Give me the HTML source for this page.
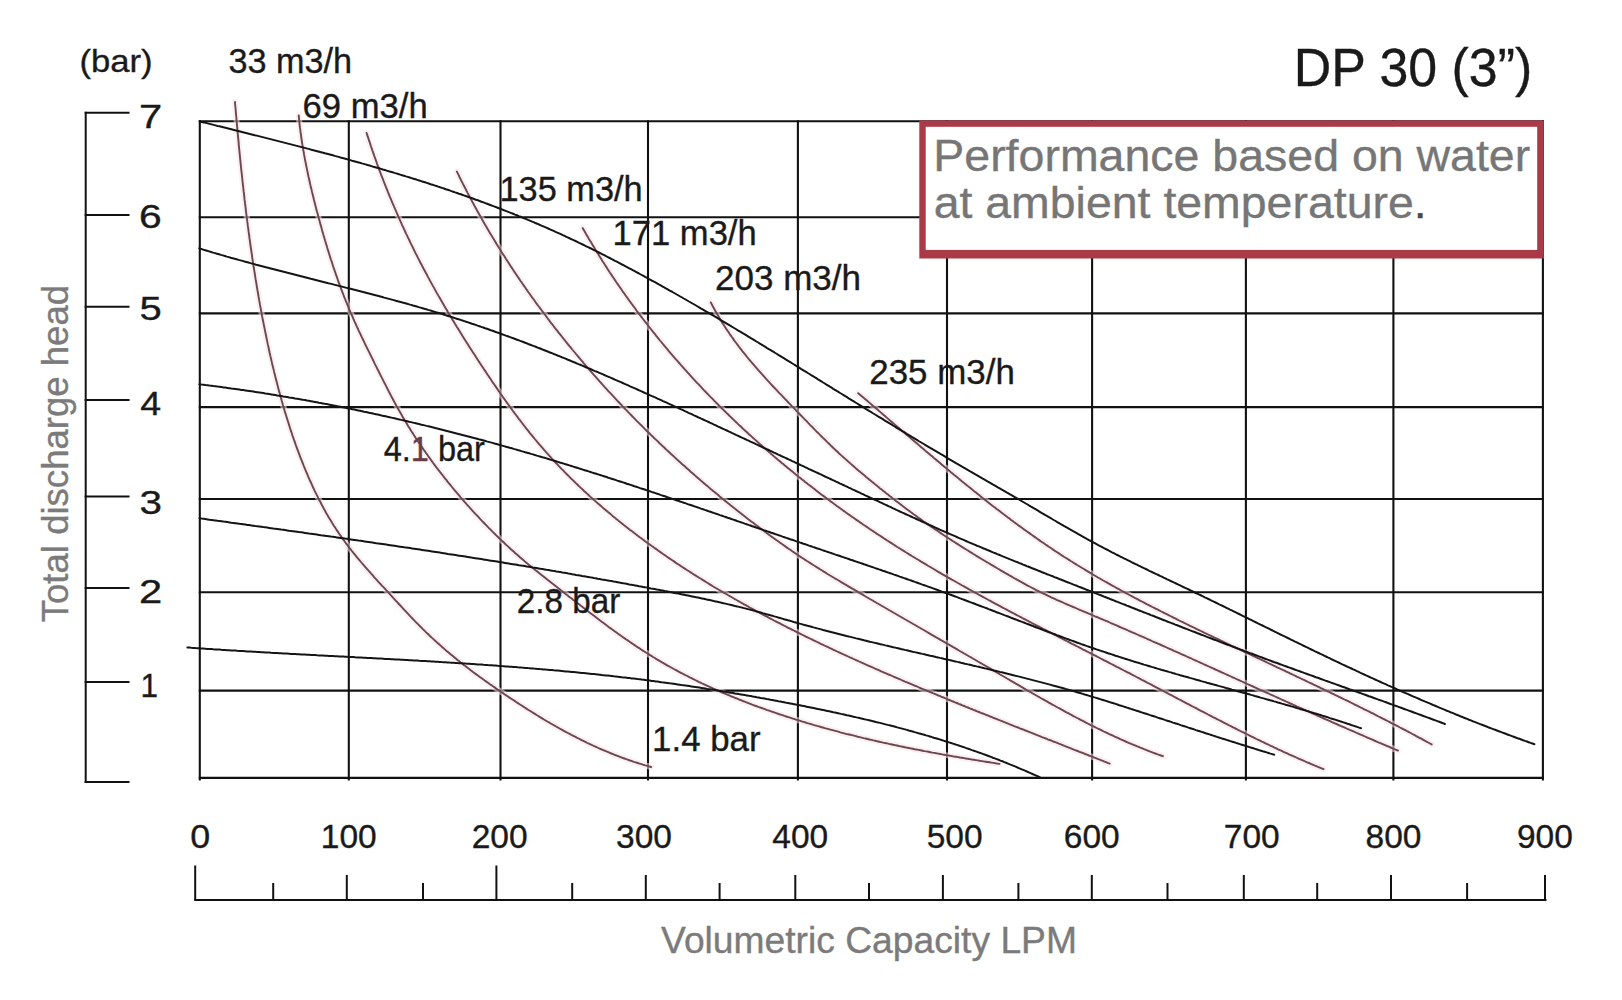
<!DOCTYPE html>
<html><head><meta charset="utf-8"><title>DP 30 (3") performance curve</title>
<style>html,body{margin:0;padding:0;background:#fff;width:1622px;height:1000px;overflow:hidden}svg{display:block;font-family:"Liberation Sans",sans-serif}</style>
</head><body><svg width="1622" height="1000" viewBox="0 0 1622 1000"><rect width="100%" height="100%" fill="#fff"/><g stroke="#111" stroke-width="2.1" fill="none"><line x1="199.8" y1="120.3" x2="199.8" y2="780.4"/><line x1="348.8" y1="120.3" x2="348.8" y2="780.4"/><line x1="500.5" y1="120.3" x2="500.5" y2="780.4"/><line x1="648.0" y1="120.3" x2="648.0" y2="780.4"/><line x1="797.9" y1="120.3" x2="797.9" y2="780.4"/><line x1="947.0" y1="120.3" x2="947.0" y2="780.4"/><line x1="1092.1" y1="120.3" x2="1092.1" y2="780.4"/><line x1="1245.9" y1="120.3" x2="1245.9" y2="780.4"/><line x1="1393.4" y1="120.3" x2="1393.4" y2="780.4"/><line x1="1542.9" y1="120.3" x2="1542.9" y2="780.4"/><line x1="198.8" y1="121.3" x2="1543.9" y2="121.3"/><line x1="198.8" y1="217.2" x2="1543.9" y2="217.2"/><line x1="198.8" y1="313.4" x2="1543.9" y2="313.4"/><line x1="198.8" y1="407.1" x2="1543.9" y2="407.1"/><line x1="198.8" y1="499.0" x2="1543.9" y2="499.0"/><line x1="198.8" y1="592.2" x2="1543.9" y2="592.2"/><line x1="198.8" y1="690.6" x2="1543.9" y2="690.6"/><line x1="198.8" y1="777.9" x2="1543.9" y2="777.9"/></g><g stroke="#111" stroke-width="2" fill="none"><line x1="85.7" y1="111.8" x2="85.7" y2="783.1"/><line x1="84.7" y1="112.8" x2="129.5" y2="112.8"/><line x1="84.7" y1="215.1" x2="129.5" y2="215.1"/><line x1="84.7" y1="306.8" x2="129.5" y2="306.8"/><line x1="84.7" y1="400.1" x2="129.5" y2="400.1"/><line x1="84.7" y1="496.4" x2="129.5" y2="496.4"/><line x1="84.7" y1="588.1" x2="129.5" y2="588.1"/><line x1="84.7" y1="682.0" x2="129.5" y2="682.0"/><line x1="84.7" y1="782.1" x2="129.5" y2="782.1"/></g><g stroke="#111" stroke-width="2" fill="none"><line x1="194.2" y1="900.0" x2="1546.5" y2="900.0"/><line x1="195.2" y1="865.5" x2="195.2" y2="900.0"/><line x1="346.8" y1="875.0" x2="346.8" y2="900.0"/><line x1="496.4" y1="865.5" x2="496.4" y2="900.0"/><line x1="645.8" y1="875.0" x2="645.8" y2="900.0"/><line x1="795.3" y1="875.0" x2="795.3" y2="900.0"/><line x1="942.9" y1="875.0" x2="942.9" y2="900.0"/><line x1="1091.8" y1="875.0" x2="1091.8" y2="900.0"/><line x1="1243.8" y1="875.0" x2="1243.8" y2="900.0"/><line x1="1391.0" y1="875.0" x2="1391.0" y2="900.0"/><line x1="1545.0" y1="875.0" x2="1545.0" y2="900.0"/><line x1="273.2" y1="883.0" x2="273.2" y2="900.0"/><line x1="423.0" y1="883.0" x2="423.0" y2="900.0"/><line x1="572.2" y1="883.0" x2="572.2" y2="900.0"/><line x1="719.6" y1="883.0" x2="719.6" y2="900.0"/><line x1="869.0" y1="883.0" x2="869.0" y2="900.0"/><line x1="1018.4" y1="883.0" x2="1018.4" y2="900.0"/><line x1="1167.5" y1="883.0" x2="1167.5" y2="900.0"/><line x1="1317.2" y1="883.0" x2="1317.2" y2="900.0"/><line x1="1467.1" y1="883.0" x2="1467.1" y2="900.0"/></g><g stroke="#f8e2e7" stroke-width="6" fill="none" stroke-linecap="round" opacity="0.55"><path d="M235.0,102.0 L235.1,104.0 L235.3,106.0 L235.5,108.0 L235.7,110.0 L235.8,112.0 L236.0,114.0 L236.2,116.0 L236.4,118.0 L236.5,120.0 L236.7,122.0 L236.9,124.1 L237.1,126.1 L237.3,128.1 L237.4,130.1 L237.6,132.1 L237.8,134.1 L238.0,136.1 L238.2,138.1 L238.4,140.1 L238.6,142.1 L238.7,144.1 L238.9,146.1 L239.1,148.1 L239.3,150.1 L239.5,152.1 L239.7,154.1 L239.9,156.1 L240.1,158.1 L240.3,160.1 L240.5,162.1 L240.7,164.1 L240.9,166.1 L241.1,168.0 L241.3,170.0 L241.5,172.0 L241.8,174.0 L242.0,176.0 L242.2,178.0 L242.4,180.0 L242.6,182.0 L242.8,184.0 L243.1,186.0 L243.3,188.0 L243.5,190.0 L243.7,191.9 L244.0,193.9 L244.2,195.9 L244.4,197.9 L244.6,199.9 L244.9,201.9 L245.1,203.9 L245.4,205.9 L245.6,207.9 L245.8,209.8 L246.1,211.8 L246.3,213.8 L246.6,215.8 L246.8,217.8 L247.1,219.8 L247.3,221.7 L247.6,223.7 L247.8,225.7 L248.1,227.7 L248.4,229.7 L248.6,231.7 L248.9,233.6 L249.2,235.6 L249.4,237.6 L249.7,239.6 L250.0,241.6 L250.2,243.6 L250.5,245.5 L250.8,247.5 L251.1,249.5 L251.4,251.5 L251.7,253.5 L252.0,255.4 L252.2,257.4 L252.5,259.4 L252.8,261.4 L253.1,263.4 L253.4,265.3 L253.7,267.3 L254.1,269.3 L254.4,271.3 L254.7,273.2 L255.0,275.2 L255.3,277.2 L255.6,279.2 L256.0,281.2 L256.3,283.1 L256.6,285.1 L256.9,287.1 L257.3,289.1 L257.6,291.0 L258.0,293.0 L258.3,295.0 L258.6,297.0 L259.0,299.0 L259.3,300.9 L259.7,302.9 L260.0,304.9 L260.4,306.9 L260.8,308.8 L261.1,310.8 L261.5,312.8 L261.9,314.8 L262.2,316.7 L262.6,318.7 L263.0,320.7 L263.4,322.7 L263.8,324.6 L264.2,326.6 L264.6,328.6 L265.0,330.6 L265.4,332.5 L265.8,334.5 L266.2,336.5 L266.6,338.5 L267.0,340.4 L267.4,342.4 L267.8,344.4 L268.3,346.3 L268.7,348.3 L269.1,350.3 L269.5,352.2 L270.0,354.2 L270.4,356.2 L270.9,358.1 L271.3,360.1 L271.8,362.1 L272.2,364.0 L272.7,366.0 L273.2,368.0 L273.7,369.9 L274.1,371.9 L274.6,373.8 L275.1,375.8 L275.6,377.7 L276.1,379.7 L276.6,381.6 L277.1,383.6 L277.6,385.5 L278.1,387.5 L278.6,389.4 L279.1,391.4 L279.7,393.3 L280.2,395.3 L280.7,397.2 L281.3,399.1 L281.8,401.1 L282.4,403.0 L282.9,404.9 L283.5,406.9 L284.1,408.8 L284.6,410.7 L285.2,412.6 L285.8,414.6 L286.4,416.5 L287.0,418.4 L287.6,420.3 L288.2,422.2 L288.8,424.1 L289.4,426.1 L290.0,428.0 L290.6,429.9 L291.3,431.8 L291.9,433.7 L292.5,435.6 L293.2,437.5 L293.8,439.4 L294.5,441.2 L295.2,443.1 L295.8,445.0 L296.5,446.9 L297.2,448.8 L297.9,450.6 L298.6,452.5 L299.3,454.4 L300.0,456.3 L300.7,458.1 L301.4,460.0 L302.2,461.8 L302.9,463.7 L303.6,465.5 L304.4,467.4 L305.1,469.2 L305.9,471.1 L306.7,472.9 L307.5,474.7 L308.2,476.6 L309.0,478.4 L309.8,480.2 L310.7,482.0 L311.5,483.9 L312.3,485.7 L313.1,487.5 L314.0,489.3 L314.8,491.1 L315.7,492.9 L316.6,494.6 L317.5,496.4 L318.3,498.2 L319.2,500.0 L320.2,501.7 L321.1,503.5 L322.0,505.3 L323.0,507.0 L323.9,508.8 L324.9,510.5 L325.8,512.2 L326.8,514.0 L327.8,515.7 L328.8,517.4 L329.8,519.1 L330.9,520.8 L331.9,522.5 L333.0,524.2 L334.0,525.9 L335.1,527.6 L336.2,529.3 L337.3,530.9 L338.4,532.6 L339.5,534.3 L340.7,535.9 L341.8,537.6 L343.0,539.2 L344.2,540.8 L345.4,542.5 L346.6,544.1 L347.8,545.7 L349.0,547.3 L350.3,548.9 L351.5,550.5 L352.8,552.1 L354.0,553.6 L355.3,555.2 L356.6,556.8 L357.9,558.4 L359.2,559.9 L360.5,561.5 L361.8,563.0 L363.2,564.6 L364.5,566.1 L365.8,567.6 L367.2,569.2 L368.5,570.7 L369.9,572.2 L371.2,573.7 L372.6,575.2 L373.9,576.8 L375.3,578.3 L376.7,579.8 L378.0,581.3 L379.4,582.8 L380.8,584.3 L382.1,585.8 L383.5,587.2 L384.9,588.7 L386.2,590.2 L387.6,591.7 L389.0,593.2 L390.3,594.7 L391.7,596.1 L393.0,597.6 L394.4,599.1 L395.7,600.6 L397.1,602.0 L398.4,603.5 L399.8,605.0 L401.1,606.4 L402.5,607.9 L403.8,609.3 L405.2,610.8 L406.5,612.2 L407.9,613.7 L409.2,615.1 L410.6,616.6 L412.0,618.0 L413.3,619.4 L414.7,620.9 L416.1,622.3 L417.5,623.7 L418.9,625.1 L420.3,626.5 L421.7,627.9 L423.1,629.3 L424.5,630.7 L425.9,632.1 L427.4,633.5 L428.8,634.8 L430.2,636.2 L431.7,637.6 L433.2,638.9 L434.6,640.3 L436.1,641.6 L437.6,643.0 L439.1,644.3 L440.6,645.6 L442.1,647.0 L443.6,648.3 L445.1,649.6 L446.6,650.9 L448.2,652.2 L449.7,653.5 L451.2,654.8 L452.8,656.1 L454.3,657.3 L455.9,658.6 L457.4,659.9 L459.0,661.1 L460.6,662.4 L462.2,663.6 L463.7,664.9 L465.3,666.1 L466.9,667.3 L468.5,668.5 L470.1,669.8 L471.7,671.0 L473.3,672.2 L474.9,673.4 L476.6,674.6 L478.2,675.8 L479.8,676.9 L481.4,678.1 L483.1,679.3 L484.7,680.5 L486.3,681.6 L488.0,682.8 L489.6,684.0 L491.3,685.1 L492.9,686.3 L494.6,687.4 L496.2,688.6 L497.9,689.7 L499.5,690.8 L501.2,692.0 L502.9,693.1 L504.5,694.2 L506.2,695.4 L507.9,696.5 L509.5,697.6 L511.2,698.7 L512.9,699.8 L514.6,700.9 L516.2,702.0 L517.9,703.1 L519.6,704.2 L521.3,705.3 L523.0,706.4 L524.7,707.5 L526.4,708.6 L528.1,709.7 L529.8,710.7 L531.5,711.8 L533.2,712.9 L534.9,713.9 L536.6,715.0 L538.3,716.0 L540.0,717.1 L541.7,718.1 L543.5,719.2 L545.2,720.2 L546.9,721.2 L548.6,722.2 L550.4,723.2 L552.1,724.2 L553.8,725.2 L555.6,726.2 L557.3,727.2 L559.1,728.2 L560.8,729.2 L562.6,730.1 L564.3,731.1 L566.1,732.1 L567.9,733.0 L569.6,733.9 L571.4,734.9 L573.2,735.8 L575.0,736.7 L576.7,737.6 L578.5,738.5 L580.3,739.4 L582.1,740.3 L583.9,741.2 L585.7,742.1 L587.5,743.0 L589.3,743.8 L591.1,744.7 L592.9,745.5 L594.8,746.3 L596.6,747.2 L598.4,748.0 L600.2,748.8 L602.1,749.6 L603.9,750.4 L605.8,751.2 L607.6,751.9 L609.4,752.7 L611.3,753.5 L613.2,754.2 L615.0,755.0 L616.9,755.7 L618.8,756.4 L620.6,757.1 L622.5,757.8 L624.4,758.5 L626.3,759.2 L628.2,759.8 L630.1,760.5 L632.0,761.1 L633.9,761.8 L635.8,762.4 L637.7,763.0 L639.6,763.6 L641.6,764.2 L643.5,764.8 L645.4,765.4 L647.4,765.9 L649.3,766.5 L651.2,767.0"/><path d="M298.7,115.4 L298.9,117.4 L299.1,119.4 L299.3,121.3 L299.5,123.3 L299.7,125.3 L299.9,127.2 L300.2,129.2 L300.4,131.2 L300.7,133.1 L301.0,135.1 L301.2,137.0 L301.5,139.0 L301.8,141.0 L302.1,142.9 L302.4,144.9 L302.8,146.9 L303.1,148.8 L303.4,150.8 L303.8,152.7 L304.1,154.7 L304.5,156.7 L304.8,158.6 L305.2,160.6 L305.6,162.5 L306.0,164.5 L306.4,166.5 L306.8,168.4 L307.2,170.4 L307.6,172.3 L308.0,174.3 L308.4,176.2 L308.9,178.2 L309.3,180.2 L309.7,182.1 L310.2,184.1 L310.6,186.0 L311.1,188.0 L311.6,189.9 L312.0,191.9 L312.5,193.8 L313.0,195.8 L313.5,197.7 L313.9,199.7 L314.4,201.6 L314.9,203.5 L315.4,205.5 L315.9,207.4 L316.4,209.4 L316.9,211.3 L317.5,213.3 L318.0,215.2 L318.5,217.1 L319.0,219.1 L319.6,221.0 L320.1,222.9 L320.6,224.9 L321.2,226.8 L321.7,228.7 L322.2,230.7 L322.8,232.6 L323.3,234.5 L323.9,236.5 L324.5,238.4 L325.0,240.3 L325.6,242.2 L326.2,244.2 L326.8,246.1 L327.3,248.0 L327.9,249.9 L328.5,251.8 L329.1,253.7 L329.7,255.7 L330.3,257.6 L330.9,259.5 L331.6,261.4 L332.2,263.3 L332.8,265.2 L333.4,267.1 L334.1,269.0 L334.7,270.9 L335.4,272.8 L336.0,274.7 L336.7,276.6 L337.4,278.5 L338.0,280.4 L338.7,282.3 L339.4,284.2 L340.1,286.1 L340.8,288.0 L341.5,289.8 L342.2,291.7 L343.0,293.6 L343.7,295.5 L344.4,297.4 L345.2,299.2 L345.9,301.1 L346.7,303.0 L347.4,304.9 L348.2,306.7 L349.0,308.6 L349.8,310.5 L350.5,312.3 L351.3,314.2 L352.2,316.0 L353.0,317.9 L353.8,319.8 L354.6,321.6 L355.5,323.5 L356.3,325.3 L357.1,327.2 L358.0,329.0 L358.8,330.8 L359.7,332.7 L360.6,334.5 L361.4,336.3 L362.3,338.2 L363.2,340.0 L364.1,341.8 L364.9,343.7 L365.8,345.5 L366.7,347.3 L367.6,349.1 L368.5,350.9 L369.4,352.7 L370.3,354.6 L371.2,356.4 L372.1,358.2 L373.0,360.0 L373.9,361.8 L374.7,363.6 L375.6,365.4 L376.5,367.2 L377.4,369.0 L378.3,370.7 L379.2,372.5 L380.1,374.3 L381.0,376.1 L381.9,377.9 L382.8,379.6 L383.7,381.4 L384.6,383.2 L385.5,384.9 L386.4,386.7 L387.3,388.5 L388.2,390.2 L389.1,392.0 L390.0,393.7 L390.9,395.5 L391.8,397.2 L392.8,399.0 L393.7,400.7 L394.6,402.4 L395.6,404.2 L396.5,405.9 L397.5,407.6 L398.4,409.3 L399.4,411.1 L400.4,412.8 L401.4,414.5 L402.3,416.2 L403.3,417.9 L404.3,419.6 L405.4,421.3 L406.4,423.0 L407.4,424.7 L408.4,426.4 L409.5,428.1 L410.5,429.8 L411.6,431.5 L412.7,433.1 L413.7,434.8 L414.8,436.5 L415.9,438.2 L417.0,439.8 L418.1,441.5 L419.2,443.1 L420.3,444.8 L421.4,446.4 L422.6,448.1 L423.7,449.7 L424.9,451.4 L426.0,453.0 L427.2,454.6 L428.3,456.3 L429.5,457.9 L430.7,459.5 L431.8,461.1 L433.0,462.8 L434.2,464.4 L435.4,466.0 L436.6,467.6 L437.8,469.2 L439.1,470.8 L440.3,472.4 L441.5,473.9 L442.8,475.5 L444.0,477.1 L445.2,478.7 L446.5,480.2 L447.7,481.8 L449.0,483.4 L450.3,484.9 L451.6,486.5 L452.8,488.0 L454.1,489.6 L455.4,491.1 L456.7,492.7 L458.0,494.2 L459.3,495.7 L460.6,497.3 L461.9,498.8 L463.2,500.3 L464.6,501.8 L465.9,503.3 L467.2,504.8 L468.6,506.3 L469.9,507.8 L471.3,509.3 L472.6,510.8 L474.0,512.3 L475.3,513.8 L476.7,515.2 L478.1,516.7 L479.4,518.2 L480.8,519.6 L482.2,521.1 L483.6,522.5 L485.0,524.0 L486.4,525.4 L487.8,526.9 L489.2,528.3 L490.6,529.7 L492.0,531.1 L493.5,532.6 L494.9,534.0 L496.3,535.4 L497.8,536.8 L499.2,538.2 L500.7,539.6 L502.1,541.0 L503.6,542.3 L505.0,543.7 L506.5,545.1 L508.0,546.4 L509.4,547.8 L510.9,549.2 L512.4,550.5 L513.9,551.8 L515.4,553.2 L516.9,554.5 L518.4,555.8 L519.9,557.2 L521.4,558.5 L523.0,559.8 L524.5,561.1 L526.0,562.4 L527.6,563.7 L529.1,565.0 L530.7,566.3 L532.2,567.5 L533.8,568.8 L535.3,570.1 L536.9,571.3 L538.5,572.6 L540.0,573.8 L541.6,575.1 L543.2,576.3 L544.8,577.6 L546.3,578.8 L547.9,580.1 L549.5,581.3 L551.1,582.6 L552.7,583.8 L554.3,585.0 L555.9,586.3 L557.4,587.5 L559.0,588.7 L560.6,590.0 L562.2,591.2 L563.8,592.4 L565.4,593.7 L567.0,594.9 L568.5,596.2 L570.1,597.4 L571.7,598.6 L573.3,599.9 L574.9,601.1 L576.5,602.3 L578.1,603.6 L579.7,604.8 L581.2,606.0 L582.8,607.3 L584.4,608.5 L586.0,609.7 L587.6,610.9 L589.2,612.2 L590.8,613.4 L592.4,614.6 L594.0,615.8 L595.6,617.0 L597.2,618.3 L598.8,619.5 L600.4,620.7 L602.0,621.9 L603.6,623.1 L605.2,624.3 L606.8,625.5 L608.4,626.7 L610.0,627.9 L611.6,629.0 L613.3,630.2 L614.9,631.4 L616.5,632.6 L618.1,633.7 L619.8,634.9 L621.4,636.1 L623.0,637.2 L624.7,638.4 L626.3,639.5 L628.0,640.6 L629.6,641.8 L631.3,642.9 L632.9,644.0 L634.6,645.1 L636.2,646.2 L637.9,647.4 L639.6,648.4 L641.2,649.5 L642.9,650.6 L644.6,651.7 L646.3,652.8 L648.0,653.8 L649.7,654.9 L651.4,655.9 L653.1,657.0 L654.8,658.0 L656.5,659.1 L658.2,660.1 L659.9,661.1 L661.6,662.1 L663.4,663.1 L665.1,664.1 L666.8,665.1 L668.6,666.1 L670.3,667.0 L672.1,668.0 L673.8,669.0 L675.6,669.9 L677.3,670.9 L679.1,671.8 L680.9,672.8 L682.6,673.7 L684.4,674.6 L686.2,675.5 L688.0,676.4 L689.7,677.3 L691.5,678.2 L693.3,679.1 L695.1,680.0 L696.9,680.9 L698.7,681.8 L700.5,682.6 L702.3,683.5 L704.1,684.3 L705.9,685.2 L707.8,686.0 L709.6,686.9 L711.4,687.7 L713.2,688.5 L715.1,689.3 L716.9,690.2 L718.7,691.0 L720.6,691.8 L722.4,692.6 L724.2,693.4 L726.1,694.1 L727.9,694.9 L729.8,695.7 L731.6,696.5 L733.5,697.2 L735.3,698.0 L737.2,698.7 L739.1,699.5 L740.9,700.2 L742.8,701.0 L744.7,701.7 L746.5,702.4 L748.4,703.1 L750.3,703.8 L752.2,704.6 L754.0,705.3 L755.9,706.0 L757.8,706.7 L759.7,707.3 L761.6,708.0 L763.5,708.7 L765.4,709.4 L767.3,710.1 L769.2,710.7 L771.1,711.4 L773.0,712.0 L774.9,712.7 L776.8,713.3 L778.7,714.0 L780.6,714.6 L782.5,715.2 L784.4,715.9 L786.3,716.5 L788.2,717.1 L790.1,717.7 L792.0,718.3 L793.9,718.9 L795.9,719.6 L797.8,720.1 L799.7,720.7 L801.6,721.3 L803.5,721.9 L805.5,722.5 L807.4,723.1 L809.3,723.6 L811.2,724.2 L813.2,724.8 L815.1,725.3 L817.0,725.9 L819.0,726.4 L820.9,727.0 L822.8,727.5 L824.8,728.1 L826.7,728.6 L828.6,729.1 L830.6,729.7 L832.5,730.2 L834.4,730.7 L836.4,731.2 L838.3,731.7 L840.3,732.3 L842.2,732.8 L844.1,733.3 L846.1,733.8 L848.0,734.3 L850.0,734.7 L851.9,735.2 L853.9,735.7 L855.8,736.2 L857.8,736.7 L859.7,737.1 L861.7,737.6 L863.6,738.1 L865.6,738.5 L867.5,739.0 L869.5,739.5 L871.4,739.9 L873.4,740.4 L875.3,740.8 L877.3,741.3 L879.2,741.7 L881.2,742.1 L883.2,742.6 L885.1,743.0 L887.1,743.4 L889.0,743.9 L891.0,744.3 L893.0,744.7 L894.9,745.1 L896.9,745.5 L898.9,746.0 L900.8,746.4 L902.8,746.8 L904.7,747.2 L906.7,747.6 L908.7,748.0 L910.6,748.4 L912.6,748.8 L914.6,749.2 L916.5,749.5 L918.5,749.9 L920.5,750.3 L922.5,750.7 L924.4,751.1 L926.4,751.4 L928.4,751.8 L930.3,752.2 L932.3,752.6 L934.3,752.9 L936.3,753.3 L938.2,753.6 L940.2,754.0 L942.2,754.4 L944.1,754.7 L946.1,755.1 L948.1,755.4 L950.1,755.8 L952.0,756.1 L954.0,756.5 L956.0,756.8 L958.0,757.1 L959.9,757.5 L961.9,757.8 L963.9,758.1 L965.9,758.5 L967.8,758.8 L969.8,759.1 L971.8,759.5 L973.8,759.8 L975.8,760.1 L977.7,760.4 L979.7,760.8 L981.7,761.1 L983.7,761.4 L985.6,761.7 L987.6,762.0 L989.6,762.3 L991.6,762.6 L993.5,762.9 L995.5,763.3 L997.5,763.6 L999.5,763.9"/><path d="M366.6,133.0 L367.2,134.9 L367.9,136.9 L368.5,138.8 L369.1,140.7 L369.8,142.6 L370.4,144.6 L371.0,146.5 L371.7,148.4 L372.3,150.3 L373.0,152.2 L373.7,154.1 L374.3,156.0 L375.0,157.9 L375.7,159.8 L376.4,161.7 L377.0,163.6 L377.7,165.5 L378.4,167.4 L379.1,169.3 L379.8,171.1 L380.5,173.0 L381.2,174.9 L382.0,176.8 L382.7,178.6 L383.4,180.5 L384.1,182.4 L384.9,184.3 L385.6,186.1 L386.3,188.0 L387.1,189.8 L387.8,191.7 L388.6,193.6 L389.3,195.4 L390.1,197.3 L390.9,199.1 L391.6,201.0 L392.4,202.8 L393.2,204.6 L394.0,206.5 L394.8,208.3 L395.6,210.1 L396.4,212.0 L397.2,213.8 L398.0,215.6 L398.8,217.5 L399.6,219.3 L400.4,221.1 L401.2,222.9 L402.0,224.8 L402.9,226.6 L403.7,228.4 L404.5,230.2 L405.4,232.0 L406.2,233.8 L407.1,235.6 L407.9,237.4 L408.8,239.2 L409.7,241.0 L410.5,242.8 L411.4,244.6 L412.3,246.4 L413.2,248.2 L414.0,250.0 L414.9,251.8 L415.8,253.6 L416.7,255.3 L417.6,257.1 L418.5,258.9 L419.4,260.7 L420.3,262.5 L421.3,264.2 L422.2,266.0 L423.1,267.8 L424.0,269.5 L425.0,271.3 L425.9,273.1 L426.9,274.8 L427.8,276.6 L428.8,278.4 L429.7,280.1 L430.7,281.9 L431.6,283.6 L432.6,285.4 L433.6,287.1 L434.6,288.9 L435.5,290.6 L436.5,292.4 L437.5,294.1 L438.5,295.9 L439.5,297.6 L440.5,299.3 L441.5,301.1 L442.5,302.8 L443.5,304.5 L444.5,306.3 L445.5,308.0 L446.6,309.7 L447.6,311.5 L448.6,313.2 L449.6,314.9 L450.7,316.6 L451.7,318.3 L452.7,320.1 L453.8,321.8 L454.8,323.5 L455.9,325.2 L456.9,326.9 L458.0,328.6 L459.0,330.3 L460.1,332.1 L461.2,333.8 L462.2,335.5 L463.3,337.2 L464.4,338.9 L465.4,340.6 L466.5,342.3 L467.6,344.0 L468.7,345.7 L469.8,347.4 L470.8,349.1 L471.9,350.7 L473.0,352.4 L474.1,354.1 L475.2,355.8 L476.3,357.5 L477.4,359.2 L478.5,360.9 L479.6,362.6 L480.7,364.2 L481.8,365.9 L482.9,367.6 L484.0,369.3 L485.1,370.9 L486.2,372.6 L487.3,374.3 L488.5,376.0 L489.6,377.6 L490.7,379.3 L491.8,381.0 L492.9,382.6 L494.1,384.3 L495.2,385.9 L496.4,387.6 L497.5,389.2 L498.6,390.9 L499.8,392.5 L500.9,394.2 L502.1,395.8 L503.2,397.5 L504.4,399.1 L505.6,400.8 L506.7,402.4 L507.9,404.0 L509.1,405.6 L510.3,407.3 L511.5,408.9 L512.6,410.5 L513.8,412.1 L515.0,413.7 L516.2,415.3 L517.4,416.9 L518.6,418.5 L519.9,420.1 L521.1,421.7 L522.3,423.3 L523.5,424.9 L524.8,426.5 L526.0,428.1 L527.2,429.6 L528.5,431.2 L529.7,432.8 L531.0,434.3 L532.3,435.9 L533.5,437.4 L534.8,439.0 L536.1,440.5 L537.4,442.1 L538.7,443.6 L540.0,445.1 L541.3,446.6 L542.6,448.1 L543.9,449.7 L545.2,451.2 L546.5,452.7 L547.9,454.1 L549.2,455.6 L550.6,457.1 L551.9,458.6 L553.3,460.1 L554.6,461.5 L556.0,463.0 L557.4,464.4 L558.7,465.9 L560.1,467.3 L561.5,468.8 L562.9,470.2 L564.3,471.7 L565.7,473.1 L567.1,474.5 L568.5,475.9 L569.9,477.3 L571.3,478.7 L572.8,480.1 L574.2,481.5 L575.6,482.9 L577.1,484.3 L578.5,485.7 L580.0,487.1 L581.4,488.4 L582.9,489.8 L584.3,491.2 L585.8,492.5 L587.3,493.9 L588.7,495.2 L590.2,496.6 L591.7,497.9 L593.2,499.2 L594.7,500.6 L596.2,501.9 L597.7,503.2 L599.2,504.5 L600.7,505.8 L602.2,507.1 L603.7,508.4 L605.3,509.7 L606.8,511.0 L608.3,512.3 L609.9,513.6 L611.4,514.9 L612.9,516.2 L614.5,517.4 L616.0,518.7 L617.6,519.9 L619.1,521.2 L620.7,522.5 L622.3,523.7 L623.8,525.0 L625.4,526.2 L627.0,527.4 L628.6,528.7 L630.1,529.9 L631.7,531.1 L633.3,532.3 L634.9,533.5 L636.5,534.7 L638.1,535.9 L639.7,537.2 L641.3,538.3 L642.9,539.5 L644.5,540.7 L646.1,541.9 L647.7,543.1 L649.4,544.3 L651.0,545.4 L652.6,546.6 L654.2,547.8 L655.9,548.9 L657.5,550.1 L659.1,551.2 L660.8,552.4 L662.4,553.5 L664.1,554.7 L665.7,555.8 L667.3,557.0 L669.0,558.1 L670.7,559.2 L672.3,560.3 L674.0,561.4 L675.6,562.6 L677.3,563.7 L679.0,564.8 L680.6,565.9 L682.3,567.0 L684.0,568.1 L685.7,569.2 L687.3,570.3 L689.0,571.3 L690.7,572.4 L692.4,573.5 L694.1,574.6 L695.8,575.6 L697.5,576.7 L699.2,577.8 L700.9,578.8 L702.6,579.9 L704.3,580.9 L706.0,582.0 L707.7,583.0 L709.4,584.1 L711.1,585.1 L712.8,586.2 L714.5,587.2 L716.2,588.2 L718.0,589.3 L719.7,590.3 L721.4,591.3 L723.1,592.3 L724.9,593.3 L726.6,594.3 L728.3,595.3 L730.1,596.3 L731.8,597.3 L733.5,598.3 L735.3,599.3 L737.0,600.3 L738.8,601.3 L740.5,602.3 L742.3,603.3 L744.0,604.3 L745.8,605.2 L747.5,606.2 L749.3,607.2 L751.0,608.2 L752.8,609.1 L754.6,610.1 L756.3,611.0 L758.1,612.0 L759.9,612.9 L761.6,613.9 L763.4,614.8 L765.2,615.8 L766.9,616.7 L768.7,617.7 L770.5,618.6 L772.3,619.5 L774.0,620.5 L775.8,621.4 L777.6,622.3 L779.4,623.2 L781.2,624.2 L783.0,625.1 L784.8,626.0 L786.5,626.9 L788.3,627.8 L790.1,628.7 L791.9,629.6 L793.7,630.5 L795.5,631.4 L797.3,632.3 L799.1,633.2 L800.9,634.1 L802.7,635.0 L804.5,635.9 L806.3,636.8 L808.1,637.7 L809.9,638.5 L811.8,639.4 L813.6,640.3 L815.4,641.2 L817.2,642.0 L819.0,642.9 L820.8,643.8 L822.6,644.6 L824.4,645.5 L826.3,646.4 L828.1,647.2 L829.9,648.1 L831.7,648.9 L833.5,649.8 L835.4,650.6 L837.2,651.5 L839.0,652.3 L840.8,653.2 L842.7,654.0 L844.5,654.9 L846.3,655.7 L848.1,656.5 L850.0,657.4 L851.8,658.2 L853.6,659.0 L855.5,659.8 L857.3,660.7 L859.1,661.5 L861.0,662.3 L862.8,663.1 L864.6,664.0 L866.5,664.8 L868.3,665.6 L870.1,666.4 L872.0,667.2 L873.8,668.0 L875.6,668.8 L877.5,669.6 L879.3,670.4 L881.2,671.3 L883.0,672.1 L884.8,672.9 L886.7,673.7 L888.5,674.5 L890.4,675.2 L892.2,676.0 L894.1,676.8 L895.9,677.6 L897.7,678.4 L899.6,679.2 L901.4,680.0 L903.3,680.8 L905.1,681.6 L907.0,682.3 L908.8,683.1 L910.7,683.9 L912.5,684.7 L914.3,685.5 L916.2,686.2 L918.0,687.0 L919.9,687.8 L921.7,688.6 L923.6,689.3 L925.4,690.1 L927.3,690.9 L929.1,691.6 L931.0,692.4 L932.8,693.2 L934.7,693.9 L936.5,694.7 L938.4,695.5 L940.2,696.2 L942.0,697.0 L943.9,697.7 L945.7,698.5 L947.6,699.3 L949.4,700.0 L951.3,700.8 L953.1,701.5 L955.0,702.3 L956.8,703.0 L958.7,703.8 L960.5,704.5 L962.4,705.3 L964.2,706.0 L966.1,706.8 L967.9,707.5 L969.8,708.3 L971.6,709.0 L973.5,709.8 L975.3,710.5 L977.2,711.3 L979.0,712.0 L980.9,712.8 L982.7,713.5 L984.6,714.2 L986.4,715.0 L988.3,715.7 L990.1,716.5 L992.0,717.2 L993.8,718.0 L995.7,718.7 L997.5,719.4 L999.4,720.2 L1001.2,720.9 L1003.1,721.6 L1005.0,722.4 L1006.8,723.1 L1008.7,723.9 L1010.5,724.6 L1012.4,725.3 L1014.2,726.1 L1016.1,726.8 L1018.0,727.5 L1019.8,728.3 L1021.7,729.0 L1023.5,729.7 L1025.4,730.5 L1027.2,731.2 L1029.1,731.9 L1031.0,732.7 L1032.8,733.4 L1034.7,734.1 L1036.6,734.9 L1038.4,735.6 L1040.3,736.3 L1042.1,737.1 L1044.0,737.8 L1045.9,738.5 L1047.7,739.3 L1049.6,740.0 L1051.5,740.7 L1053.3,741.5 L1055.2,742.2 L1057.1,742.9 L1058.9,743.7 L1060.8,744.4 L1062.7,745.1 L1064.5,745.9 L1066.4,746.6 L1068.3,747.4 L1070.2,748.1 L1072.0,748.8 L1073.9,749.6 L1075.8,750.3 L1077.6,751.0 L1079.5,751.8 L1081.4,752.5 L1083.3,753.2 L1085.2,754.0 L1087.0,754.7 L1088.9,755.5 L1090.8,756.2 L1092.7,756.9 L1094.5,757.7 L1096.4,758.4 L1098.3,759.2 L1100.2,759.9 L1102.1,760.6 L1104.0,761.4 L1105.8,762.1 L1107.7,762.9 L1109.6,763.6"/><path d="M456.9,171.6 L457.8,173.4 L458.7,175.2 L459.5,177.0 L460.4,178.8 L461.3,180.6 L462.2,182.4 L463.1,184.2 L464.1,186.0 L465.0,187.8 L465.9,189.5 L466.8,191.3 L467.7,193.1 L468.7,194.9 L469.6,196.7 L470.5,198.4 L471.5,200.2 L472.4,202.0 L473.4,203.7 L474.3,205.5 L475.3,207.3 L476.3,209.0 L477.2,210.8 L478.2,212.5 L479.2,214.3 L480.2,216.0 L481.2,217.8 L482.2,219.5 L483.1,221.3 L484.1,223.0 L485.1,224.8 L486.2,226.5 L487.2,228.2 L488.2,229.9 L489.2,231.7 L490.2,233.4 L491.2,235.1 L492.3,236.8 L493.3,238.6 L494.4,240.3 L495.4,242.0 L496.4,243.7 L497.5,245.4 L498.5,247.1 L499.6,248.8 L500.7,250.5 L501.7,252.2 L502.8,253.9 L503.9,255.6 L505.0,257.3 L506.0,259.0 L507.1,260.6 L508.2,262.3 L509.3,264.0 L510.4,265.7 L511.5,267.4 L512.6,269.0 L513.7,270.7 L514.8,272.4 L515.9,274.0 L517.1,275.7 L518.2,277.4 L519.3,279.0 L520.4,280.7 L521.6,282.3 L522.7,284.0 L523.8,285.6 L525.0,287.3 L526.1,288.9 L527.3,290.5 L528.4,292.2 L529.6,293.8 L530.8,295.5 L531.9,297.1 L533.1,298.7 L534.3,300.3 L535.4,302.0 L536.6,303.6 L537.8,305.2 L539.0,306.8 L540.2,308.4 L541.4,310.0 L542.6,311.6 L543.8,313.2 L545.0,314.8 L546.2,316.4 L547.4,318.0 L548.6,319.6 L549.8,321.2 L551.0,322.8 L552.3,324.4 L553.5,326.0 L554.7,327.6 L555.9,329.2 L557.2,330.7 L558.4,332.3 L559.7,333.9 L560.9,335.4 L562.2,337.0 L563.4,338.6 L564.7,340.1 L565.9,341.7 L567.2,343.3 L568.4,344.8 L569.7,346.4 L571.0,347.9 L572.2,349.5 L573.5,351.0 L574.8,352.5 L576.1,354.1 L577.4,355.6 L578.7,357.2 L579.9,358.7 L581.2,360.2 L582.5,361.7 L583.8,363.3 L585.1,364.8 L586.4,366.3 L587.7,367.8 L589.1,369.3 L590.4,370.9 L591.7,372.4 L593.0,373.9 L594.3,375.4 L595.7,376.9 L597.0,378.4 L598.3,379.9 L599.6,381.4 L601.0,382.9 L602.3,384.4 L603.7,385.8 L605.0,387.3 L606.4,388.8 L607.7,390.3 L609.1,391.8 L610.4,393.2 L611.8,394.7 L613.1,396.2 L614.5,397.6 L615.9,399.1 L617.2,400.6 L618.6,402.0 L620.0,403.5 L621.4,404.9 L622.7,406.4 L624.1,407.8 L625.5,409.3 L626.9,410.7 L628.3,412.2 L629.7,413.6 L631.1,415.0 L632.5,416.5 L633.9,417.9 L635.3,419.3 L636.7,420.8 L638.1,422.2 L639.5,423.6 L641.0,425.0 L642.4,426.4 L643.8,427.8 L645.2,429.3 L646.6,430.7 L648.1,432.1 L649.5,433.5 L650.9,434.9 L652.4,436.3 L653.8,437.7 L655.3,439.1 L656.7,440.4 L658.2,441.8 L659.6,443.2 L661.1,444.6 L662.5,446.0 L664.0,447.3 L665.4,448.7 L666.9,450.1 L668.4,451.5 L669.8,452.8 L671.3,454.2 L672.8,455.5 L674.3,456.9 L675.7,458.3 L677.2,459.6 L678.7,461.0 L680.2,462.3 L681.7,463.7 L683.2,465.0 L684.7,466.3 L686.2,467.7 L687.7,469.0 L689.2,470.3 L690.7,471.7 L692.2,473.0 L693.7,474.3 L695.2,475.6 L696.7,477.0 L698.2,478.3 L699.7,479.6 L701.3,480.9 L702.8,482.2 L704.3,483.5 L705.8,484.8 L707.4,486.1 L708.9,487.4 L710.4,488.7 L712.0,490.0 L713.5,491.3 L715.1,492.6 L716.6,493.8 L718.2,495.1 L719.7,496.4 L721.3,497.7 L722.8,499.0 L724.4,500.2 L725.9,501.5 L727.5,502.8 L729.1,504.0 L730.6,505.3 L732.2,506.5 L733.8,507.8 L735.4,509.0 L736.9,510.3 L738.5,511.5 L740.1,512.8 L741.7,514.0 L743.3,515.3 L744.9,516.5 L746.4,517.7 L748.0,519.0 L749.6,520.2 L751.2,521.4 L752.8,522.6 L754.4,523.8 L756.0,525.1 L757.7,526.3 L759.3,527.5 L760.9,528.7 L762.5,529.9 L764.1,531.1 L765.7,532.3 L767.3,533.5 L769.0,534.7 L770.6,535.9 L772.2,537.1 L773.9,538.2 L775.5,539.4 L777.1,540.6 L778.8,541.8 L780.4,542.9 L782.0,544.1 L783.7,545.3 L785.3,546.4 L787.0,547.6 L788.6,548.7 L790.3,549.8 L791.9,551.0 L793.6,552.1 L795.2,553.2 L796.9,554.4 L798.6,555.5 L800.2,556.6 L801.9,557.7 L803.6,558.8 L805.2,559.9 L806.9,561.0 L808.6,562.0 L810.3,563.1 L812.0,564.2 L813.6,565.3 L815.3,566.3 L817.0,567.4 L818.7,568.4 L820.4,569.5 L822.1,570.5 L823.8,571.6 L825.5,572.6 L827.1,573.7 L828.8,574.7 L830.5,575.7 L832.2,576.7 L833.9,577.8 L835.7,578.8 L837.4,579.8 L839.1,580.8 L840.8,581.9 L842.5,582.9 L844.2,583.9 L845.9,584.9 L847.6,585.9 L849.3,586.9 L851.0,587.9 L852.7,588.9 L854.5,589.9 L856.2,590.9 L857.9,591.9 L859.6,592.9 L861.3,593.9 L863.1,594.9 L864.8,596.0 L866.5,597.0 L868.2,598.0 L869.9,599.0 L871.7,600.0 L873.4,601.0 L875.1,602.0 L876.8,603.0 L878.6,604.0 L880.3,605.0 L882.0,606.0 L883.8,607.0 L885.5,608.0 L887.2,609.0 L888.9,610.0 L890.7,611.0 L892.4,612.0 L894.1,613.0 L895.9,614.0 L897.6,615.0 L899.3,616.0 L901.1,617.0 L902.8,618.0 L904.5,619.0 L906.3,620.0 L908.0,621.0 L909.8,622.0 L911.5,623.0 L913.2,624.0 L915.0,625.0 L916.7,626.0 L918.4,627.0 L920.2,628.0 L921.9,629.0 L923.7,630.0 L925.4,631.0 L927.1,632.0 L928.9,633.1 L930.6,634.1 L932.3,635.1 L934.1,636.1 L935.8,637.1 L937.6,638.1 L939.3,639.1 L941.0,640.1 L942.8,641.1 L944.5,642.1 L946.3,643.1 L948.0,644.1 L949.8,645.1 L951.5,646.1 L953.2,647.1 L955.0,648.1 L956.7,649.1 L958.5,650.2 L960.2,651.2 L961.9,652.2 L963.7,653.2 L965.4,654.2 L967.2,655.2 L968.9,656.2 L970.6,657.2 L972.4,658.2 L974.1,659.2 L975.9,660.3 L977.6,661.3 L979.3,662.3 L981.1,663.3 L982.8,664.3 L984.6,665.3 L986.3,666.3 L988.0,667.3 L989.8,668.4 L991.5,669.4 L993.2,670.4 L995.0,671.4 L996.7,672.4 L998.5,673.4 L1000.2,674.5 L1001.9,675.5 L1003.7,676.5 L1005.4,677.5 L1007.1,678.5 L1008.9,679.5 L1010.6,680.6 L1012.4,681.6 L1014.1,682.6 L1015.8,683.6 L1017.6,684.6 L1019.3,685.6 L1021.0,686.6 L1022.8,687.6 L1024.5,688.7 L1026.3,689.7 L1028.0,690.7 L1029.7,691.7 L1031.5,692.7 L1033.2,693.7 L1035.0,694.7 L1036.7,695.7 L1038.4,696.7 L1040.2,697.7 L1041.9,698.7 L1043.7,699.6 L1045.4,700.6 L1047.2,701.6 L1048.9,702.6 L1050.7,703.6 L1052.4,704.6 L1054.2,705.5 L1055.9,706.5 L1057.7,707.5 L1059.5,708.4 L1061.2,709.4 L1063.0,710.4 L1064.7,711.3 L1066.5,712.3 L1068.3,713.2 L1070.0,714.2 L1071.8,715.1 L1073.5,716.1 L1075.3,717.0 L1077.1,718.0 L1078.9,718.9 L1080.6,719.8 L1082.4,720.7 L1084.2,721.7 L1086.0,722.6 L1087.7,723.5 L1089.5,724.4 L1091.3,725.3 L1093.1,726.2 L1094.9,727.1 L1096.7,728.0 L1098.5,728.8 L1100.3,729.7 L1102.1,730.6 L1103.9,731.5 L1105.7,732.3 L1107.5,733.2 L1109.3,734.1 L1111.1,734.9 L1112.9,735.7 L1114.7,736.6 L1116.5,737.4 L1118.4,738.2 L1120.2,739.1 L1122.0,739.9 L1123.8,740.7 L1125.7,741.5 L1127.5,742.3 L1129.3,743.1 L1131.2,743.9 L1133.0,744.6 L1134.9,745.4 L1136.7,746.2 L1138.6,746.9 L1140.4,747.7 L1142.3,748.4 L1144.1,749.2 L1146.0,749.9 L1147.8,750.6 L1149.7,751.4 L1151.6,752.1 L1153.5,752.8 L1155.3,753.5 L1157.2,754.2 L1159.1,754.8 L1161.0,755.5 L1162.9,756.2"/><path d="M582.8,228.2 L583.8,230.0 L584.8,231.7 L585.8,233.5 L586.8,235.2 L587.8,236.9 L588.8,238.7 L589.9,240.4 L590.9,242.1 L591.9,243.8 L592.9,245.6 L594.0,247.3 L595.0,249.0 L596.1,250.7 L597.1,252.4 L598.2,254.1 L599.2,255.8 L600.3,257.5 L601.4,259.2 L602.4,260.9 L603.5,262.6 L604.6,264.3 L605.7,266.0 L606.8,267.7 L607.8,269.4 L608.9,271.0 L610.0,272.7 L611.2,274.4 L612.3,276.1 L613.4,277.7 L614.5,279.4 L615.6,281.0 L616.7,282.7 L617.9,284.4 L619.0,286.0 L620.2,287.7 L621.3,289.3 L622.4,291.0 L623.6,292.6 L624.8,294.2 L625.9,295.9 L627.1,297.5 L628.2,299.1 L629.4,300.8 L630.6,302.4 L631.8,304.0 L633.0,305.6 L634.2,307.2 L635.3,308.8 L636.5,310.5 L637.7,312.1 L638.9,313.7 L640.2,315.3 L641.4,316.9 L642.6,318.5 L643.8,320.0 L645.0,321.6 L646.3,323.2 L647.5,324.8 L648.7,326.4 L650.0,328.0 L651.2,329.5 L652.5,331.1 L653.7,332.7 L655.0,334.2 L656.2,335.8 L657.5,337.4 L658.7,338.9 L660.0,340.5 L661.3,342.0 L662.6,343.6 L663.9,345.1 L665.1,346.7 L666.4,348.2 L667.7,349.7 L669.0,351.3 L670.3,352.8 L671.6,354.3 L672.9,355.8 L674.2,357.4 L675.5,358.9 L676.9,360.4 L678.2,361.9 L679.5,363.4 L680.8,364.9 L682.2,366.4 L683.5,367.9 L684.8,369.4 L686.2,370.9 L687.5,372.4 L688.9,373.9 L690.2,375.4 L691.6,376.9 L692.9,378.3 L694.3,379.8 L695.7,381.3 L697.0,382.8 L698.4,384.2 L699.8,385.7 L701.2,387.2 L702.5,388.6 L703.9,390.1 L705.3,391.5 L706.7,393.0 L708.1,394.4 L709.5,395.9 L710.9,397.3 L712.3,398.7 L713.7,400.2 L715.1,401.6 L716.5,403.0 L718.0,404.5 L719.4,405.9 L720.8,407.3 L722.2,408.7 L723.7,410.1 L725.1,411.5 L726.5,412.9 L728.0,414.3 L729.4,415.7 L730.9,417.1 L732.3,418.5 L733.8,419.9 L735.2,421.3 L736.7,422.7 L738.1,424.1 L739.6,425.5 L741.1,426.8 L742.5,428.2 L744.0,429.6 L745.5,431.0 L747.0,432.3 L748.4,433.7 L749.9,435.0 L751.4,436.4 L752.9,437.7 L754.4,439.1 L755.9,440.4 L757.4,441.8 L758.9,443.1 L760.4,444.5 L761.9,445.8 L763.4,447.1 L764.9,448.5 L766.4,449.8 L767.9,451.1 L769.5,452.4 L771.0,453.7 L772.5,455.0 L774.0,456.4 L775.6,457.7 L777.1,459.0 L778.6,460.3 L780.2,461.6 L781.7,462.9 L783.3,464.1 L784.8,465.4 L786.4,466.7 L787.9,468.0 L789.5,469.3 L791.0,470.5 L792.6,471.8 L794.1,473.1 L795.7,474.4 L797.3,475.6 L798.8,476.9 L800.4,478.1 L802.0,479.4 L803.6,480.6 L805.1,481.9 L806.7,483.1 L808.3,484.4 L809.9,485.6 L811.5,486.8 L813.1,488.1 L814.7,489.3 L816.2,490.5 L817.8,491.7 L819.4,493.0 L821.0,494.2 L822.6,495.4 L824.3,496.6 L825.9,497.8 L827.5,499.0 L829.1,500.2 L830.7,501.4 L832.3,502.6 L833.9,503.8 L835.6,505.0 L837.2,506.2 L838.8,507.3 L840.4,508.5 L842.1,509.7 L843.7,510.9 L845.3,512.0 L847.0,513.2 L848.6,514.4 L850.2,515.5 L851.9,516.7 L853.5,517.8 L855.2,519.0 L856.8,520.1 L858.5,521.3 L860.1,522.4 L861.8,523.5 L863.4,524.7 L865.1,525.8 L866.7,526.9 L868.4,528.0 L870.1,529.2 L871.7,530.3 L873.4,531.4 L875.1,532.5 L876.7,533.6 L878.4,534.7 L880.1,535.8 L881.8,536.9 L883.4,538.0 L885.1,539.1 L886.8,540.2 L888.5,541.3 L890.2,542.4 L891.8,543.4 L893.5,544.5 L895.2,545.6 L896.9,546.7 L898.6,547.7 L900.3,548.8 L902.0,549.9 L903.7,550.9 L905.4,552.0 L907.1,553.0 L908.8,554.1 L910.5,555.1 L912.2,556.2 L913.9,557.2 L915.6,558.3 L917.3,559.3 L919.0,560.3 L920.7,561.4 L922.5,562.4 L924.2,563.4 L925.9,564.4 L927.6,565.5 L929.3,566.5 L931.1,567.5 L932.8,568.5 L934.5,569.5 L936.2,570.5 L937.9,571.6 L939.7,572.6 L941.4,573.6 L943.1,574.6 L944.9,575.6 L946.6,576.6 L948.3,577.6 L950.1,578.6 L951.8,579.6 L953.5,580.5 L955.3,581.5 L957.0,582.5 L958.8,583.5 L960.5,584.5 L962.2,585.5 L964.0,586.4 L965.7,587.4 L967.5,588.4 L969.2,589.4 L971.0,590.3 L972.7,591.3 L974.5,592.3 L976.2,593.2 L978.0,594.2 L979.7,595.2 L981.5,596.1 L983.3,597.1 L985.0,598.0 L986.8,599.0 L988.5,600.0 L990.3,600.9 L992.0,601.9 L993.8,602.8 L995.6,603.8 L997.3,604.7 L999.1,605.7 L1000.9,606.6 L1002.6,607.6 L1004.4,608.5 L1006.2,609.4 L1007.9,610.4 L1009.7,611.3 L1011.5,612.3 L1013.2,613.2 L1015.0,614.1 L1016.8,615.1 L1018.6,616.0 L1020.3,616.9 L1022.1,617.9 L1023.9,618.8 L1025.7,619.7 L1027.4,620.7 L1029.2,621.6 L1031.0,622.5 L1032.8,623.5 L1034.5,624.4 L1036.3,625.3 L1038.1,626.2 L1039.9,627.2 L1041.7,628.1 L1043.4,629.0 L1045.2,629.9 L1047.0,630.9 L1048.8,631.8 L1050.6,632.7 L1052.4,633.6 L1054.1,634.6 L1055.9,635.5 L1057.7,636.4 L1059.5,637.3 L1061.3,638.2 L1063.1,639.2 L1064.9,640.1 L1066.6,641.0 L1068.4,641.9 L1070.2,642.8 L1072.0,643.8 L1073.8,644.7 L1075.6,645.6 L1077.4,646.5 L1079.2,647.4 L1081.0,648.3 L1082.7,649.3 L1084.5,650.2 L1086.3,651.1 L1088.1,652.0 L1089.9,652.9 L1091.7,653.9 L1093.5,654.8 L1095.3,655.7 L1097.1,656.6 L1098.9,657.5 L1100.6,658.5 L1102.4,659.4 L1104.2,660.3 L1106.0,661.2 L1107.8,662.1 L1109.6,663.1 L1111.4,664.0 L1113.2,664.9 L1115.0,665.8 L1116.8,666.8 L1118.6,667.7 L1120.4,668.6 L1122.1,669.5 L1123.9,670.5 L1125.7,671.4 L1127.5,672.3 L1129.3,673.2 L1131.1,674.2 L1132.9,675.1 L1134.7,676.0 L1136.5,677.0 L1138.3,677.9 L1140.1,678.8 L1141.8,679.8 L1143.6,680.7 L1145.4,681.6 L1147.2,682.6 L1149.0,683.5 L1150.8,684.4 L1152.6,685.4 L1154.4,686.3 L1156.2,687.3 L1157.9,688.2 L1159.7,689.1 L1161.5,690.1 L1163.3,691.0 L1165.1,692.0 L1166.9,692.9 L1168.7,693.9 L1170.5,694.8 L1172.3,695.7 L1174.0,696.7 L1175.8,697.6 L1177.6,698.6 L1179.4,699.5 L1181.2,700.4 L1183.0,701.4 L1184.8,702.3 L1186.6,703.3 L1188.3,704.2 L1190.1,705.1 L1191.9,706.1 L1193.7,707.0 L1195.5,707.9 L1197.3,708.9 L1199.1,709.8 L1200.9,710.8 L1202.7,711.7 L1204.5,712.6 L1206.2,713.5 L1208.0,714.5 L1209.8,715.4 L1211.6,716.3 L1213.4,717.3 L1215.2,718.2 L1217.0,719.1 L1218.8,720.0 L1220.6,720.9 L1222.4,721.9 L1224.2,722.8 L1225.9,723.7 L1227.7,724.6 L1229.5,725.5 L1231.3,726.4 L1233.1,727.3 L1234.9,728.2 L1236.7,729.2 L1238.5,730.1 L1240.3,731.0 L1242.1,731.9 L1243.9,732.7 L1245.7,733.6 L1247.5,734.5 L1249.3,735.4 L1251.1,736.3 L1252.9,737.2 L1254.7,738.1 L1256.5,739.0 L1258.3,739.8 L1260.1,740.7 L1261.9,741.6 L1263.7,742.4 L1265.5,743.3 L1267.3,744.2 L1269.1,745.0 L1270.9,745.9 L1272.7,746.7 L1274.5,747.6 L1276.3,748.4 L1278.1,749.3 L1279.9,750.1 L1281.7,750.9 L1283.5,751.8 L1285.3,752.6 L1287.2,753.4 L1289.0,754.3 L1290.8,755.1 L1292.6,755.9 L1294.4,756.7 L1296.2,757.5 L1298.0,758.3 L1299.8,759.1 L1301.6,759.9 L1303.5,760.7 L1305.3,761.5 L1307.1,762.3 L1308.9,763.0 L1310.7,763.8 L1312.6,764.6 L1314.4,765.4 L1316.2,766.1 L1318.0,766.9 L1319.8,767.6 L1321.7,768.4 L1323.5,769.1"/><path d="M710.8,302.4 L711.7,304.2 L712.6,306.0 L713.6,307.7 L714.6,309.5 L715.5,311.3 L716.5,313.0 L717.5,314.8 L718.6,316.5 L719.6,318.2 L720.6,320.0 L721.7,321.7 L722.7,323.4 L723.8,325.1 L724.9,326.8 L726.0,328.5 L727.1,330.1 L728.3,331.8 L729.4,333.5 L730.5,335.1 L731.7,336.8 L732.9,338.4 L734.0,340.1 L735.2,341.7 L736.4,343.3 L737.6,344.9 L738.8,346.5 L740.0,348.1 L741.3,349.7 L742.5,351.3 L743.8,352.9 L745.0,354.4 L746.3,356.0 L747.5,357.5 L748.8,359.1 L750.1,360.6 L751.4,362.2 L752.7,363.7 L754.0,365.2 L755.3,366.7 L756.6,368.2 L757.9,369.7 L759.2,371.2 L760.6,372.7 L761.9,374.2 L763.3,375.7 L764.6,377.2 L765.9,378.7 L767.3,380.2 L768.7,381.6 L770.0,383.1 L771.4,384.6 L772.7,386.0 L774.1,387.5 L775.5,388.9 L776.9,390.4 L778.2,391.8 L779.6,393.3 L781.0,394.7 L782.4,396.2 L783.8,397.6 L785.2,399.1 L786.6,400.5 L787.9,402.0 L789.3,403.4 L790.7,404.8 L792.1,406.3 L793.5,407.7 L794.9,409.2 L796.3,410.6 L797.7,412.1 L799.1,413.5 L800.5,415.0 L801.9,416.4 L803.3,417.9 L804.7,419.3 L806.1,420.7 L807.5,422.2 L808.9,423.6 L810.3,425.1 L811.7,426.5 L813.1,427.9 L814.5,429.4 L815.9,430.8 L817.3,432.2 L818.8,433.6 L820.2,435.1 L821.6,436.5 L823.0,437.9 L824.5,439.3 L825.9,440.7 L827.3,442.1 L828.8,443.5 L830.2,444.9 L831.6,446.3 L833.1,447.7 L834.6,449.1 L836.0,450.5 L837.5,451.8 L838.9,453.2 L840.4,454.6 L841.9,455.9 L843.4,457.3 L844.9,458.6 L846.4,459.9 L847.9,461.3 L849.4,462.6 L850.9,463.9 L852.4,465.2 L853.9,466.5 L855.4,467.9 L856.9,469.2 L858.4,470.5 L860.0,471.8 L861.5,473.1 L863.0,474.3 L864.6,475.6 L866.1,476.9 L867.7,478.2 L869.2,479.5 L870.8,480.8 L872.3,482.0 L873.9,483.3 L875.4,484.6 L877.0,485.8 L878.5,487.1 L880.1,488.4 L881.7,489.6 L883.3,490.9 L884.8,492.1 L886.4,493.4 L888.0,494.6 L889.6,495.9 L891.2,497.1 L892.7,498.4 L894.3,499.6 L895.9,500.9 L897.5,502.1 L899.1,503.3 L900.7,504.5 L902.3,505.8 L903.9,507.0 L905.5,508.2 L907.1,509.4 L908.7,510.6 L910.3,511.8 L912.0,513.0 L913.6,514.2 L915.2,515.3 L916.8,516.5 L918.4,517.7 L920.1,518.9 L921.7,520.0 L923.3,521.2 L925.0,522.3 L926.6,523.5 L928.2,524.6 L929.9,525.7 L931.5,526.9 L933.2,528.0 L934.8,529.1 L936.5,530.2 L938.1,531.3 L939.8,532.5 L941.4,533.6 L943.1,534.7 L944.7,535.8 L946.4,536.9 L948.1,538.0 L949.7,539.0 L951.4,540.1 L953.1,541.2 L954.8,542.3 L956.5,543.4 L958.1,544.4 L959.8,545.5 L961.5,546.6 L963.2,547.6 L964.9,548.7 L966.6,549.8 L968.3,550.8 L970.0,551.9 L971.7,552.9 L973.4,554.0 L975.1,555.0 L976.8,556.1 L978.5,557.1 L980.3,558.2 L982.0,559.2 L983.7,560.2 L985.4,561.3 L987.2,562.3 L988.9,563.3 L990.6,564.4 L992.4,565.4 L994.1,566.4 L995.9,567.5 L997.6,568.5 L999.4,569.5 L1001.1,570.6 L1002.9,571.6 L1004.6,572.6 L1006.4,573.6 L1008.2,574.6 L1009.9,575.7 L1011.7,576.7 L1013.5,577.7 L1015.2,578.7 L1017.0,579.7 L1018.8,580.7 L1020.6,581.7 L1022.4,582.6 L1024.2,583.6 L1025.9,584.6 L1027.7,585.6 L1029.5,586.5 L1031.3,587.5 L1033.1,588.4 L1034.9,589.3 L1036.7,590.3 L1038.5,591.2 L1040.3,592.1 L1042.1,593.0 L1043.9,593.8 L1045.8,594.7 L1047.6,595.6 L1049.4,596.4 L1051.2,597.3 L1053.0,598.1 L1054.8,598.9 L1056.6,599.8 L1058.5,600.6 L1060.3,601.4 L1062.1,602.2 L1063.9,603.0 L1065.8,603.8 L1067.6,604.6 L1069.4,605.4 L1071.2,606.2 L1073.1,607.0 L1074.9,607.7 L1076.7,608.5 L1078.5,609.3 L1080.4,610.1 L1082.2,610.8 L1084.0,611.6 L1085.9,612.4 L1087.7,613.2 L1089.5,613.9 L1091.4,614.7 L1093.2,615.5 L1095.0,616.3 L1096.9,617.0 L1098.7,617.8 L1100.5,618.6 L1102.4,619.4 L1104.2,620.2 L1106.0,620.9 L1107.9,621.7 L1109.7,622.5 L1111.5,623.3 L1113.4,624.1 L1115.2,624.9 L1117.0,625.7 L1118.9,626.5 L1120.7,627.3 L1122.5,628.1 L1124.4,628.9 L1126.2,629.7 L1128.0,630.5 L1129.9,631.3 L1131.7,632.1 L1133.5,632.9 L1135.4,633.7 L1137.2,634.5 L1139.1,635.3 L1140.9,636.1 L1142.7,636.9 L1144.6,637.7 L1146.4,638.5 L1148.2,639.3 L1150.1,640.1 L1151.9,641.0 L1153.7,641.8 L1155.6,642.6 L1157.4,643.4 L1159.2,644.2 L1161.1,645.0 L1162.9,645.8 L1164.8,646.7 L1166.6,647.5 L1168.4,648.3 L1170.3,649.1 L1172.1,649.9 L1173.9,650.8 L1175.8,651.6 L1177.6,652.4 L1179.4,653.2 L1181.3,654.1 L1183.1,654.9 L1185.0,655.7 L1186.8,656.5 L1188.6,657.4 L1190.5,658.2 L1192.3,659.0 L1194.1,659.9 L1196.0,660.7 L1197.8,661.5 L1199.7,662.3 L1201.5,663.2 L1203.3,664.0 L1205.2,664.8 L1207.0,665.7 L1208.8,666.5 L1210.7,667.3 L1212.5,668.2 L1214.4,669.0 L1216.2,669.8 L1218.0,670.7 L1219.9,671.5 L1221.7,672.3 L1223.6,673.2 L1225.4,674.0 L1227.2,674.8 L1229.1,675.7 L1230.9,676.5 L1232.7,677.3 L1234.6,678.2 L1236.4,679.0 L1238.3,679.8 L1240.1,680.7 L1241.9,681.5 L1243.8,682.3 L1245.6,683.2 L1247.4,684.0 L1249.3,684.8 L1251.1,685.7 L1253.0,686.5 L1254.8,687.3 L1256.6,688.2 L1258.5,689.0 L1260.3,689.9 L1262.1,690.7 L1264.0,691.5 L1265.8,692.4 L1267.7,693.2 L1269.5,694.0 L1271.3,694.9 L1273.2,695.7 L1275.0,696.5 L1276.9,697.3 L1278.7,698.2 L1280.5,699.0 L1282.4,699.8 L1284.2,700.7 L1286.0,701.5 L1287.9,702.3 L1289.7,703.2 L1291.6,704.0 L1293.4,704.8 L1295.2,705.6 L1297.1,706.5 L1298.9,707.3 L1300.7,708.1 L1302.6,708.9 L1304.4,709.8 L1306.3,710.6 L1308.1,711.4 L1309.9,712.2 L1311.8,713.1 L1313.6,713.9 L1315.4,714.7 L1317.3,715.5 L1319.1,716.3 L1320.9,717.2 L1322.8,718.0 L1324.6,718.8 L1326.5,719.6 L1328.3,720.4 L1330.1,721.2 L1332.0,722.1 L1333.8,722.9 L1335.6,723.7 L1337.5,724.5 L1339.3,725.3 L1341.1,726.1 L1343.0,726.9 L1344.8,727.7 L1346.6,728.5 L1348.5,729.3 L1350.3,730.1 L1352.2,730.9 L1354.0,731.7 L1355.8,732.5 L1357.7,733.3 L1359.5,734.1 L1361.3,734.9 L1363.2,735.7 L1365.0,736.5 L1366.8,737.3 L1368.7,738.1 L1370.5,738.9 L1372.3,739.7 L1374.2,740.5 L1376.0,741.3 L1377.8,742.1 L1379.7,742.8 L1381.5,743.6 L1383.3,744.4 L1385.2,745.2 L1387.0,746.0 L1388.8,746.7 L1390.7,747.5 L1392.5,748.3 L1394.3,749.1 L1396.2,749.8 L1398.0,750.6"/><path d="M858.2,393.2 L859.7,394.5 L861.2,395.7 L862.7,397.0 L864.2,398.3 L865.7,399.6 L867.2,400.8 L868.7,402.1 L870.2,403.4 L871.7,404.7 L873.2,406.0 L874.7,407.2 L876.2,408.5 L877.7,409.8 L879.2,411.1 L880.7,412.4 L882.2,413.7 L883.7,415.0 L885.2,416.3 L886.7,417.6 L888.2,418.9 L889.7,420.2 L891.3,421.5 L892.8,422.8 L894.3,424.1 L895.8,425.4 L897.3,426.7 L898.8,428.0 L900.3,429.3 L901.8,430.6 L903.4,431.9 L904.9,433.2 L906.4,434.5 L907.9,435.8 L909.4,437.1 L911.0,438.4 L912.5,439.7 L914.0,441.0 L915.5,442.3 L917.1,443.6 L918.6,444.9 L920.1,446.2 L921.6,447.5 L923.2,448.8 L924.7,450.1 L926.2,451.4 L927.8,452.7 L929.3,454.0 L930.8,455.3 L932.4,456.6 L933.9,457.9 L935.5,459.2 L937.0,460.5 L938.5,461.8 L940.1,463.1 L941.6,464.4 L943.2,465.7 L944.7,467.0 L946.3,468.3 L947.8,469.6 L949.4,470.9 L950.9,472.2 L952.5,473.5 L954.0,474.8 L955.6,476.0 L957.2,477.3 L958.7,478.6 L960.3,479.9 L961.8,481.2 L963.4,482.4 L965.0,483.7 L966.5,485.0 L968.1,486.3 L969.7,487.5 L971.3,488.8 L972.8,490.1 L974.4,491.4 L976.0,492.6 L977.6,493.9 L979.1,495.1 L980.7,496.4 L982.3,497.7 L983.9,498.9 L985.5,500.2 L987.1,501.4 L988.7,502.7 L990.2,503.9 L991.8,505.2 L993.4,506.4 L995.0,507.6 L996.6,508.9 L998.2,510.1 L999.8,511.3 L1001.4,512.6 L1003.0,513.8 L1004.7,515.0 L1006.3,516.2 L1007.9,517.4 L1009.5,518.6 L1011.1,519.9 L1012.7,521.1 L1014.3,522.3 L1016.0,523.5 L1017.6,524.7 L1019.2,525.9 L1020.8,527.0 L1022.5,528.2 L1024.1,529.4 L1025.7,530.6 L1027.4,531.8 L1029.0,532.9 L1030.7,534.1 L1032.3,535.3 L1033.9,536.4 L1035.6,537.6 L1037.2,538.8 L1038.9,539.9 L1040.5,541.1 L1042.2,542.2 L1043.9,543.3 L1045.5,544.5 L1047.2,545.6 L1048.8,546.7 L1050.5,547.8 L1052.2,549.0 L1053.8,550.1 L1055.5,551.2 L1057.2,552.3 L1058.9,553.4 L1060.5,554.5 L1062.2,555.6 L1063.9,556.7 L1065.6,557.7 L1067.3,558.8 L1069.0,559.9 L1070.7,561.0 L1072.4,562.0 L1074.1,563.1 L1075.8,564.1 L1077.5,565.2 L1079.2,566.2 L1080.9,567.3 L1082.6,568.3 L1084.3,569.3 L1086.0,570.4 L1087.7,571.4 L1089.4,572.4 L1091.2,573.4 L1092.9,574.5 L1094.6,575.5 L1096.3,576.5 L1098.0,577.5 L1099.8,578.5 L1101.5,579.5 L1103.2,580.5 L1105.0,581.5 L1106.7,582.4 L1108.4,583.4 L1110.2,584.4 L1111.9,585.4 L1113.7,586.3 L1115.4,587.3 L1117.2,588.3 L1118.9,589.2 L1120.7,590.2 L1122.4,591.2 L1124.2,592.1 L1125.9,593.1 L1127.7,594.0 L1129.4,595.0 L1131.2,595.9 L1133.0,596.8 L1134.7,597.8 L1136.5,598.7 L1138.3,599.6 L1140.0,600.6 L1141.8,601.5 L1143.6,602.4 L1145.3,603.3 L1147.1,604.3 L1148.9,605.2 L1150.7,606.1 L1152.4,607.0 L1154.2,607.9 L1156.0,608.8 L1157.8,609.7 L1159.6,610.6 L1161.3,611.5 L1163.1,612.4 L1164.9,613.3 L1166.7,614.2 L1168.5,615.1 L1170.3,616.0 L1172.1,616.9 L1173.9,617.8 L1175.7,618.7 L1177.5,619.6 L1179.2,620.5 L1181.0,621.4 L1182.8,622.2 L1184.6,623.1 L1186.4,624.0 L1188.2,624.9 L1190.0,625.8 L1191.8,626.6 L1193.6,627.5 L1195.4,628.4 L1197.3,629.3 L1199.1,630.1 L1200.9,631.0 L1202.7,631.9 L1204.5,632.8 L1206.3,633.6 L1208.1,634.5 L1209.9,635.4 L1211.7,636.2 L1213.5,637.1 L1215.3,638.0 L1217.2,638.8 L1219.0,639.7 L1220.8,640.6 L1222.6,641.4 L1224.4,642.3 L1226.2,643.2 L1228.0,644.0 L1229.9,644.9 L1231.7,645.8 L1233.5,646.6 L1235.3,647.5 L1237.1,648.3 L1239.0,649.2 L1240.8,650.1 L1242.6,650.9 L1244.4,651.8 L1246.2,652.6 L1248.1,653.5 L1249.9,654.4 L1251.7,655.2 L1253.5,656.1 L1255.3,656.9 L1257.2,657.8 L1259.0,658.7 L1260.8,659.5 L1262.6,660.4 L1264.4,661.2 L1266.3,662.1 L1268.1,663.0 L1269.9,663.8 L1271.7,664.7 L1273.6,665.6 L1275.4,666.4 L1277.2,667.3 L1279.0,668.1 L1280.8,669.0 L1282.7,669.9 L1284.5,670.7 L1286.3,671.6 L1288.1,672.4 L1290.0,673.3 L1291.8,674.2 L1293.6,675.0 L1295.4,675.9 L1297.2,676.8 L1299.1,677.6 L1300.9,678.5 L1302.7,679.4 L1304.5,680.2 L1306.3,681.1 L1308.2,682.0 L1310.0,682.8 L1311.8,683.7 L1313.6,684.6 L1315.4,685.4 L1317.3,686.3 L1319.1,687.2 L1320.9,688.1 L1322.7,688.9 L1324.5,689.8 L1326.3,690.7 L1328.2,691.5 L1330.0,692.4 L1331.8,693.3 L1333.6,694.2 L1335.4,695.1 L1337.2,695.9 L1339.0,696.8 L1340.8,697.7 L1342.6,698.6 L1344.5,699.5 L1346.3,700.3 L1348.1,701.2 L1349.9,702.1 L1351.7,703.0 L1353.5,703.9 L1355.3,704.8 L1357.1,705.7 L1358.9,706.6 L1360.7,707.5 L1362.5,708.4 L1364.3,709.3 L1366.1,710.1 L1367.9,711.0 L1369.7,711.9 L1371.5,712.8 L1373.3,713.7 L1375.1,714.7 L1376.9,715.6 L1378.6,716.5 L1380.4,717.4 L1382.2,718.3 L1384.0,719.2 L1385.8,720.1 L1387.6,721.0 L1389.4,721.9 L1391.1,722.9 L1392.9,723.8 L1394.7,724.7 L1396.5,725.6 L1398.3,726.5 L1400.0,727.5 L1401.8,728.4 L1403.6,729.3 L1405.4,730.2 L1407.1,731.2 L1408.9,732.1 L1410.7,733.0 L1412.4,734.0 L1414.2,734.9 L1415.9,735.9 L1417.7,736.8 L1419.5,737.8 L1421.2,738.7 L1423.0,739.7 L1424.7,740.6 L1426.5,741.6 L1428.2,742.5 L1430.0,743.5 L1431.7,744.4"/></g><g stroke="#6a4852" stroke-width="1.9" fill="none" stroke-linecap="round"><path d="M235.0,102.0 L235.1,104.0 L235.3,106.0 L235.5,108.0 L235.7,110.0 L235.8,112.0 L236.0,114.0 L236.2,116.0 L236.4,118.0 L236.5,120.0 L236.7,122.0 L236.9,124.1 L237.1,126.1 L237.3,128.1 L237.4,130.1 L237.6,132.1 L237.8,134.1 L238.0,136.1 L238.2,138.1 L238.4,140.1 L238.6,142.1 L238.7,144.1 L238.9,146.1 L239.1,148.1 L239.3,150.1 L239.5,152.1 L239.7,154.1 L239.9,156.1 L240.1,158.1 L240.3,160.1 L240.5,162.1 L240.7,164.1 L240.9,166.1 L241.1,168.0 L241.3,170.0 L241.5,172.0 L241.8,174.0 L242.0,176.0 L242.2,178.0 L242.4,180.0 L242.6,182.0 L242.8,184.0 L243.1,186.0 L243.3,188.0 L243.5,190.0 L243.7,191.9 L244.0,193.9 L244.2,195.9 L244.4,197.9 L244.6,199.9 L244.9,201.9 L245.1,203.9 L245.4,205.9 L245.6,207.9 L245.8,209.8 L246.1,211.8 L246.3,213.8 L246.6,215.8 L246.8,217.8 L247.1,219.8 L247.3,221.7 L247.6,223.7 L247.8,225.7 L248.1,227.7 L248.4,229.7 L248.6,231.7 L248.9,233.6 L249.2,235.6 L249.4,237.6 L249.7,239.6 L250.0,241.6 L250.2,243.6 L250.5,245.5 L250.8,247.5 L251.1,249.5 L251.4,251.5 L251.7,253.5 L252.0,255.4 L252.2,257.4 L252.5,259.4 L252.8,261.4 L253.1,263.4 L253.4,265.3 L253.7,267.3 L254.1,269.3 L254.4,271.3 L254.7,273.2 L255.0,275.2 L255.3,277.2 L255.6,279.2 L256.0,281.2 L256.3,283.1 L256.6,285.1 L256.9,287.1 L257.3,289.1 L257.6,291.0 L258.0,293.0 L258.3,295.0 L258.6,297.0 L259.0,299.0 L259.3,300.9 L259.7,302.9 L260.0,304.9 L260.4,306.9 L260.8,308.8 L261.1,310.8 L261.5,312.8 L261.9,314.8 L262.2,316.7 L262.6,318.7 L263.0,320.7 L263.4,322.7 L263.8,324.6 L264.2,326.6 L264.6,328.6 L265.0,330.6 L265.4,332.5 L265.8,334.5 L266.2,336.5 L266.6,338.5 L267.0,340.4 L267.4,342.4 L267.8,344.4 L268.3,346.3 L268.7,348.3 L269.1,350.3 L269.5,352.2 L270.0,354.2 L270.4,356.2 L270.9,358.1 L271.3,360.1 L271.8,362.1 L272.2,364.0 L272.7,366.0 L273.2,368.0 L273.7,369.9 L274.1,371.9 L274.6,373.8 L275.1,375.8 L275.6,377.7 L276.1,379.7 L276.6,381.6 L277.1,383.6 L277.6,385.5 L278.1,387.5 L278.6,389.4 L279.1,391.4 L279.7,393.3 L280.2,395.3 L280.7,397.2 L281.3,399.1 L281.8,401.1 L282.4,403.0 L282.9,404.9 L283.5,406.9 L284.1,408.8 L284.6,410.7 L285.2,412.6 L285.8,414.6 L286.4,416.5 L287.0,418.4 L287.6,420.3 L288.2,422.2 L288.8,424.1 L289.4,426.1 L290.0,428.0 L290.6,429.9 L291.3,431.8 L291.9,433.7 L292.5,435.6 L293.2,437.5 L293.8,439.4 L294.5,441.2 L295.2,443.1 L295.8,445.0 L296.5,446.9 L297.2,448.8 L297.9,450.6 L298.6,452.5 L299.3,454.4 L300.0,456.3 L300.7,458.1 L301.4,460.0 L302.2,461.8 L302.9,463.7 L303.6,465.5 L304.4,467.4 L305.1,469.2 L305.9,471.1 L306.7,472.9 L307.5,474.7 L308.2,476.6 L309.0,478.4 L309.8,480.2 L310.7,482.0 L311.5,483.9 L312.3,485.7 L313.1,487.5 L314.0,489.3 L314.8,491.1 L315.7,492.9 L316.6,494.6 L317.5,496.4 L318.3,498.2 L319.2,500.0 L320.2,501.7 L321.1,503.5 L322.0,505.3 L323.0,507.0 L323.9,508.8 L324.9,510.5 L325.8,512.2 L326.8,514.0 L327.8,515.7 L328.8,517.4 L329.8,519.1 L330.9,520.8 L331.9,522.5 L333.0,524.2 L334.0,525.9 L335.1,527.6 L336.2,529.3 L337.3,530.9 L338.4,532.6 L339.5,534.3 L340.7,535.9 L341.8,537.6 L343.0,539.2 L344.2,540.8 L345.4,542.5 L346.6,544.1 L347.8,545.7 L349.0,547.3 L350.3,548.9 L351.5,550.5 L352.8,552.1 L354.0,553.6 L355.3,555.2 L356.6,556.8 L357.9,558.4 L359.2,559.9 L360.5,561.5 L361.8,563.0 L363.2,564.6 L364.5,566.1 L365.8,567.6 L367.2,569.2 L368.5,570.7 L369.9,572.2 L371.2,573.7 L372.6,575.2 L373.9,576.8 L375.3,578.3 L376.7,579.8 L378.0,581.3 L379.4,582.8 L380.8,584.3 L382.1,585.8 L383.5,587.2 L384.9,588.7 L386.2,590.2 L387.6,591.7 L389.0,593.2 L390.3,594.7 L391.7,596.1 L393.0,597.6 L394.4,599.1 L395.7,600.6 L397.1,602.0 L398.4,603.5 L399.8,605.0 L401.1,606.4 L402.5,607.9 L403.8,609.3 L405.2,610.8 L406.5,612.2 L407.9,613.7 L409.2,615.1 L410.6,616.6 L412.0,618.0 L413.3,619.4 L414.7,620.9 L416.1,622.3 L417.5,623.7 L418.9,625.1 L420.3,626.5 L421.7,627.9 L423.1,629.3 L424.5,630.7 L425.9,632.1 L427.4,633.5 L428.8,634.8 L430.2,636.2 L431.7,637.6 L433.2,638.9 L434.6,640.3 L436.1,641.6 L437.6,643.0 L439.1,644.3 L440.6,645.6 L442.1,647.0 L443.6,648.3 L445.1,649.6 L446.6,650.9 L448.2,652.2 L449.7,653.5 L451.2,654.8 L452.8,656.1 L454.3,657.3 L455.9,658.6 L457.4,659.9 L459.0,661.1 L460.6,662.4 L462.2,663.6 L463.7,664.9 L465.3,666.1 L466.9,667.3 L468.5,668.5 L470.1,669.8 L471.7,671.0 L473.3,672.2 L474.9,673.4 L476.6,674.6 L478.2,675.8 L479.8,676.9 L481.4,678.1 L483.1,679.3 L484.7,680.5 L486.3,681.6 L488.0,682.8 L489.6,684.0 L491.3,685.1 L492.9,686.3 L494.6,687.4 L496.2,688.6 L497.9,689.7 L499.5,690.8 L501.2,692.0 L502.9,693.1 L504.5,694.2 L506.2,695.4 L507.9,696.5 L509.5,697.6 L511.2,698.7 L512.9,699.8 L514.6,700.9 L516.2,702.0 L517.9,703.1 L519.6,704.2 L521.3,705.3 L523.0,706.4 L524.7,707.5 L526.4,708.6 L528.1,709.7 L529.8,710.7 L531.5,711.8 L533.2,712.9 L534.9,713.9 L536.6,715.0 L538.3,716.0 L540.0,717.1 L541.7,718.1 L543.5,719.2 L545.2,720.2 L546.9,721.2 L548.6,722.2 L550.4,723.2 L552.1,724.2 L553.8,725.2 L555.6,726.2 L557.3,727.2 L559.1,728.2 L560.8,729.2 L562.6,730.1 L564.3,731.1 L566.1,732.1 L567.9,733.0 L569.6,733.9 L571.4,734.9 L573.2,735.8 L575.0,736.7 L576.7,737.6 L578.5,738.5 L580.3,739.4 L582.1,740.3 L583.9,741.2 L585.7,742.1 L587.5,743.0 L589.3,743.8 L591.1,744.7 L592.9,745.5 L594.8,746.3 L596.6,747.2 L598.4,748.0 L600.2,748.8 L602.1,749.6 L603.9,750.4 L605.8,751.2 L607.6,751.9 L609.4,752.7 L611.3,753.5 L613.2,754.2 L615.0,755.0 L616.9,755.7 L618.8,756.4 L620.6,757.1 L622.5,757.8 L624.4,758.5 L626.3,759.2 L628.2,759.8 L630.1,760.5 L632.0,761.1 L633.9,761.8 L635.8,762.4 L637.7,763.0 L639.6,763.6 L641.6,764.2 L643.5,764.8 L645.4,765.4 L647.4,765.9 L649.3,766.5 L651.2,767.0"/><path d="M298.7,115.4 L298.9,117.4 L299.1,119.4 L299.3,121.3 L299.5,123.3 L299.7,125.3 L299.9,127.2 L300.2,129.2 L300.4,131.2 L300.7,133.1 L301.0,135.1 L301.2,137.0 L301.5,139.0 L301.8,141.0 L302.1,142.9 L302.4,144.9 L302.8,146.9 L303.1,148.8 L303.4,150.8 L303.8,152.7 L304.1,154.7 L304.5,156.7 L304.8,158.6 L305.2,160.6 L305.6,162.5 L306.0,164.5 L306.4,166.5 L306.8,168.4 L307.2,170.4 L307.6,172.3 L308.0,174.3 L308.4,176.2 L308.9,178.2 L309.3,180.2 L309.7,182.1 L310.2,184.1 L310.6,186.0 L311.1,188.0 L311.6,189.9 L312.0,191.9 L312.5,193.8 L313.0,195.8 L313.5,197.7 L313.9,199.7 L314.4,201.6 L314.9,203.5 L315.4,205.5 L315.9,207.4 L316.4,209.4 L316.9,211.3 L317.5,213.3 L318.0,215.2 L318.5,217.1 L319.0,219.1 L319.6,221.0 L320.1,222.9 L320.6,224.9 L321.2,226.8 L321.7,228.7 L322.2,230.7 L322.8,232.6 L323.3,234.5 L323.9,236.5 L324.5,238.4 L325.0,240.3 L325.6,242.2 L326.2,244.2 L326.8,246.1 L327.3,248.0 L327.9,249.9 L328.5,251.8 L329.1,253.7 L329.7,255.7 L330.3,257.6 L330.9,259.5 L331.6,261.4 L332.2,263.3 L332.8,265.2 L333.4,267.1 L334.1,269.0 L334.7,270.9 L335.4,272.8 L336.0,274.7 L336.7,276.6 L337.4,278.5 L338.0,280.4 L338.7,282.3 L339.4,284.2 L340.1,286.1 L340.8,288.0 L341.5,289.8 L342.2,291.7 L343.0,293.6 L343.7,295.5 L344.4,297.4 L345.2,299.2 L345.9,301.1 L346.7,303.0 L347.4,304.9 L348.2,306.7 L349.0,308.6 L349.8,310.5 L350.5,312.3 L351.3,314.2 L352.2,316.0 L353.0,317.9 L353.8,319.8 L354.6,321.6 L355.5,323.5 L356.3,325.3 L357.1,327.2 L358.0,329.0 L358.8,330.8 L359.7,332.7 L360.6,334.5 L361.4,336.3 L362.3,338.2 L363.2,340.0 L364.1,341.8 L364.9,343.7 L365.8,345.5 L366.7,347.3 L367.6,349.1 L368.5,350.9 L369.4,352.7 L370.3,354.6 L371.2,356.4 L372.1,358.2 L373.0,360.0 L373.9,361.8 L374.7,363.6 L375.6,365.4 L376.5,367.2 L377.4,369.0 L378.3,370.7 L379.2,372.5 L380.1,374.3 L381.0,376.1 L381.9,377.9 L382.8,379.6 L383.7,381.4 L384.6,383.2 L385.5,384.9 L386.4,386.7 L387.3,388.5 L388.2,390.2 L389.1,392.0 L390.0,393.7 L390.9,395.5 L391.8,397.2 L392.8,399.0 L393.7,400.7 L394.6,402.4 L395.6,404.2 L396.5,405.9 L397.5,407.6 L398.4,409.3 L399.4,411.1 L400.4,412.8 L401.4,414.5 L402.3,416.2 L403.3,417.9 L404.3,419.6 L405.4,421.3 L406.4,423.0 L407.4,424.7 L408.4,426.4 L409.5,428.1 L410.5,429.8 L411.6,431.5 L412.7,433.1 L413.7,434.8 L414.8,436.5 L415.9,438.2 L417.0,439.8 L418.1,441.5 L419.2,443.1 L420.3,444.8 L421.4,446.4 L422.6,448.1 L423.7,449.7 L424.9,451.4 L426.0,453.0 L427.2,454.6 L428.3,456.3 L429.5,457.9 L430.7,459.5 L431.8,461.1 L433.0,462.8 L434.2,464.4 L435.4,466.0 L436.6,467.6 L437.8,469.2 L439.1,470.8 L440.3,472.4 L441.5,473.9 L442.8,475.5 L444.0,477.1 L445.2,478.7 L446.5,480.2 L447.7,481.8 L449.0,483.4 L450.3,484.9 L451.6,486.5 L452.8,488.0 L454.1,489.6 L455.4,491.1 L456.7,492.7 L458.0,494.2 L459.3,495.7 L460.6,497.3 L461.9,498.8 L463.2,500.3 L464.6,501.8 L465.9,503.3 L467.2,504.8 L468.6,506.3 L469.9,507.8 L471.3,509.3 L472.6,510.8 L474.0,512.3 L475.3,513.8 L476.7,515.2 L478.1,516.7 L479.4,518.2 L480.8,519.6 L482.2,521.1 L483.6,522.5 L485.0,524.0 L486.4,525.4 L487.8,526.9 L489.2,528.3 L490.6,529.7 L492.0,531.1 L493.5,532.6 L494.9,534.0 L496.3,535.4 L497.8,536.8 L499.2,538.2 L500.7,539.6 L502.1,541.0 L503.6,542.3 L505.0,543.7 L506.5,545.1 L508.0,546.4 L509.4,547.8 L510.9,549.2 L512.4,550.5 L513.9,551.8 L515.4,553.2 L516.9,554.5 L518.4,555.8 L519.9,557.2 L521.4,558.5 L523.0,559.8 L524.5,561.1 L526.0,562.4 L527.6,563.7 L529.1,565.0 L530.7,566.3 L532.2,567.5 L533.8,568.8 L535.3,570.1 L536.9,571.3 L538.5,572.6 L540.0,573.8 L541.6,575.1 L543.2,576.3 L544.8,577.6 L546.3,578.8 L547.9,580.1 L549.5,581.3 L551.1,582.6 L552.7,583.8 L554.3,585.0 L555.9,586.3 L557.4,587.5 L559.0,588.7 L560.6,590.0 L562.2,591.2 L563.8,592.4 L565.4,593.7 L567.0,594.9 L568.5,596.2 L570.1,597.4 L571.7,598.6 L573.3,599.9 L574.9,601.1 L576.5,602.3 L578.1,603.6 L579.7,604.8 L581.2,606.0 L582.8,607.3 L584.4,608.5 L586.0,609.7 L587.6,610.9 L589.2,612.2 L590.8,613.4 L592.4,614.6 L594.0,615.8 L595.6,617.0 L597.2,618.3 L598.8,619.5 L600.4,620.7 L602.0,621.9 L603.6,623.1 L605.2,624.3 L606.8,625.5 L608.4,626.7 L610.0,627.9 L611.6,629.0 L613.3,630.2 L614.9,631.4 L616.5,632.6 L618.1,633.7 L619.8,634.9 L621.4,636.1 L623.0,637.2 L624.7,638.4 L626.3,639.5 L628.0,640.6 L629.6,641.8 L631.3,642.9 L632.9,644.0 L634.6,645.1 L636.2,646.2 L637.9,647.4 L639.6,648.4 L641.2,649.5 L642.9,650.6 L644.6,651.7 L646.3,652.8 L648.0,653.8 L649.7,654.9 L651.4,655.9 L653.1,657.0 L654.8,658.0 L656.5,659.1 L658.2,660.1 L659.9,661.1 L661.6,662.1 L663.4,663.1 L665.1,664.1 L666.8,665.1 L668.6,666.1 L670.3,667.0 L672.1,668.0 L673.8,669.0 L675.6,669.9 L677.3,670.9 L679.1,671.8 L680.9,672.8 L682.6,673.7 L684.4,674.6 L686.2,675.5 L688.0,676.4 L689.7,677.3 L691.5,678.2 L693.3,679.1 L695.1,680.0 L696.9,680.9 L698.7,681.8 L700.5,682.6 L702.3,683.5 L704.1,684.3 L705.9,685.2 L707.8,686.0 L709.6,686.9 L711.4,687.7 L713.2,688.5 L715.1,689.3 L716.9,690.2 L718.7,691.0 L720.6,691.8 L722.4,692.6 L724.2,693.4 L726.1,694.1 L727.9,694.9 L729.8,695.7 L731.6,696.5 L733.5,697.2 L735.3,698.0 L737.2,698.7 L739.1,699.5 L740.9,700.2 L742.8,701.0 L744.7,701.7 L746.5,702.4 L748.4,703.1 L750.3,703.8 L752.2,704.6 L754.0,705.3 L755.9,706.0 L757.8,706.7 L759.7,707.3 L761.6,708.0 L763.5,708.7 L765.4,709.4 L767.3,710.1 L769.2,710.7 L771.1,711.4 L773.0,712.0 L774.9,712.7 L776.8,713.3 L778.7,714.0 L780.6,714.6 L782.5,715.2 L784.4,715.9 L786.3,716.5 L788.2,717.1 L790.1,717.7 L792.0,718.3 L793.9,718.9 L795.9,719.6 L797.8,720.1 L799.7,720.7 L801.6,721.3 L803.5,721.9 L805.5,722.5 L807.4,723.1 L809.3,723.6 L811.2,724.2 L813.2,724.8 L815.1,725.3 L817.0,725.9 L819.0,726.4 L820.9,727.0 L822.8,727.5 L824.8,728.1 L826.7,728.6 L828.6,729.1 L830.6,729.7 L832.5,730.2 L834.4,730.7 L836.4,731.2 L838.3,731.7 L840.3,732.3 L842.2,732.8 L844.1,733.3 L846.1,733.8 L848.0,734.3 L850.0,734.7 L851.9,735.2 L853.9,735.7 L855.8,736.2 L857.8,736.7 L859.7,737.1 L861.7,737.6 L863.6,738.1 L865.6,738.5 L867.5,739.0 L869.5,739.5 L871.4,739.9 L873.4,740.4 L875.3,740.8 L877.3,741.3 L879.2,741.7 L881.2,742.1 L883.2,742.6 L885.1,743.0 L887.1,743.4 L889.0,743.9 L891.0,744.3 L893.0,744.7 L894.9,745.1 L896.9,745.5 L898.9,746.0 L900.8,746.4 L902.8,746.8 L904.7,747.2 L906.7,747.6 L908.7,748.0 L910.6,748.4 L912.6,748.8 L914.6,749.2 L916.5,749.5 L918.5,749.9 L920.5,750.3 L922.5,750.7 L924.4,751.1 L926.4,751.4 L928.4,751.8 L930.3,752.2 L932.3,752.6 L934.3,752.9 L936.3,753.3 L938.2,753.6 L940.2,754.0 L942.2,754.4 L944.1,754.7 L946.1,755.1 L948.1,755.4 L950.1,755.8 L952.0,756.1 L954.0,756.5 L956.0,756.8 L958.0,757.1 L959.9,757.5 L961.9,757.8 L963.9,758.1 L965.9,758.5 L967.8,758.8 L969.8,759.1 L971.8,759.5 L973.8,759.8 L975.8,760.1 L977.7,760.4 L979.7,760.8 L981.7,761.1 L983.7,761.4 L985.6,761.7 L987.6,762.0 L989.6,762.3 L991.6,762.6 L993.5,762.9 L995.5,763.3 L997.5,763.6 L999.5,763.9"/><path d="M366.6,133.0 L367.2,134.9 L367.9,136.9 L368.5,138.8 L369.1,140.7 L369.8,142.6 L370.4,144.6 L371.0,146.5 L371.7,148.4 L372.3,150.3 L373.0,152.2 L373.7,154.1 L374.3,156.0 L375.0,157.9 L375.7,159.8 L376.4,161.7 L377.0,163.6 L377.7,165.5 L378.4,167.4 L379.1,169.3 L379.8,171.1 L380.5,173.0 L381.2,174.9 L382.0,176.8 L382.7,178.6 L383.4,180.5 L384.1,182.4 L384.9,184.3 L385.6,186.1 L386.3,188.0 L387.1,189.8 L387.8,191.7 L388.6,193.6 L389.3,195.4 L390.1,197.3 L390.9,199.1 L391.6,201.0 L392.4,202.8 L393.2,204.6 L394.0,206.5 L394.8,208.3 L395.6,210.1 L396.4,212.0 L397.2,213.8 L398.0,215.6 L398.8,217.5 L399.6,219.3 L400.4,221.1 L401.2,222.9 L402.0,224.8 L402.9,226.6 L403.7,228.4 L404.5,230.2 L405.4,232.0 L406.2,233.8 L407.1,235.6 L407.9,237.4 L408.8,239.2 L409.7,241.0 L410.5,242.8 L411.4,244.6 L412.3,246.4 L413.2,248.2 L414.0,250.0 L414.9,251.8 L415.8,253.6 L416.7,255.3 L417.6,257.1 L418.5,258.9 L419.4,260.7 L420.3,262.5 L421.3,264.2 L422.2,266.0 L423.1,267.8 L424.0,269.5 L425.0,271.3 L425.9,273.1 L426.9,274.8 L427.8,276.6 L428.8,278.4 L429.7,280.1 L430.7,281.9 L431.6,283.6 L432.6,285.4 L433.6,287.1 L434.6,288.9 L435.5,290.6 L436.5,292.4 L437.5,294.1 L438.5,295.9 L439.5,297.6 L440.5,299.3 L441.5,301.1 L442.5,302.8 L443.5,304.5 L444.5,306.3 L445.5,308.0 L446.6,309.7 L447.6,311.5 L448.6,313.2 L449.6,314.9 L450.7,316.6 L451.7,318.3 L452.7,320.1 L453.8,321.8 L454.8,323.5 L455.9,325.2 L456.9,326.9 L458.0,328.6 L459.0,330.3 L460.1,332.1 L461.2,333.8 L462.2,335.5 L463.3,337.2 L464.4,338.9 L465.4,340.6 L466.5,342.3 L467.6,344.0 L468.7,345.7 L469.8,347.4 L470.8,349.1 L471.9,350.7 L473.0,352.4 L474.1,354.1 L475.2,355.8 L476.3,357.5 L477.4,359.2 L478.5,360.9 L479.6,362.6 L480.7,364.2 L481.8,365.9 L482.9,367.6 L484.0,369.3 L485.1,370.9 L486.2,372.6 L487.3,374.3 L488.5,376.0 L489.6,377.6 L490.7,379.3 L491.8,381.0 L492.9,382.6 L494.1,384.3 L495.2,385.9 L496.4,387.6 L497.5,389.2 L498.6,390.9 L499.8,392.5 L500.9,394.2 L502.1,395.8 L503.2,397.5 L504.4,399.1 L505.6,400.8 L506.7,402.4 L507.9,404.0 L509.1,405.6 L510.3,407.3 L511.5,408.9 L512.6,410.5 L513.8,412.1 L515.0,413.7 L516.2,415.3 L517.4,416.9 L518.6,418.5 L519.9,420.1 L521.1,421.7 L522.3,423.3 L523.5,424.9 L524.8,426.5 L526.0,428.1 L527.2,429.6 L528.5,431.2 L529.7,432.8 L531.0,434.3 L532.3,435.9 L533.5,437.4 L534.8,439.0 L536.1,440.5 L537.4,442.1 L538.7,443.6 L540.0,445.1 L541.3,446.6 L542.6,448.1 L543.9,449.7 L545.2,451.2 L546.5,452.7 L547.9,454.1 L549.2,455.6 L550.6,457.1 L551.9,458.6 L553.3,460.1 L554.6,461.5 L556.0,463.0 L557.4,464.4 L558.7,465.9 L560.1,467.3 L561.5,468.8 L562.9,470.2 L564.3,471.7 L565.7,473.1 L567.1,474.5 L568.5,475.9 L569.9,477.3 L571.3,478.7 L572.8,480.1 L574.2,481.5 L575.6,482.9 L577.1,484.3 L578.5,485.7 L580.0,487.1 L581.4,488.4 L582.9,489.8 L584.3,491.2 L585.8,492.5 L587.3,493.9 L588.7,495.2 L590.2,496.6 L591.7,497.9 L593.2,499.2 L594.7,500.6 L596.2,501.9 L597.7,503.2 L599.2,504.5 L600.7,505.8 L602.2,507.1 L603.7,508.4 L605.3,509.7 L606.8,511.0 L608.3,512.3 L609.9,513.6 L611.4,514.9 L612.9,516.2 L614.5,517.4 L616.0,518.7 L617.6,519.9 L619.1,521.2 L620.7,522.5 L622.3,523.7 L623.8,525.0 L625.4,526.2 L627.0,527.4 L628.6,528.7 L630.1,529.9 L631.7,531.1 L633.3,532.3 L634.9,533.5 L636.5,534.7 L638.1,535.9 L639.7,537.2 L641.3,538.3 L642.9,539.5 L644.5,540.7 L646.1,541.9 L647.7,543.1 L649.4,544.3 L651.0,545.4 L652.6,546.6 L654.2,547.8 L655.9,548.9 L657.5,550.1 L659.1,551.2 L660.8,552.4 L662.4,553.5 L664.1,554.7 L665.7,555.8 L667.3,557.0 L669.0,558.1 L670.7,559.2 L672.3,560.3 L674.0,561.4 L675.6,562.6 L677.3,563.7 L679.0,564.8 L680.6,565.9 L682.3,567.0 L684.0,568.1 L685.7,569.2 L687.3,570.3 L689.0,571.3 L690.7,572.4 L692.4,573.5 L694.1,574.6 L695.8,575.6 L697.5,576.7 L699.2,577.8 L700.9,578.8 L702.6,579.9 L704.3,580.9 L706.0,582.0 L707.7,583.0 L709.4,584.1 L711.1,585.1 L712.8,586.2 L714.5,587.2 L716.2,588.2 L718.0,589.3 L719.7,590.3 L721.4,591.3 L723.1,592.3 L724.9,593.3 L726.6,594.3 L728.3,595.3 L730.1,596.3 L731.8,597.3 L733.5,598.3 L735.3,599.3 L737.0,600.3 L738.8,601.3 L740.5,602.3 L742.3,603.3 L744.0,604.3 L745.8,605.2 L747.5,606.2 L749.3,607.2 L751.0,608.2 L752.8,609.1 L754.6,610.1 L756.3,611.0 L758.1,612.0 L759.9,612.9 L761.6,613.9 L763.4,614.8 L765.2,615.8 L766.9,616.7 L768.7,617.7 L770.5,618.6 L772.3,619.5 L774.0,620.5 L775.8,621.4 L777.6,622.3 L779.4,623.2 L781.2,624.2 L783.0,625.1 L784.8,626.0 L786.5,626.9 L788.3,627.8 L790.1,628.7 L791.9,629.6 L793.7,630.5 L795.5,631.4 L797.3,632.3 L799.1,633.2 L800.9,634.1 L802.7,635.0 L804.5,635.9 L806.3,636.8 L808.1,637.7 L809.9,638.5 L811.8,639.4 L813.6,640.3 L815.4,641.2 L817.2,642.0 L819.0,642.9 L820.8,643.8 L822.6,644.6 L824.4,645.5 L826.3,646.4 L828.1,647.2 L829.9,648.1 L831.7,648.9 L833.5,649.8 L835.4,650.6 L837.2,651.5 L839.0,652.3 L840.8,653.2 L842.7,654.0 L844.5,654.9 L846.3,655.7 L848.1,656.5 L850.0,657.4 L851.8,658.2 L853.6,659.0 L855.5,659.8 L857.3,660.7 L859.1,661.5 L861.0,662.3 L862.8,663.1 L864.6,664.0 L866.5,664.8 L868.3,665.6 L870.1,666.4 L872.0,667.2 L873.8,668.0 L875.6,668.8 L877.5,669.6 L879.3,670.4 L881.2,671.3 L883.0,672.1 L884.8,672.9 L886.7,673.7 L888.5,674.5 L890.4,675.2 L892.2,676.0 L894.1,676.8 L895.9,677.6 L897.7,678.4 L899.6,679.2 L901.4,680.0 L903.3,680.8 L905.1,681.6 L907.0,682.3 L908.8,683.1 L910.7,683.9 L912.5,684.7 L914.3,685.5 L916.2,686.2 L918.0,687.0 L919.9,687.8 L921.7,688.6 L923.6,689.3 L925.4,690.1 L927.3,690.9 L929.1,691.6 L931.0,692.4 L932.8,693.2 L934.7,693.9 L936.5,694.7 L938.4,695.5 L940.2,696.2 L942.0,697.0 L943.9,697.7 L945.7,698.5 L947.6,699.3 L949.4,700.0 L951.3,700.8 L953.1,701.5 L955.0,702.3 L956.8,703.0 L958.7,703.8 L960.5,704.5 L962.4,705.3 L964.2,706.0 L966.1,706.8 L967.9,707.5 L969.8,708.3 L971.6,709.0 L973.5,709.8 L975.3,710.5 L977.2,711.3 L979.0,712.0 L980.9,712.8 L982.7,713.5 L984.6,714.2 L986.4,715.0 L988.3,715.7 L990.1,716.5 L992.0,717.2 L993.8,718.0 L995.7,718.7 L997.5,719.4 L999.4,720.2 L1001.2,720.9 L1003.1,721.6 L1005.0,722.4 L1006.8,723.1 L1008.7,723.9 L1010.5,724.6 L1012.4,725.3 L1014.2,726.1 L1016.1,726.8 L1018.0,727.5 L1019.8,728.3 L1021.7,729.0 L1023.5,729.7 L1025.4,730.5 L1027.2,731.2 L1029.1,731.9 L1031.0,732.7 L1032.8,733.4 L1034.7,734.1 L1036.6,734.9 L1038.4,735.6 L1040.3,736.3 L1042.1,737.1 L1044.0,737.8 L1045.9,738.5 L1047.7,739.3 L1049.6,740.0 L1051.5,740.7 L1053.3,741.5 L1055.2,742.2 L1057.1,742.9 L1058.9,743.7 L1060.8,744.4 L1062.7,745.1 L1064.5,745.9 L1066.4,746.6 L1068.3,747.4 L1070.2,748.1 L1072.0,748.8 L1073.9,749.6 L1075.8,750.3 L1077.6,751.0 L1079.5,751.8 L1081.4,752.5 L1083.3,753.2 L1085.2,754.0 L1087.0,754.7 L1088.9,755.5 L1090.8,756.2 L1092.7,756.9 L1094.5,757.7 L1096.4,758.4 L1098.3,759.2 L1100.2,759.9 L1102.1,760.6 L1104.0,761.4 L1105.8,762.1 L1107.7,762.9 L1109.6,763.6"/><path d="M456.9,171.6 L457.8,173.4 L458.7,175.2 L459.5,177.0 L460.4,178.8 L461.3,180.6 L462.2,182.4 L463.1,184.2 L464.1,186.0 L465.0,187.8 L465.9,189.5 L466.8,191.3 L467.7,193.1 L468.7,194.9 L469.6,196.7 L470.5,198.4 L471.5,200.2 L472.4,202.0 L473.4,203.7 L474.3,205.5 L475.3,207.3 L476.3,209.0 L477.2,210.8 L478.2,212.5 L479.2,214.3 L480.2,216.0 L481.2,217.8 L482.2,219.5 L483.1,221.3 L484.1,223.0 L485.1,224.8 L486.2,226.5 L487.2,228.2 L488.2,229.9 L489.2,231.7 L490.2,233.4 L491.2,235.1 L492.3,236.8 L493.3,238.6 L494.4,240.3 L495.4,242.0 L496.4,243.7 L497.5,245.4 L498.5,247.1 L499.6,248.8 L500.7,250.5 L501.7,252.2 L502.8,253.9 L503.9,255.6 L505.0,257.3 L506.0,259.0 L507.1,260.6 L508.2,262.3 L509.3,264.0 L510.4,265.7 L511.5,267.4 L512.6,269.0 L513.7,270.7 L514.8,272.4 L515.9,274.0 L517.1,275.7 L518.2,277.4 L519.3,279.0 L520.4,280.7 L521.6,282.3 L522.7,284.0 L523.8,285.6 L525.0,287.3 L526.1,288.9 L527.3,290.5 L528.4,292.2 L529.6,293.8 L530.8,295.5 L531.9,297.1 L533.1,298.7 L534.3,300.3 L535.4,302.0 L536.6,303.6 L537.8,305.2 L539.0,306.8 L540.2,308.4 L541.4,310.0 L542.6,311.6 L543.8,313.2 L545.0,314.8 L546.2,316.4 L547.4,318.0 L548.6,319.6 L549.8,321.2 L551.0,322.8 L552.3,324.4 L553.5,326.0 L554.7,327.6 L555.9,329.2 L557.2,330.7 L558.4,332.3 L559.7,333.9 L560.9,335.4 L562.2,337.0 L563.4,338.6 L564.7,340.1 L565.9,341.7 L567.2,343.3 L568.4,344.8 L569.7,346.4 L571.0,347.9 L572.2,349.5 L573.5,351.0 L574.8,352.5 L576.1,354.1 L577.4,355.6 L578.7,357.2 L579.9,358.7 L581.2,360.2 L582.5,361.7 L583.8,363.3 L585.1,364.8 L586.4,366.3 L587.7,367.8 L589.1,369.3 L590.4,370.9 L591.7,372.4 L593.0,373.9 L594.3,375.4 L595.7,376.9 L597.0,378.4 L598.3,379.9 L599.6,381.4 L601.0,382.9 L602.3,384.4 L603.7,385.8 L605.0,387.3 L606.4,388.8 L607.7,390.3 L609.1,391.8 L610.4,393.2 L611.8,394.7 L613.1,396.2 L614.5,397.6 L615.9,399.1 L617.2,400.6 L618.6,402.0 L620.0,403.5 L621.4,404.9 L622.7,406.4 L624.1,407.8 L625.5,409.3 L626.9,410.7 L628.3,412.2 L629.7,413.6 L631.1,415.0 L632.5,416.5 L633.9,417.9 L635.3,419.3 L636.7,420.8 L638.1,422.2 L639.5,423.6 L641.0,425.0 L642.4,426.4 L643.8,427.8 L645.2,429.3 L646.6,430.7 L648.1,432.1 L649.5,433.5 L650.9,434.9 L652.4,436.3 L653.8,437.7 L655.3,439.1 L656.7,440.4 L658.2,441.8 L659.6,443.2 L661.1,444.6 L662.5,446.0 L664.0,447.3 L665.4,448.7 L666.9,450.1 L668.4,451.5 L669.8,452.8 L671.3,454.2 L672.8,455.5 L674.3,456.9 L675.7,458.3 L677.2,459.6 L678.7,461.0 L680.2,462.3 L681.7,463.7 L683.2,465.0 L684.7,466.3 L686.2,467.7 L687.7,469.0 L689.2,470.3 L690.7,471.7 L692.2,473.0 L693.7,474.3 L695.2,475.6 L696.7,477.0 L698.2,478.3 L699.7,479.6 L701.3,480.9 L702.8,482.2 L704.3,483.5 L705.8,484.8 L707.4,486.1 L708.9,487.4 L710.4,488.7 L712.0,490.0 L713.5,491.3 L715.1,492.6 L716.6,493.8 L718.2,495.1 L719.7,496.4 L721.3,497.7 L722.8,499.0 L724.4,500.2 L725.9,501.5 L727.5,502.8 L729.1,504.0 L730.6,505.3 L732.2,506.5 L733.8,507.8 L735.4,509.0 L736.9,510.3 L738.5,511.5 L740.1,512.8 L741.7,514.0 L743.3,515.3 L744.9,516.5 L746.4,517.7 L748.0,519.0 L749.6,520.2 L751.2,521.4 L752.8,522.6 L754.4,523.8 L756.0,525.1 L757.7,526.3 L759.3,527.5 L760.9,528.7 L762.5,529.9 L764.1,531.1 L765.7,532.3 L767.3,533.5 L769.0,534.7 L770.6,535.9 L772.2,537.1 L773.9,538.2 L775.5,539.4 L777.1,540.6 L778.8,541.8 L780.4,542.9 L782.0,544.1 L783.7,545.3 L785.3,546.4 L787.0,547.6 L788.6,548.7 L790.3,549.8 L791.9,551.0 L793.6,552.1 L795.2,553.2 L796.9,554.4 L798.6,555.5 L800.2,556.6 L801.9,557.7 L803.6,558.8 L805.2,559.9 L806.9,561.0 L808.6,562.0 L810.3,563.1 L812.0,564.2 L813.6,565.3 L815.3,566.3 L817.0,567.4 L818.7,568.4 L820.4,569.5 L822.1,570.5 L823.8,571.6 L825.5,572.6 L827.1,573.7 L828.8,574.7 L830.5,575.7 L832.2,576.7 L833.9,577.8 L835.7,578.8 L837.4,579.8 L839.1,580.8 L840.8,581.9 L842.5,582.9 L844.2,583.9 L845.9,584.9 L847.6,585.9 L849.3,586.9 L851.0,587.9 L852.7,588.9 L854.5,589.9 L856.2,590.9 L857.9,591.9 L859.6,592.9 L861.3,593.9 L863.1,594.9 L864.8,596.0 L866.5,597.0 L868.2,598.0 L869.9,599.0 L871.7,600.0 L873.4,601.0 L875.1,602.0 L876.8,603.0 L878.6,604.0 L880.3,605.0 L882.0,606.0 L883.8,607.0 L885.5,608.0 L887.2,609.0 L888.9,610.0 L890.7,611.0 L892.4,612.0 L894.1,613.0 L895.9,614.0 L897.6,615.0 L899.3,616.0 L901.1,617.0 L902.8,618.0 L904.5,619.0 L906.3,620.0 L908.0,621.0 L909.8,622.0 L911.5,623.0 L913.2,624.0 L915.0,625.0 L916.7,626.0 L918.4,627.0 L920.2,628.0 L921.9,629.0 L923.7,630.0 L925.4,631.0 L927.1,632.0 L928.9,633.1 L930.6,634.1 L932.3,635.1 L934.1,636.1 L935.8,637.1 L937.6,638.1 L939.3,639.1 L941.0,640.1 L942.8,641.1 L944.5,642.1 L946.3,643.1 L948.0,644.1 L949.8,645.1 L951.5,646.1 L953.2,647.1 L955.0,648.1 L956.7,649.1 L958.5,650.2 L960.2,651.2 L961.9,652.2 L963.7,653.2 L965.4,654.2 L967.2,655.2 L968.9,656.2 L970.6,657.2 L972.4,658.2 L974.1,659.2 L975.9,660.3 L977.6,661.3 L979.3,662.3 L981.1,663.3 L982.8,664.3 L984.6,665.3 L986.3,666.3 L988.0,667.3 L989.8,668.4 L991.5,669.4 L993.2,670.4 L995.0,671.4 L996.7,672.4 L998.5,673.4 L1000.2,674.5 L1001.9,675.5 L1003.7,676.5 L1005.4,677.5 L1007.1,678.5 L1008.9,679.5 L1010.6,680.6 L1012.4,681.6 L1014.1,682.6 L1015.8,683.6 L1017.6,684.6 L1019.3,685.6 L1021.0,686.6 L1022.8,687.6 L1024.5,688.7 L1026.3,689.7 L1028.0,690.7 L1029.7,691.7 L1031.5,692.7 L1033.2,693.7 L1035.0,694.7 L1036.7,695.7 L1038.4,696.7 L1040.2,697.7 L1041.9,698.7 L1043.7,699.6 L1045.4,700.6 L1047.2,701.6 L1048.9,702.6 L1050.7,703.6 L1052.4,704.6 L1054.2,705.5 L1055.9,706.5 L1057.7,707.5 L1059.5,708.4 L1061.2,709.4 L1063.0,710.4 L1064.7,711.3 L1066.5,712.3 L1068.3,713.2 L1070.0,714.2 L1071.8,715.1 L1073.5,716.1 L1075.3,717.0 L1077.1,718.0 L1078.9,718.9 L1080.6,719.8 L1082.4,720.7 L1084.2,721.7 L1086.0,722.6 L1087.7,723.5 L1089.5,724.4 L1091.3,725.3 L1093.1,726.2 L1094.9,727.1 L1096.7,728.0 L1098.5,728.8 L1100.3,729.7 L1102.1,730.6 L1103.9,731.5 L1105.7,732.3 L1107.5,733.2 L1109.3,734.1 L1111.1,734.9 L1112.9,735.7 L1114.7,736.6 L1116.5,737.4 L1118.4,738.2 L1120.2,739.1 L1122.0,739.9 L1123.8,740.7 L1125.7,741.5 L1127.5,742.3 L1129.3,743.1 L1131.2,743.9 L1133.0,744.6 L1134.9,745.4 L1136.7,746.2 L1138.6,746.9 L1140.4,747.7 L1142.3,748.4 L1144.1,749.2 L1146.0,749.9 L1147.8,750.6 L1149.7,751.4 L1151.6,752.1 L1153.5,752.8 L1155.3,753.5 L1157.2,754.2 L1159.1,754.8 L1161.0,755.5 L1162.9,756.2"/><path d="M582.8,228.2 L583.8,230.0 L584.8,231.7 L585.8,233.5 L586.8,235.2 L587.8,236.9 L588.8,238.7 L589.9,240.4 L590.9,242.1 L591.9,243.8 L592.9,245.6 L594.0,247.3 L595.0,249.0 L596.1,250.7 L597.1,252.4 L598.2,254.1 L599.2,255.8 L600.3,257.5 L601.4,259.2 L602.4,260.9 L603.5,262.6 L604.6,264.3 L605.7,266.0 L606.8,267.7 L607.8,269.4 L608.9,271.0 L610.0,272.7 L611.2,274.4 L612.3,276.1 L613.4,277.7 L614.5,279.4 L615.6,281.0 L616.7,282.7 L617.9,284.4 L619.0,286.0 L620.2,287.7 L621.3,289.3 L622.4,291.0 L623.6,292.6 L624.8,294.2 L625.9,295.9 L627.1,297.5 L628.2,299.1 L629.4,300.8 L630.6,302.4 L631.8,304.0 L633.0,305.6 L634.2,307.2 L635.3,308.8 L636.5,310.5 L637.7,312.1 L638.9,313.7 L640.2,315.3 L641.4,316.9 L642.6,318.5 L643.8,320.0 L645.0,321.6 L646.3,323.2 L647.5,324.8 L648.7,326.4 L650.0,328.0 L651.2,329.5 L652.5,331.1 L653.7,332.7 L655.0,334.2 L656.2,335.8 L657.5,337.4 L658.7,338.9 L660.0,340.5 L661.3,342.0 L662.6,343.6 L663.9,345.1 L665.1,346.7 L666.4,348.2 L667.7,349.7 L669.0,351.3 L670.3,352.8 L671.6,354.3 L672.9,355.8 L674.2,357.4 L675.5,358.9 L676.9,360.4 L678.2,361.9 L679.5,363.4 L680.8,364.9 L682.2,366.4 L683.5,367.9 L684.8,369.4 L686.2,370.9 L687.5,372.4 L688.9,373.9 L690.2,375.4 L691.6,376.9 L692.9,378.3 L694.3,379.8 L695.7,381.3 L697.0,382.8 L698.4,384.2 L699.8,385.7 L701.2,387.2 L702.5,388.6 L703.9,390.1 L705.3,391.5 L706.7,393.0 L708.1,394.4 L709.5,395.9 L710.9,397.3 L712.3,398.7 L713.7,400.2 L715.1,401.6 L716.5,403.0 L718.0,404.5 L719.4,405.9 L720.8,407.3 L722.2,408.7 L723.7,410.1 L725.1,411.5 L726.5,412.9 L728.0,414.3 L729.4,415.7 L730.9,417.1 L732.3,418.5 L733.8,419.9 L735.2,421.3 L736.7,422.7 L738.1,424.1 L739.6,425.5 L741.1,426.8 L742.5,428.2 L744.0,429.6 L745.5,431.0 L747.0,432.3 L748.4,433.7 L749.9,435.0 L751.4,436.4 L752.9,437.7 L754.4,439.1 L755.9,440.4 L757.4,441.8 L758.9,443.1 L760.4,444.5 L761.9,445.8 L763.4,447.1 L764.9,448.5 L766.4,449.8 L767.9,451.1 L769.5,452.4 L771.0,453.7 L772.5,455.0 L774.0,456.4 L775.6,457.7 L777.1,459.0 L778.6,460.3 L780.2,461.6 L781.7,462.9 L783.3,464.1 L784.8,465.4 L786.4,466.7 L787.9,468.0 L789.5,469.3 L791.0,470.5 L792.6,471.8 L794.1,473.1 L795.7,474.4 L797.3,475.6 L798.8,476.9 L800.4,478.1 L802.0,479.4 L803.6,480.6 L805.1,481.9 L806.7,483.1 L808.3,484.4 L809.9,485.6 L811.5,486.8 L813.1,488.1 L814.7,489.3 L816.2,490.5 L817.8,491.7 L819.4,493.0 L821.0,494.2 L822.6,495.4 L824.3,496.6 L825.9,497.8 L827.5,499.0 L829.1,500.2 L830.7,501.4 L832.3,502.6 L833.9,503.8 L835.6,505.0 L837.2,506.2 L838.8,507.3 L840.4,508.5 L842.1,509.7 L843.7,510.9 L845.3,512.0 L847.0,513.2 L848.6,514.4 L850.2,515.5 L851.9,516.7 L853.5,517.8 L855.2,519.0 L856.8,520.1 L858.5,521.3 L860.1,522.4 L861.8,523.5 L863.4,524.7 L865.1,525.8 L866.7,526.9 L868.4,528.0 L870.1,529.2 L871.7,530.3 L873.4,531.4 L875.1,532.5 L876.7,533.6 L878.4,534.7 L880.1,535.8 L881.8,536.9 L883.4,538.0 L885.1,539.1 L886.8,540.2 L888.5,541.3 L890.2,542.4 L891.8,543.4 L893.5,544.5 L895.2,545.6 L896.9,546.7 L898.6,547.7 L900.3,548.8 L902.0,549.9 L903.7,550.9 L905.4,552.0 L907.1,553.0 L908.8,554.1 L910.5,555.1 L912.2,556.2 L913.9,557.2 L915.6,558.3 L917.3,559.3 L919.0,560.3 L920.7,561.4 L922.5,562.4 L924.2,563.4 L925.9,564.4 L927.6,565.5 L929.3,566.5 L931.1,567.5 L932.8,568.5 L934.5,569.5 L936.2,570.5 L937.9,571.6 L939.7,572.6 L941.4,573.6 L943.1,574.6 L944.9,575.6 L946.6,576.6 L948.3,577.6 L950.1,578.6 L951.8,579.6 L953.5,580.5 L955.3,581.5 L957.0,582.5 L958.8,583.5 L960.5,584.5 L962.2,585.5 L964.0,586.4 L965.7,587.4 L967.5,588.4 L969.2,589.4 L971.0,590.3 L972.7,591.3 L974.5,592.3 L976.2,593.2 L978.0,594.2 L979.7,595.2 L981.5,596.1 L983.3,597.1 L985.0,598.0 L986.8,599.0 L988.5,600.0 L990.3,600.9 L992.0,601.9 L993.8,602.8 L995.6,603.8 L997.3,604.7 L999.1,605.7 L1000.9,606.6 L1002.6,607.6 L1004.4,608.5 L1006.2,609.4 L1007.9,610.4 L1009.7,611.3 L1011.5,612.3 L1013.2,613.2 L1015.0,614.1 L1016.8,615.1 L1018.6,616.0 L1020.3,616.9 L1022.1,617.9 L1023.9,618.8 L1025.7,619.7 L1027.4,620.7 L1029.2,621.6 L1031.0,622.5 L1032.8,623.5 L1034.5,624.4 L1036.3,625.3 L1038.1,626.2 L1039.9,627.2 L1041.7,628.1 L1043.4,629.0 L1045.2,629.9 L1047.0,630.9 L1048.8,631.8 L1050.6,632.7 L1052.4,633.6 L1054.1,634.6 L1055.9,635.5 L1057.7,636.4 L1059.5,637.3 L1061.3,638.2 L1063.1,639.2 L1064.9,640.1 L1066.6,641.0 L1068.4,641.9 L1070.2,642.8 L1072.0,643.8 L1073.8,644.7 L1075.6,645.6 L1077.4,646.5 L1079.2,647.4 L1081.0,648.3 L1082.7,649.3 L1084.5,650.2 L1086.3,651.1 L1088.1,652.0 L1089.9,652.9 L1091.7,653.9 L1093.5,654.8 L1095.3,655.7 L1097.1,656.6 L1098.9,657.5 L1100.6,658.5 L1102.4,659.4 L1104.2,660.3 L1106.0,661.2 L1107.8,662.1 L1109.6,663.1 L1111.4,664.0 L1113.2,664.9 L1115.0,665.8 L1116.8,666.8 L1118.6,667.7 L1120.4,668.6 L1122.1,669.5 L1123.9,670.5 L1125.7,671.4 L1127.5,672.3 L1129.3,673.2 L1131.1,674.2 L1132.9,675.1 L1134.7,676.0 L1136.5,677.0 L1138.3,677.9 L1140.1,678.8 L1141.8,679.8 L1143.6,680.7 L1145.4,681.6 L1147.2,682.6 L1149.0,683.5 L1150.8,684.4 L1152.6,685.4 L1154.4,686.3 L1156.2,687.3 L1157.9,688.2 L1159.7,689.1 L1161.5,690.1 L1163.3,691.0 L1165.1,692.0 L1166.9,692.9 L1168.7,693.9 L1170.5,694.8 L1172.3,695.7 L1174.0,696.7 L1175.8,697.6 L1177.6,698.6 L1179.4,699.5 L1181.2,700.4 L1183.0,701.4 L1184.8,702.3 L1186.6,703.3 L1188.3,704.2 L1190.1,705.1 L1191.9,706.1 L1193.7,707.0 L1195.5,707.9 L1197.3,708.9 L1199.1,709.8 L1200.9,710.8 L1202.7,711.7 L1204.5,712.6 L1206.2,713.5 L1208.0,714.5 L1209.8,715.4 L1211.6,716.3 L1213.4,717.3 L1215.2,718.2 L1217.0,719.1 L1218.8,720.0 L1220.6,720.9 L1222.4,721.9 L1224.2,722.8 L1225.9,723.7 L1227.7,724.6 L1229.5,725.5 L1231.3,726.4 L1233.1,727.3 L1234.9,728.2 L1236.7,729.2 L1238.5,730.1 L1240.3,731.0 L1242.1,731.9 L1243.9,732.7 L1245.7,733.6 L1247.5,734.5 L1249.3,735.4 L1251.1,736.3 L1252.9,737.2 L1254.7,738.1 L1256.5,739.0 L1258.3,739.8 L1260.1,740.7 L1261.9,741.6 L1263.7,742.4 L1265.5,743.3 L1267.3,744.2 L1269.1,745.0 L1270.9,745.9 L1272.7,746.7 L1274.5,747.6 L1276.3,748.4 L1278.1,749.3 L1279.9,750.1 L1281.7,750.9 L1283.5,751.8 L1285.3,752.6 L1287.2,753.4 L1289.0,754.3 L1290.8,755.1 L1292.6,755.9 L1294.4,756.7 L1296.2,757.5 L1298.0,758.3 L1299.8,759.1 L1301.6,759.9 L1303.5,760.7 L1305.3,761.5 L1307.1,762.3 L1308.9,763.0 L1310.7,763.8 L1312.6,764.6 L1314.4,765.4 L1316.2,766.1 L1318.0,766.9 L1319.8,767.6 L1321.7,768.4 L1323.5,769.1"/><path d="M710.8,302.4 L711.7,304.2 L712.6,306.0 L713.6,307.7 L714.6,309.5 L715.5,311.3 L716.5,313.0 L717.5,314.8 L718.6,316.5 L719.6,318.2 L720.6,320.0 L721.7,321.7 L722.7,323.4 L723.8,325.1 L724.9,326.8 L726.0,328.5 L727.1,330.1 L728.3,331.8 L729.4,333.5 L730.5,335.1 L731.7,336.8 L732.9,338.4 L734.0,340.1 L735.2,341.7 L736.4,343.3 L737.6,344.9 L738.8,346.5 L740.0,348.1 L741.3,349.7 L742.5,351.3 L743.8,352.9 L745.0,354.4 L746.3,356.0 L747.5,357.5 L748.8,359.1 L750.1,360.6 L751.4,362.2 L752.7,363.7 L754.0,365.2 L755.3,366.7 L756.6,368.2 L757.9,369.7 L759.2,371.2 L760.6,372.7 L761.9,374.2 L763.3,375.7 L764.6,377.2 L765.9,378.7 L767.3,380.2 L768.7,381.6 L770.0,383.1 L771.4,384.6 L772.7,386.0 L774.1,387.5 L775.5,388.9 L776.9,390.4 L778.2,391.8 L779.6,393.3 L781.0,394.7 L782.4,396.2 L783.8,397.6 L785.2,399.1 L786.6,400.5 L787.9,402.0 L789.3,403.4 L790.7,404.8 L792.1,406.3 L793.5,407.7 L794.9,409.2 L796.3,410.6 L797.7,412.1 L799.1,413.5 L800.5,415.0 L801.9,416.4 L803.3,417.9 L804.7,419.3 L806.1,420.7 L807.5,422.2 L808.9,423.6 L810.3,425.1 L811.7,426.5 L813.1,427.9 L814.5,429.4 L815.9,430.8 L817.3,432.2 L818.8,433.6 L820.2,435.1 L821.6,436.5 L823.0,437.9 L824.5,439.3 L825.9,440.7 L827.3,442.1 L828.8,443.5 L830.2,444.9 L831.6,446.3 L833.1,447.7 L834.6,449.1 L836.0,450.5 L837.5,451.8 L838.9,453.2 L840.4,454.6 L841.9,455.9 L843.4,457.3 L844.9,458.6 L846.4,459.9 L847.9,461.3 L849.4,462.6 L850.9,463.9 L852.4,465.2 L853.9,466.5 L855.4,467.9 L856.9,469.2 L858.4,470.5 L860.0,471.8 L861.5,473.1 L863.0,474.3 L864.6,475.6 L866.1,476.9 L867.7,478.2 L869.2,479.5 L870.8,480.8 L872.3,482.0 L873.9,483.3 L875.4,484.6 L877.0,485.8 L878.5,487.1 L880.1,488.4 L881.7,489.6 L883.3,490.9 L884.8,492.1 L886.4,493.4 L888.0,494.6 L889.6,495.9 L891.2,497.1 L892.7,498.4 L894.3,499.6 L895.9,500.9 L897.5,502.1 L899.1,503.3 L900.7,504.5 L902.3,505.8 L903.9,507.0 L905.5,508.2 L907.1,509.4 L908.7,510.6 L910.3,511.8 L912.0,513.0 L913.6,514.2 L915.2,515.3 L916.8,516.5 L918.4,517.7 L920.1,518.9 L921.7,520.0 L923.3,521.2 L925.0,522.3 L926.6,523.5 L928.2,524.6 L929.9,525.7 L931.5,526.9 L933.2,528.0 L934.8,529.1 L936.5,530.2 L938.1,531.3 L939.8,532.5 L941.4,533.6 L943.1,534.7 L944.7,535.8 L946.4,536.9 L948.1,538.0 L949.7,539.0 L951.4,540.1 L953.1,541.2 L954.8,542.3 L956.5,543.4 L958.1,544.4 L959.8,545.5 L961.5,546.6 L963.2,547.6 L964.9,548.7 L966.6,549.8 L968.3,550.8 L970.0,551.9 L971.7,552.9 L973.4,554.0 L975.1,555.0 L976.8,556.1 L978.5,557.1 L980.3,558.2 L982.0,559.2 L983.7,560.2 L985.4,561.3 L987.2,562.3 L988.9,563.3 L990.6,564.4 L992.4,565.4 L994.1,566.4 L995.9,567.5 L997.6,568.5 L999.4,569.5 L1001.1,570.6 L1002.9,571.6 L1004.6,572.6 L1006.4,573.6 L1008.2,574.6 L1009.9,575.7 L1011.7,576.7 L1013.5,577.7 L1015.2,578.7 L1017.0,579.7 L1018.8,580.7 L1020.6,581.7 L1022.4,582.6 L1024.2,583.6 L1025.9,584.6 L1027.7,585.6 L1029.5,586.5 L1031.3,587.5 L1033.1,588.4 L1034.9,589.3 L1036.7,590.3 L1038.5,591.2 L1040.3,592.1 L1042.1,593.0 L1043.9,593.8 L1045.8,594.7 L1047.6,595.6 L1049.4,596.4 L1051.2,597.3 L1053.0,598.1 L1054.8,598.9 L1056.6,599.8 L1058.5,600.6 L1060.3,601.4 L1062.1,602.2 L1063.9,603.0 L1065.8,603.8 L1067.6,604.6 L1069.4,605.4 L1071.2,606.2 L1073.1,607.0 L1074.9,607.7 L1076.7,608.5 L1078.5,609.3 L1080.4,610.1 L1082.2,610.8 L1084.0,611.6 L1085.9,612.4 L1087.7,613.2 L1089.5,613.9 L1091.4,614.7 L1093.2,615.5 L1095.0,616.3 L1096.9,617.0 L1098.7,617.8 L1100.5,618.6 L1102.4,619.4 L1104.2,620.2 L1106.0,620.9 L1107.9,621.7 L1109.7,622.5 L1111.5,623.3 L1113.4,624.1 L1115.2,624.9 L1117.0,625.7 L1118.9,626.5 L1120.7,627.3 L1122.5,628.1 L1124.4,628.9 L1126.2,629.7 L1128.0,630.5 L1129.9,631.3 L1131.7,632.1 L1133.5,632.9 L1135.4,633.7 L1137.2,634.5 L1139.1,635.3 L1140.9,636.1 L1142.7,636.9 L1144.6,637.7 L1146.4,638.5 L1148.2,639.3 L1150.1,640.1 L1151.9,641.0 L1153.7,641.8 L1155.6,642.6 L1157.4,643.4 L1159.2,644.2 L1161.1,645.0 L1162.9,645.8 L1164.8,646.7 L1166.6,647.5 L1168.4,648.3 L1170.3,649.1 L1172.1,649.9 L1173.9,650.8 L1175.8,651.6 L1177.6,652.4 L1179.4,653.2 L1181.3,654.1 L1183.1,654.9 L1185.0,655.7 L1186.8,656.5 L1188.6,657.4 L1190.5,658.2 L1192.3,659.0 L1194.1,659.9 L1196.0,660.7 L1197.8,661.5 L1199.7,662.3 L1201.5,663.2 L1203.3,664.0 L1205.2,664.8 L1207.0,665.7 L1208.8,666.5 L1210.7,667.3 L1212.5,668.2 L1214.4,669.0 L1216.2,669.8 L1218.0,670.7 L1219.9,671.5 L1221.7,672.3 L1223.6,673.2 L1225.4,674.0 L1227.2,674.8 L1229.1,675.7 L1230.9,676.5 L1232.7,677.3 L1234.6,678.2 L1236.4,679.0 L1238.3,679.8 L1240.1,680.7 L1241.9,681.5 L1243.8,682.3 L1245.6,683.2 L1247.4,684.0 L1249.3,684.8 L1251.1,685.7 L1253.0,686.5 L1254.8,687.3 L1256.6,688.2 L1258.5,689.0 L1260.3,689.9 L1262.1,690.7 L1264.0,691.5 L1265.8,692.4 L1267.7,693.2 L1269.5,694.0 L1271.3,694.9 L1273.2,695.7 L1275.0,696.5 L1276.9,697.3 L1278.7,698.2 L1280.5,699.0 L1282.4,699.8 L1284.2,700.7 L1286.0,701.5 L1287.9,702.3 L1289.7,703.2 L1291.6,704.0 L1293.4,704.8 L1295.2,705.6 L1297.1,706.5 L1298.9,707.3 L1300.7,708.1 L1302.6,708.9 L1304.4,709.8 L1306.3,710.6 L1308.1,711.4 L1309.9,712.2 L1311.8,713.1 L1313.6,713.9 L1315.4,714.7 L1317.3,715.5 L1319.1,716.3 L1320.9,717.2 L1322.8,718.0 L1324.6,718.8 L1326.5,719.6 L1328.3,720.4 L1330.1,721.2 L1332.0,722.1 L1333.8,722.9 L1335.6,723.7 L1337.5,724.5 L1339.3,725.3 L1341.1,726.1 L1343.0,726.9 L1344.8,727.7 L1346.6,728.5 L1348.5,729.3 L1350.3,730.1 L1352.2,730.9 L1354.0,731.7 L1355.8,732.5 L1357.7,733.3 L1359.5,734.1 L1361.3,734.9 L1363.2,735.7 L1365.0,736.5 L1366.8,737.3 L1368.7,738.1 L1370.5,738.9 L1372.3,739.7 L1374.2,740.5 L1376.0,741.3 L1377.8,742.1 L1379.7,742.8 L1381.5,743.6 L1383.3,744.4 L1385.2,745.2 L1387.0,746.0 L1388.8,746.7 L1390.7,747.5 L1392.5,748.3 L1394.3,749.1 L1396.2,749.8 L1398.0,750.6"/><path d="M858.2,393.2 L859.7,394.5 L861.2,395.7 L862.7,397.0 L864.2,398.3 L865.7,399.6 L867.2,400.8 L868.7,402.1 L870.2,403.4 L871.7,404.7 L873.2,406.0 L874.7,407.2 L876.2,408.5 L877.7,409.8 L879.2,411.1 L880.7,412.4 L882.2,413.7 L883.7,415.0 L885.2,416.3 L886.7,417.6 L888.2,418.9 L889.7,420.2 L891.3,421.5 L892.8,422.8 L894.3,424.1 L895.8,425.4 L897.3,426.7 L898.8,428.0 L900.3,429.3 L901.8,430.6 L903.4,431.9 L904.9,433.2 L906.4,434.5 L907.9,435.8 L909.4,437.1 L911.0,438.4 L912.5,439.7 L914.0,441.0 L915.5,442.3 L917.1,443.6 L918.6,444.9 L920.1,446.2 L921.6,447.5 L923.2,448.8 L924.7,450.1 L926.2,451.4 L927.8,452.7 L929.3,454.0 L930.8,455.3 L932.4,456.6 L933.9,457.9 L935.5,459.2 L937.0,460.5 L938.5,461.8 L940.1,463.1 L941.6,464.4 L943.2,465.7 L944.7,467.0 L946.3,468.3 L947.8,469.6 L949.4,470.9 L950.9,472.2 L952.5,473.5 L954.0,474.8 L955.6,476.0 L957.2,477.3 L958.7,478.6 L960.3,479.9 L961.8,481.2 L963.4,482.4 L965.0,483.7 L966.5,485.0 L968.1,486.3 L969.7,487.5 L971.3,488.8 L972.8,490.1 L974.4,491.4 L976.0,492.6 L977.6,493.9 L979.1,495.1 L980.7,496.4 L982.3,497.7 L983.9,498.9 L985.5,500.2 L987.1,501.4 L988.7,502.7 L990.2,503.9 L991.8,505.2 L993.4,506.4 L995.0,507.6 L996.6,508.9 L998.2,510.1 L999.8,511.3 L1001.4,512.6 L1003.0,513.8 L1004.7,515.0 L1006.3,516.2 L1007.9,517.4 L1009.5,518.6 L1011.1,519.9 L1012.7,521.1 L1014.3,522.3 L1016.0,523.5 L1017.6,524.7 L1019.2,525.9 L1020.8,527.0 L1022.5,528.2 L1024.1,529.4 L1025.7,530.6 L1027.4,531.8 L1029.0,532.9 L1030.7,534.1 L1032.3,535.3 L1033.9,536.4 L1035.6,537.6 L1037.2,538.8 L1038.9,539.9 L1040.5,541.1 L1042.2,542.2 L1043.9,543.3 L1045.5,544.5 L1047.2,545.6 L1048.8,546.7 L1050.5,547.8 L1052.2,549.0 L1053.8,550.1 L1055.5,551.2 L1057.2,552.3 L1058.9,553.4 L1060.5,554.5 L1062.2,555.6 L1063.9,556.7 L1065.6,557.7 L1067.3,558.8 L1069.0,559.9 L1070.7,561.0 L1072.4,562.0 L1074.1,563.1 L1075.8,564.1 L1077.5,565.2 L1079.2,566.2 L1080.9,567.3 L1082.6,568.3 L1084.3,569.3 L1086.0,570.4 L1087.7,571.4 L1089.4,572.4 L1091.2,573.4 L1092.9,574.5 L1094.6,575.5 L1096.3,576.5 L1098.0,577.5 L1099.8,578.5 L1101.5,579.5 L1103.2,580.5 L1105.0,581.5 L1106.7,582.4 L1108.4,583.4 L1110.2,584.4 L1111.9,585.4 L1113.7,586.3 L1115.4,587.3 L1117.2,588.3 L1118.9,589.2 L1120.7,590.2 L1122.4,591.2 L1124.2,592.1 L1125.9,593.1 L1127.7,594.0 L1129.4,595.0 L1131.2,595.9 L1133.0,596.8 L1134.7,597.8 L1136.5,598.7 L1138.3,599.6 L1140.0,600.6 L1141.8,601.5 L1143.6,602.4 L1145.3,603.3 L1147.1,604.3 L1148.9,605.2 L1150.7,606.1 L1152.4,607.0 L1154.2,607.9 L1156.0,608.8 L1157.8,609.7 L1159.6,610.6 L1161.3,611.5 L1163.1,612.4 L1164.9,613.3 L1166.7,614.2 L1168.5,615.1 L1170.3,616.0 L1172.1,616.9 L1173.9,617.8 L1175.7,618.7 L1177.5,619.6 L1179.2,620.5 L1181.0,621.4 L1182.8,622.2 L1184.6,623.1 L1186.4,624.0 L1188.2,624.9 L1190.0,625.8 L1191.8,626.6 L1193.6,627.5 L1195.4,628.4 L1197.3,629.3 L1199.1,630.1 L1200.9,631.0 L1202.7,631.9 L1204.5,632.8 L1206.3,633.6 L1208.1,634.5 L1209.9,635.4 L1211.7,636.2 L1213.5,637.1 L1215.3,638.0 L1217.2,638.8 L1219.0,639.7 L1220.8,640.6 L1222.6,641.4 L1224.4,642.3 L1226.2,643.2 L1228.0,644.0 L1229.9,644.9 L1231.7,645.8 L1233.5,646.6 L1235.3,647.5 L1237.1,648.3 L1239.0,649.2 L1240.8,650.1 L1242.6,650.9 L1244.4,651.8 L1246.2,652.6 L1248.1,653.5 L1249.9,654.4 L1251.7,655.2 L1253.5,656.1 L1255.3,656.9 L1257.2,657.8 L1259.0,658.7 L1260.8,659.5 L1262.6,660.4 L1264.4,661.2 L1266.3,662.1 L1268.1,663.0 L1269.9,663.8 L1271.7,664.7 L1273.6,665.6 L1275.4,666.4 L1277.2,667.3 L1279.0,668.1 L1280.8,669.0 L1282.7,669.9 L1284.5,670.7 L1286.3,671.6 L1288.1,672.4 L1290.0,673.3 L1291.8,674.2 L1293.6,675.0 L1295.4,675.9 L1297.2,676.8 L1299.1,677.6 L1300.9,678.5 L1302.7,679.4 L1304.5,680.2 L1306.3,681.1 L1308.2,682.0 L1310.0,682.8 L1311.8,683.7 L1313.6,684.6 L1315.4,685.4 L1317.3,686.3 L1319.1,687.2 L1320.9,688.1 L1322.7,688.9 L1324.5,689.8 L1326.3,690.7 L1328.2,691.5 L1330.0,692.4 L1331.8,693.3 L1333.6,694.2 L1335.4,695.1 L1337.2,695.9 L1339.0,696.8 L1340.8,697.7 L1342.6,698.6 L1344.5,699.5 L1346.3,700.3 L1348.1,701.2 L1349.9,702.1 L1351.7,703.0 L1353.5,703.9 L1355.3,704.8 L1357.1,705.7 L1358.9,706.6 L1360.7,707.5 L1362.5,708.4 L1364.3,709.3 L1366.1,710.1 L1367.9,711.0 L1369.7,711.9 L1371.5,712.8 L1373.3,713.7 L1375.1,714.7 L1376.9,715.6 L1378.6,716.5 L1380.4,717.4 L1382.2,718.3 L1384.0,719.2 L1385.8,720.1 L1387.6,721.0 L1389.4,721.9 L1391.1,722.9 L1392.9,723.8 L1394.7,724.7 L1396.5,725.6 L1398.3,726.5 L1400.0,727.5 L1401.8,728.4 L1403.6,729.3 L1405.4,730.2 L1407.1,731.2 L1408.9,732.1 L1410.7,733.0 L1412.4,734.0 L1414.2,734.9 L1415.9,735.9 L1417.7,736.8 L1419.5,737.8 L1421.2,738.7 L1423.0,739.7 L1424.7,740.6 L1426.5,741.6 L1428.2,742.5 L1430.0,743.5 L1431.7,744.4"/></g><g stroke="#141414" stroke-width="2.0" fill="none" stroke-linecap="round"><path d="M199.8,121.5 L201.7,122.0 L203.7,122.4 L205.7,122.9 L207.7,123.4 L209.6,123.9 L211.6,124.4 L213.6,124.9 L215.5,125.4 L217.5,125.9 L219.5,126.3 L221.4,126.8 L223.4,127.3 L225.4,127.8 L227.3,128.3 L229.3,128.8 L231.3,129.3 L233.2,129.8 L235.2,130.3 L237.1,130.7 L239.1,131.2 L241.1,131.7 L243.0,132.2 L245.0,132.7 L247.0,133.2 L248.9,133.7 L250.9,134.2 L252.8,134.7 L254.8,135.2 L256.8,135.6 L258.7,136.1 L260.7,136.6 L262.6,137.1 L264.6,137.6 L266.5,138.1 L268.5,138.6 L270.5,139.1 L272.4,139.6 L274.4,140.1 L276.3,140.6 L278.3,141.1 L280.2,141.6 L282.2,142.1 L284.1,142.6 L286.1,143.1 L288.0,143.6 L290.0,144.1 L291.9,144.6 L293.9,145.1 L295.8,145.6 L297.8,146.1 L299.7,146.6 L301.7,147.1 L303.6,147.6 L305.6,148.1 L307.5,148.6 L309.5,149.1 L311.4,149.7 L313.4,150.2 L315.3,150.7 L317.2,151.2 L319.2,151.7 L321.1,152.2 L323.1,152.7 L325.0,153.3 L327.0,153.8 L328.9,154.3 L330.8,154.8 L332.8,155.3 L334.7,155.9 L336.6,156.4 L338.6,156.9 L340.5,157.5 L342.5,158.0 L344.4,158.5 L346.3,159.0 L348.3,159.6 L350.2,160.1 L352.1,160.7 L354.0,161.2 L356.0,161.7 L357.9,162.3 L359.8,162.8 L361.8,163.4 L363.7,163.9 L365.6,164.4 L367.5,165.0 L369.5,165.5 L371.4,166.1 L373.3,166.7 L375.2,167.2 L377.2,167.8 L379.1,168.3 L381.0,168.9 L382.9,169.5 L384.8,170.0 L386.7,170.6 L388.7,171.2 L390.6,171.7 L392.5,172.3 L394.4,172.9 L396.3,173.4 L398.2,174.0 L400.2,174.6 L402.1,175.2 L404.0,175.8 L405.9,176.4 L407.8,176.9 L409.7,177.5 L411.6,178.1 L413.5,178.7 L415.4,179.3 L417.3,179.9 L419.2,180.5 L421.1,181.1 L423.0,181.7 L424.9,182.3 L426.8,182.9 L428.7,183.5 L430.6,184.2 L432.5,184.8 L434.4,185.4 L436.3,186.0 L438.2,186.6 L440.1,187.3 L442.0,187.9 L443.9,188.5 L445.8,189.2 L447.7,189.8 L449.6,190.4 L451.4,191.1 L453.3,191.7 L455.2,192.4 L457.1,193.0 L459.0,193.7 L460.9,194.3 L462.8,195.0 L464.6,195.6 L466.5,196.3 L468.4,197.0 L470.3,197.6 L472.1,198.3 L474.0,199.0 L475.9,199.7 L477.8,200.3 L479.6,201.0 L481.5,201.7 L483.4,202.4 L485.3,203.1 L487.1,203.8 L489.0,204.5 L490.9,205.2 L492.7,205.9 L494.6,206.6 L496.4,207.3 L498.3,208.0 L500.2,208.7 L502.0,209.4 L503.9,210.2 L505.7,210.9 L507.6,211.6 L509.5,212.4 L511.3,213.1 L513.2,213.8 L515.0,214.6 L516.9,215.3 L518.7,216.1 L520.6,216.8 L522.4,217.6 L524.3,218.3 L526.1,219.1 L528.0,219.9 L529.8,220.6 L531.6,221.4 L533.5,222.2 L535.3,223.0 L537.2,223.7 L539.0,224.5 L540.8,225.3 L542.7,226.1 L544.5,226.9 L546.3,227.7 L548.2,228.5 L550.0,229.3 L551.8,230.1 L553.6,230.9 L555.5,231.8 L557.3,232.6 L559.1,233.4 L560.9,234.2 L562.8,235.1 L564.6,235.9 L566.4,236.8 L568.2,237.6 L570.0,238.5 L571.8,239.3 L573.6,240.2 L575.5,241.0 L577.3,241.9 L579.1,242.8 L580.9,243.6 L582.7,244.5 L584.5,245.4 L586.3,246.3 L588.1,247.2 L589.9,248.0 L591.7,248.9 L593.5,249.8 L595.3,250.7 L597.1,251.6 L598.9,252.5 L600.7,253.4 L602.5,254.3 L604.3,255.2 L606.1,256.2 L607.9,257.1 L609.7,258.0 L611.4,258.9 L613.2,259.8 L615.0,260.8 L616.8,261.7 L618.6,262.6 L620.4,263.6 L622.1,264.5 L623.9,265.4 L625.7,266.4 L627.5,267.3 L629.3,268.3 L631.0,269.2 L632.8,270.2 L634.6,271.1 L636.4,272.1 L638.1,273.0 L639.9,274.0 L641.7,275.0 L643.4,275.9 L645.2,276.9 L647.0,277.8 L648.7,278.8 L650.5,279.8 L652.3,280.8 L654.0,281.7 L655.8,282.7 L657.5,283.7 L659.3,284.7 L661.1,285.6 L662.8,286.6 L664.6,287.6 L666.3,288.6 L668.1,289.6 L669.8,290.6 L671.6,291.5 L673.3,292.5 L675.1,293.5 L676.8,294.5 L678.6,295.5 L680.3,296.5 L682.1,297.5 L683.8,298.5 L685.6,299.5 L687.3,300.5 L689.0,301.5 L690.8,302.5 L692.5,303.5 L694.3,304.5 L696.0,305.5 L697.7,306.5 L699.5,307.6 L701.2,308.6 L703.0,309.6 L704.7,310.6 L706.4,311.6 L708.2,312.6 L709.9,313.6 L711.6,314.7 L713.4,315.7 L715.1,316.7 L716.8,317.7 L718.5,318.7 L720.3,319.8 L722.0,320.8 L723.7,321.8 L725.5,322.9 L727.2,323.9 L728.9,324.9 L730.6,325.9 L732.4,327.0 L734.1,328.0 L735.8,329.0 L737.5,330.1 L739.3,331.1 L741.0,332.1 L742.7,333.2 L744.4,334.2 L746.1,335.2 L747.9,336.3 L749.6,337.3 L751.3,338.4 L753.0,339.4 L754.7,340.4 L756.4,341.5 L758.2,342.5 L759.9,343.6 L761.6,344.6 L763.3,345.7 L765.0,346.7 L766.7,347.8 L768.4,348.8 L770.2,349.8 L771.9,350.9 L773.6,351.9 L775.3,353.0 L777.0,354.0 L778.7,355.1 L780.4,356.1 L782.1,357.2 L783.8,358.2 L785.6,359.3 L787.3,360.3 L789.0,361.4 L790.7,362.4 L792.4,363.5 L794.1,364.5 L795.8,365.6 L797.5,366.6 L799.2,367.7 L800.9,368.8 L802.6,369.8 L804.3,370.9 L806.1,371.9 L807.8,373.0 L809.5,374.0 L811.2,375.1 L812.9,376.1 L814.6,377.2 L816.3,378.2 L818.0,379.3 L819.7,380.3 L821.4,381.4 L823.1,382.5 L824.8,383.5 L826.5,384.6 L828.2,385.6 L829.9,386.7 L831.6,387.7 L833.3,388.8 L835.0,389.8 L836.7,390.9 L838.4,391.9 L840.1,393.0 L841.8,394.0 L843.6,395.1 L845.3,396.2 L847.0,397.2 L848.7,398.3 L850.4,399.3 L852.1,400.4 L853.8,401.4 L855.5,402.5 L857.2,403.5 L858.9,404.6 L860.6,405.6 L862.3,406.7 L864.0,407.7 L865.7,408.8 L867.4,409.8 L869.1,410.9 L870.8,411.9 L872.5,413.0 L874.2,414.0 L875.9,415.0 L877.6,416.1 L879.3,417.1 L881.1,418.2 L882.8,419.2 L884.5,420.3 L886.2,421.3 L887.9,422.4 L889.6,423.4 L891.3,424.4 L893.0,425.5 L894.7,426.5 L896.4,427.6 L898.1,428.6 L899.8,429.6 L901.5,430.7 L903.2,431.7 L905.0,432.7 L906.7,433.8 L908.4,434.8 L910.1,435.8 L911.8,436.9 L913.5,437.9 L915.2,438.9 L916.9,439.9 L918.6,441.0 L920.4,442.0 L922.1,443.0 L923.8,444.0 L925.5,445.1 L927.2,446.1 L928.9,447.1 L930.6,448.1 L932.4,449.2 L934.1,450.2 L935.8,451.2 L937.5,452.2 L939.2,453.2 L940.9,454.2 L942.7,455.2 L944.4,456.2 L946.1,457.3 L947.8,458.3 L949.5,459.3 L951.3,460.3 L953.0,461.3 L954.7,462.3 L956.4,463.3 L958.2,464.3 L959.9,465.3 L961.6,466.3 L963.3,467.3 L965.1,468.3 L966.8,469.3 L968.5,470.3 L970.2,471.3 L972.0,472.3 L973.7,473.3 L975.4,474.3 L977.2,475.3 L978.9,476.3 L980.6,477.3 L982.3,478.3 L984.1,479.3 L985.8,480.3 L987.5,481.3 L989.3,482.3 L991.0,483.3 L992.7,484.3 L994.5,485.3 L996.2,486.3 L997.9,487.3 L999.7,488.3 L1001.4,489.3 L1003.2,490.3 L1004.9,491.3 L1006.6,492.3 L1008.4,493.3 L1010.1,494.3 L1011.9,495.3 L1013.6,496.4 L1015.3,497.4 L1017.1,498.4 L1018.8,499.4 L1020.6,500.4 L1022.3,501.5 L1024.1,502.5 L1025.8,503.5 L1027.6,504.5 L1029.3,505.6 L1031.0,506.6 L1032.8,507.6 L1034.5,508.7 L1036.3,509.7 L1038.0,510.7 L1039.8,511.8 L1041.5,512.8 L1043.3,513.8 L1045.0,514.9 L1046.8,515.9 L1048.5,516.9 L1050.3,517.9 L1052.1,519.0 L1053.8,520.0 L1055.6,521.0 L1057.3,522.1 L1059.1,523.1 L1060.8,524.1 L1062.6,525.1 L1064.3,526.1 L1066.1,527.1 L1067.9,528.2 L1069.6,529.2 L1071.4,530.2 L1073.1,531.2 L1074.9,532.2 L1076.7,533.2 L1078.4,534.2 L1080.2,535.2 L1081.9,536.1 L1083.7,537.1 L1085.5,538.1 L1087.2,539.1 L1089.0,540.1 L1090.8,541.0 L1092.5,542.0 L1094.3,542.9 L1096.1,543.9 L1097.8,544.8 L1099.6,545.8 L1101.4,546.7 L1103.1,547.7 L1104.9,548.6 L1106.7,549.5 L1108.5,550.4 L1110.2,551.3 L1112.0,552.3 L1113.8,553.2 L1115.5,554.1 L1117.3,555.0 L1119.1,555.9 L1120.9,556.8 L1122.6,557.7 L1124.4,558.6 L1126.2,559.4 L1128.0,560.3 L1129.8,561.2 L1131.5,562.1 L1133.3,563.0 L1135.1,563.8 L1136.9,564.7 L1138.6,565.6 L1140.4,566.4 L1142.2,567.3 L1144.0,568.2 L1145.8,569.0 L1147.6,569.9 L1149.3,570.8 L1151.1,571.6 L1152.9,572.5 L1154.7,573.3 L1156.5,574.2 L1158.3,575.0 L1160.0,575.9 L1161.8,576.7 L1163.6,577.6 L1165.4,578.4 L1167.2,579.3 L1169.0,580.1 L1170.8,581.0 L1172.6,581.8 L1174.3,582.7 L1176.1,583.5 L1177.9,584.4 L1179.7,585.2 L1181.5,586.1 L1183.3,587.0 L1185.1,587.8 L1186.9,588.7 L1188.7,589.5 L1190.5,590.4 L1192.2,591.2 L1194.0,592.1 L1195.8,593.0 L1197.6,593.8 L1199.4,594.7 L1201.2,595.5 L1203.0,596.4 L1204.8,597.3 L1206.6,598.1 L1208.4,599.0 L1210.2,599.9 L1212.0,600.8 L1213.8,601.6 L1215.6,602.5 L1217.4,603.4 L1219.2,604.3 L1221.0,605.1 L1222.8,606.0 L1224.6,606.9 L1226.4,607.8 L1228.2,608.7 L1230.0,609.6 L1231.8,610.4 L1233.6,611.3 L1235.4,612.2 L1237.2,613.1 L1239.0,614.0 L1240.8,614.9 L1242.6,615.8 L1244.4,616.6 L1246.2,617.5 L1248.0,618.4 L1249.8,619.3 L1251.6,620.2 L1253.4,621.1 L1255.2,622.0 L1257.0,622.9 L1258.8,623.8 L1260.6,624.7 L1262.4,625.5 L1264.2,626.4 L1266.1,627.3 L1267.9,628.2 L1269.7,629.1 L1271.5,630.0 L1273.3,630.9 L1275.1,631.8 L1276.9,632.7 L1278.7,633.6 L1280.5,634.5 L1282.3,635.3 L1284.1,636.2 L1286.0,637.1 L1287.8,638.0 L1289.6,638.9 L1291.4,639.8 L1293.2,640.7 L1295.0,641.6 L1296.8,642.4 L1298.6,643.3 L1300.5,644.2 L1302.3,645.1 L1304.1,646.0 L1305.9,646.9 L1307.7,647.7 L1309.5,648.6 L1311.3,649.5 L1313.2,650.4 L1315.0,651.3 L1316.8,652.1 L1318.6,653.0 L1320.4,653.9 L1322.2,654.7 L1324.1,655.6 L1325.9,656.5 L1327.7,657.4 L1329.5,658.2 L1331.3,659.1 L1333.2,660.0 L1335.0,660.8 L1336.8,661.7 L1338.6,662.5 L1340.4,663.4 L1342.3,664.3 L1344.1,665.1 L1345.9,666.0 L1347.7,666.8 L1349.6,667.7 L1351.4,668.5 L1353.2,669.4 L1355.0,670.2 L1356.9,671.1 L1358.7,671.9 L1360.5,672.8 L1362.3,673.6 L1364.2,674.5 L1366.0,675.3 L1367.8,676.1 L1369.6,677.0 L1371.5,677.8 L1373.3,678.6 L1375.1,679.5 L1377.0,680.3 L1378.8,681.1 L1380.6,682.0 L1382.4,682.8 L1384.3,683.6 L1386.1,684.4 L1387.9,685.3 L1389.8,686.1 L1391.6,686.9 L1393.4,687.7 L1395.3,688.5 L1397.1,689.4 L1398.9,690.2 L1400.8,691.0 L1402.6,691.8 L1404.4,692.6 L1406.3,693.4 L1408.1,694.2 L1410.0,695.0 L1411.8,695.8 L1413.6,696.6 L1415.5,697.4 L1417.3,698.2 L1419.2,699.0 L1421.0,699.8 L1422.8,700.6 L1424.7,701.4 L1426.5,702.1 L1428.4,702.9 L1430.2,703.7 L1432.0,704.5 L1433.9,705.3 L1435.7,706.0 L1437.6,706.8 L1439.4,707.6 L1441.3,708.4 L1443.1,709.1 L1445.0,709.9 L1446.8,710.7 L1448.7,711.4 L1450.5,712.2 L1452.4,712.9 L1454.2,713.7 L1456.1,714.5 L1457.9,715.2 L1459.8,716.0 L1461.6,716.7 L1463.5,717.5 L1465.3,718.2 L1467.2,718.9 L1469.0,719.7 L1470.9,720.4 L1472.7,721.2 L1474.6,721.9 L1476.5,722.6 L1478.3,723.4 L1480.2,724.1 L1482.0,724.8 L1483.9,725.5 L1485.8,726.2 L1487.6,727.0 L1489.5,727.7 L1491.3,728.4 L1493.2,729.1 L1495.1,729.8 L1496.9,730.5 L1498.8,731.2 L1500.7,731.9 L1502.5,732.6 L1504.4,733.3 L1506.3,734.0 L1508.1,734.7 L1510.0,735.4 L1511.9,736.1 L1513.7,736.8 L1515.6,737.5 L1517.5,738.2 L1519.4,738.8 L1521.2,739.5 L1523.1,740.2 L1525.0,740.9 L1526.9,741.5 L1528.7,742.2 L1530.6,742.9 L1532.5,743.5 L1534.4,744.2"/><path d="M199.3,248.4 L201.2,249.0 L203.2,249.6 L205.2,250.2 L207.1,250.8 L209.1,251.4 L211.1,252.0 L213.0,252.6 L215.0,253.1 L217.0,253.7 L219.0,254.3 L220.9,254.9 L222.9,255.4 L224.9,256.0 L226.8,256.6 L228.8,257.1 L230.8,257.7 L232.7,258.2 L234.7,258.8 L236.6,259.3 L238.6,259.9 L240.6,260.4 L242.5,260.9 L244.5,261.5 L246.4,262.0 L248.4,262.5 L250.4,263.1 L252.3,263.6 L254.3,264.1 L256.2,264.7 L258.2,265.2 L260.2,265.7 L262.1,266.2 L264.1,266.7 L266.0,267.3 L268.0,267.8 L269.9,268.3 L271.9,268.8 L273.8,269.3 L275.8,269.8 L277.7,270.3 L279.7,270.8 L281.7,271.3 L283.6,271.8 L285.6,272.3 L287.5,272.8 L289.4,273.3 L291.4,273.8 L293.3,274.3 L295.3,274.8 L297.2,275.3 L299.2,275.8 L301.1,276.3 L303.1,276.8 L305.0,277.3 L307.0,277.8 L308.9,278.3 L310.9,278.8 L312.8,279.2 L314.7,279.7 L316.7,280.2 L318.6,280.7 L320.6,281.2 L322.5,281.7 L324.4,282.2 L326.4,282.7 L328.3,283.2 L330.2,283.6 L332.2,284.1 L334.1,284.6 L336.1,285.1 L338.0,285.6 L339.9,286.1 L341.9,286.6 L343.8,287.1 L345.7,287.6 L347.7,288.1 L349.6,288.5 L351.5,289.0 L353.4,289.5 L355.4,290.0 L357.3,290.5 L359.2,291.0 L361.2,291.5 L363.1,292.0 L365.0,292.5 L366.9,293.0 L368.9,293.5 L370.8,294.0 L372.7,294.5 L374.6,295.0 L376.6,295.5 L378.5,296.0 L380.4,296.5 L382.3,297.0 L384.2,297.6 L386.2,298.1 L388.1,298.6 L390.0,299.1 L391.9,299.6 L393.8,300.1 L395.8,300.7 L397.7,301.2 L399.6,301.7 L401.5,302.2 L403.4,302.8 L405.3,303.3 L407.2,303.8 L409.2,304.4 L411.1,304.9 L413.0,305.5 L414.9,306.0 L416.8,306.5 L418.7,307.1 L420.6,307.6 L422.5,308.2 L424.4,308.8 L426.3,309.3 L428.2,309.9 L430.1,310.4 L432.0,311.0 L434.0,311.6 L435.9,312.2 L437.8,312.7 L439.7,313.3 L441.6,313.9 L443.5,314.5 L445.4,315.1 L447.3,315.7 L449.2,316.3 L451.1,316.9 L453.0,317.5 L454.9,318.1 L456.7,318.7 L458.6,319.3 L460.5,319.9 L462.4,320.5 L464.3,321.1 L466.2,321.8 L468.1,322.4 L470.0,323.0 L471.9,323.7 L473.8,324.3 L475.7,324.9 L477.6,325.6 L479.4,326.2 L481.3,326.9 L483.2,327.5 L485.1,328.2 L487.0,328.8 L488.9,329.5 L490.8,330.2 L492.6,330.8 L494.5,331.5 L496.4,332.2 L498.3,332.8 L500.2,333.5 L502.0,334.2 L503.9,334.9 L505.8,335.6 L507.7,336.2 L509.6,336.9 L511.4,337.6 L513.3,338.3 L515.2,339.0 L517.1,339.7 L518.9,340.4 L520.8,341.1 L522.7,341.8 L524.5,342.5 L526.4,343.2 L528.3,344.0 L530.2,344.7 L532.0,345.4 L533.9,346.1 L535.8,346.8 L537.6,347.6 L539.5,348.3 L541.4,349.0 L543.2,349.8 L545.1,350.5 L546.9,351.2 L548.8,352.0 L550.7,352.7 L552.5,353.4 L554.4,354.2 L556.2,354.9 L558.1,355.7 L560.0,356.4 L561.8,357.2 L563.7,357.9 L565.5,358.7 L567.4,359.5 L569.2,360.2 L571.1,361.0 L572.9,361.8 L574.8,362.5 L576.6,363.3 L578.5,364.1 L580.3,364.8 L582.2,365.6 L584.0,366.4 L585.9,367.2 L587.7,367.9 L589.6,368.7 L591.4,369.5 L593.3,370.3 L595.1,371.1 L597.0,371.8 L598.8,372.6 L600.6,373.4 L602.5,374.2 L604.3,375.0 L606.2,375.8 L608.0,376.6 L609.9,377.4 L611.7,378.2 L613.5,379.0 L615.4,379.8 L617.2,380.6 L619.0,381.4 L620.9,382.2 L622.7,383.0 L624.6,383.8 L626.4,384.6 L628.2,385.4 L630.1,386.3 L631.9,387.1 L633.7,387.9 L635.6,388.7 L637.4,389.5 L639.2,390.3 L641.1,391.2 L642.9,392.0 L644.7,392.8 L646.5,393.6 L648.4,394.4 L650.2,395.3 L652.0,396.1 L653.9,396.9 L655.7,397.7 L657.5,398.6 L659.3,399.4 L661.2,400.2 L663.0,401.1 L664.8,401.9 L666.7,402.7 L668.5,403.6 L670.3,404.4 L672.1,405.2 L674.0,406.1 L675.8,406.9 L677.6,407.7 L679.4,408.6 L681.2,409.4 L683.1,410.2 L684.9,411.1 L686.7,411.9 L688.5,412.8 L690.4,413.6 L692.2,414.4 L694.0,415.3 L695.8,416.1 L697.6,417.0 L699.5,417.8 L701.3,418.7 L703.1,419.5 L704.9,420.3 L706.8,421.2 L708.6,422.0 L710.4,422.9 L712.2,423.7 L714.0,424.6 L715.9,425.4 L717.7,426.3 L719.5,427.1 L721.3,428.0 L723.1,428.8 L724.9,429.7 L726.8,430.5 L728.6,431.4 L730.4,432.2 L732.2,433.1 L734.0,433.9 L735.9,434.8 L737.7,435.6 L739.5,436.5 L741.3,437.3 L743.1,438.2 L745.0,439.0 L746.8,439.9 L748.6,440.7 L750.4,441.6 L752.2,442.4 L754.0,443.2 L755.9,444.1 L757.7,444.9 L759.5,445.8 L761.3,446.6 L763.1,447.5 L765.0,448.3 L766.8,449.2 L768.6,450.0 L770.4,450.9 L772.2,451.7 L774.0,452.6 L775.9,453.4 L777.7,454.3 L779.5,455.1 L781.3,456.0 L783.1,456.8 L785.0,457.7 L786.8,458.5 L788.6,459.4 L790.4,460.2 L792.2,461.1 L794.1,461.9 L795.9,462.8 L797.7,463.7 L799.5,464.5 L801.3,465.4 L803.2,466.2 L805.0,467.1 L806.8,467.9 L808.6,468.8 L810.4,469.6 L812.3,470.5 L814.1,471.3 L815.9,472.2 L817.7,473.0 L819.6,473.9 L821.4,474.7 L823.2,475.6 L825.0,476.5 L826.9,477.3 L828.7,478.2 L830.5,479.0 L832.3,479.9 L834.1,480.7 L836.0,481.6 L837.8,482.4 L839.6,483.3 L841.4,484.1 L843.3,485.0 L845.1,485.9 L846.9,486.7 L848.7,487.6 L850.6,488.4 L852.4,489.3 L854.2,490.1 L856.0,491.0 L857.9,491.8 L859.7,492.7 L861.5,493.6 L863.4,494.4 L865.2,495.3 L867.0,496.1 L868.8,497.0 L870.7,497.8 L872.5,498.7 L874.3,499.5 L876.2,500.4 L878.0,501.2 L879.8,502.1 L881.6,502.9 L883.5,503.8 L885.3,504.7 L887.1,505.5 L889.0,506.4 L890.8,507.2 L892.6,508.1 L894.4,508.9 L896.3,509.8 L898.1,510.6 L899.9,511.5 L901.8,512.3 L903.6,513.1 L905.4,514.0 L907.3,514.8 L909.1,515.7 L910.9,516.5 L912.8,517.4 L914.6,518.2 L916.4,519.0 L918.3,519.9 L920.1,520.7 L921.9,521.5 L923.8,522.4 L925.6,523.2 L927.4,524.0 L929.3,524.9 L931.1,525.7 L932.9,526.5 L934.8,527.3 L936.6,528.1 L938.4,529.0 L940.3,529.8 L942.1,530.6 L943.9,531.4 L945.8,532.2 L947.6,533.0 L949.5,533.8 L951.3,534.6 L953.1,535.4 L955.0,536.2 L956.8,537.0 L958.6,537.8 L960.5,538.6 L962.3,539.4 L964.2,540.2 L966.0,541.0 L967.8,541.8 L969.7,542.6 L971.5,543.3 L973.3,544.1 L975.2,544.9 L977.0,545.7 L978.9,546.4 L980.7,547.2 L982.5,548.0 L984.4,548.7 L986.2,549.5 L988.1,550.3 L989.9,551.0 L991.8,551.8 L993.6,552.6 L995.4,553.3 L997.3,554.1 L999.1,554.8 L1001.0,555.6 L1002.8,556.4 L1004.7,557.1 L1006.5,557.9 L1008.3,558.6 L1010.2,559.4 L1012.0,560.1 L1013.9,560.9 L1015.7,561.6 L1017.6,562.3 L1019.4,563.1 L1021.3,563.8 L1023.1,564.6 L1024.9,565.3 L1026.8,566.1 L1028.6,566.8 L1030.5,567.5 L1032.3,568.3 L1034.2,569.0 L1036.0,569.7 L1037.9,570.5 L1039.7,571.2 L1041.6,572.0 L1043.4,572.7 L1045.3,573.4 L1047.1,574.2 L1049.0,574.9 L1050.8,575.6 L1052.7,576.3 L1054.5,577.1 L1056.4,577.8 L1058.2,578.5 L1060.1,579.3 L1061.9,580.0 L1063.8,580.7 L1065.6,581.5 L1067.5,582.2 L1069.3,582.9 L1071.2,583.6 L1073.0,584.4 L1074.9,585.1 L1076.7,585.8 L1078.6,586.6 L1080.4,587.3 L1082.3,588.0 L1084.1,588.7 L1086.0,589.5 L1087.8,590.2 L1089.7,590.9 L1091.5,591.7 L1093.4,592.4 L1095.3,593.1 L1097.1,593.9 L1099.0,594.6 L1100.8,595.3 L1102.7,596.0 L1104.5,596.8 L1106.4,597.5 L1108.2,598.2 L1110.1,599.0 L1112.0,599.7 L1113.8,600.4 L1115.7,601.2 L1117.5,601.9 L1119.4,602.6 L1121.2,603.4 L1123.1,604.1 L1125.0,604.8 L1126.8,605.6 L1128.7,606.3 L1130.5,607.0 L1132.4,607.8 L1134.3,608.5 L1136.1,609.2 L1138.0,610.0 L1139.8,610.7 L1141.7,611.4 L1143.6,612.2 L1145.4,612.9 L1147.3,613.6 L1149.1,614.3 L1151.0,615.1 L1152.9,615.8 L1154.7,616.5 L1156.6,617.3 L1158.5,618.0 L1160.3,618.7 L1162.2,619.5 L1164.1,620.2 L1165.9,620.9 L1167.8,621.7 L1169.6,622.4 L1171.5,623.1 L1173.4,623.8 L1175.2,624.6 L1177.1,625.3 L1179.0,626.0 L1180.8,626.7 L1182.7,627.5 L1184.6,628.2 L1186.4,628.9 L1188.3,629.6 L1190.2,630.4 L1192.0,631.1 L1193.9,631.8 L1195.8,632.5 L1197.7,633.3 L1199.5,634.0 L1201.4,634.7 L1203.3,635.4 L1205.1,636.1 L1207.0,636.9 L1208.9,637.6 L1210.7,638.3 L1212.6,639.0 L1214.5,639.7 L1216.4,640.4 L1218.2,641.1 L1220.1,641.9 L1222.0,642.6 L1223.8,643.3 L1225.7,644.0 L1227.6,644.7 L1229.5,645.4 L1231.3,646.1 L1233.2,646.8 L1235.1,647.5 L1237.0,648.2 L1238.8,648.9 L1240.7,649.6 L1242.6,650.3 L1244.5,651.1 L1246.3,651.8 L1248.2,652.5 L1250.1,653.2 L1252.0,653.8 L1253.8,654.5 L1255.7,655.2 L1257.6,655.9 L1259.5,656.6 L1261.4,657.3 L1263.2,658.0 L1265.1,658.7 L1267.0,659.4 L1268.9,660.1 L1270.7,660.8 L1272.6,661.5 L1274.5,662.2 L1276.4,662.8 L1278.3,663.5 L1280.1,664.2 L1282.0,664.9 L1283.9,665.6 L1285.8,666.3 L1287.7,667.0 L1289.6,667.6 L1291.4,668.3 L1293.3,669.0 L1295.2,669.7 L1297.1,670.4 L1299.0,671.0 L1300.9,671.7 L1302.7,672.4 L1304.6,673.1 L1306.5,673.8 L1308.4,674.5 L1310.3,675.1 L1312.2,675.8 L1314.1,676.5 L1315.9,677.2 L1317.8,677.8 L1319.7,678.5 L1321.6,679.2 L1323.5,679.9 L1325.4,680.6 L1327.3,681.2 L1329.2,681.9 L1331.0,682.6 L1332.9,683.3 L1334.8,683.9 L1336.7,684.6 L1338.6,685.3 L1340.5,686.0 L1342.4,686.7 L1344.3,687.3 L1346.2,688.0 L1348.1,688.7 L1350.0,689.4 L1351.8,690.0 L1353.7,690.7 L1355.6,691.4 L1357.5,692.1 L1359.4,692.8 L1361.3,693.4 L1363.2,694.1 L1365.1,694.8 L1367.0,695.5 L1368.9,696.2 L1370.8,696.8 L1372.7,697.5 L1374.6,698.2 L1376.5,698.9 L1378.4,699.6 L1380.3,700.3 L1382.2,700.9 L1384.1,701.6 L1386.0,702.3 L1387.9,703.0 L1389.8,703.7 L1391.7,704.4 L1393.5,705.1 L1395.4,705.7 L1397.3,706.4 L1399.2,707.1 L1401.1,707.8 L1403.0,708.5 L1404.9,709.2 L1406.9,709.9 L1408.8,710.6 L1410.7,711.3 L1412.6,712.0 L1414.5,712.7 L1416.4,713.4 L1418.3,714.1 L1420.2,714.8 L1422.1,715.5 L1424.0,716.2 L1425.9,716.9 L1427.8,717.6 L1429.7,718.3 L1431.6,719.0 L1433.5,719.7 L1435.4,720.4 L1437.3,721.1 L1439.2,721.8 L1441.1,722.5 L1443.0,723.2 L1444.9,724.0"/><path d="M199.4,384.3 L201.4,384.6 L203.4,384.8 L205.4,385.1 L207.4,385.3 L209.4,385.6 L211.4,385.8 L213.4,386.1 L215.4,386.3 L217.4,386.6 L219.4,386.8 L221.4,387.1 L223.4,387.4 L225.4,387.6 L227.4,387.9 L229.4,388.2 L231.4,388.5 L233.4,388.7 L235.4,389.0 L237.4,389.3 L239.4,389.6 L241.4,389.9 L243.4,390.1 L245.4,390.4 L247.4,390.7 L249.4,391.0 L251.4,391.3 L253.4,391.6 L255.4,391.9 L257.4,392.2 L259.4,392.5 L261.4,392.8 L263.4,393.1 L265.3,393.5 L267.3,393.8 L269.3,394.1 L271.3,394.4 L273.3,394.7 L275.3,395.0 L277.3,395.4 L279.2,395.7 L281.2,396.0 L283.2,396.4 L285.2,396.7 L287.2,397.0 L289.2,397.4 L291.1,397.7 L293.1,398.0 L295.1,398.4 L297.1,398.7 L299.1,399.1 L301.0,399.4 L303.0,399.8 L305.0,400.1 L307.0,400.5 L309.0,400.8 L310.9,401.2 L312.9,401.6 L314.9,401.9 L316.9,402.3 L318.8,402.7 L320.8,403.0 L322.8,403.4 L324.7,403.8 L326.7,404.1 L328.7,404.5 L330.7,404.9 L332.6,405.3 L334.6,405.7 L336.6,406.1 L338.5,406.4 L340.5,406.8 L342.5,407.2 L344.4,407.6 L346.4,408.0 L348.4,408.4 L350.3,408.8 L352.3,409.2 L354.3,409.6 L356.2,410.0 L358.2,410.4 L360.1,410.8 L362.1,411.2 L364.1,411.7 L366.0,412.1 L368.0,412.5 L369.9,412.9 L371.9,413.3 L373.9,413.8 L375.8,414.2 L377.8,414.6 L379.7,415.0 L381.7,415.5 L383.6,415.9 L385.6,416.3 L387.6,416.8 L389.5,417.2 L391.5,417.6 L393.4,418.1 L395.4,418.5 L397.3,419.0 L399.3,419.4 L401.2,419.9 L403.2,420.3 L405.1,420.8 L407.1,421.2 L409.0,421.7 L411.0,422.1 L412.9,422.6 L414.9,423.1 L416.8,423.5 L418.8,424.0 L420.7,424.5 L422.7,424.9 L424.6,425.4 L426.6,425.9 L428.5,426.3 L430.5,426.8 L432.4,427.3 L434.3,427.8 L436.3,428.3 L438.2,428.7 L440.2,429.2 L442.1,429.7 L444.1,430.2 L446.0,430.7 L447.9,431.2 L449.9,431.7 L451.8,432.2 L453.8,432.7 L455.7,433.2 L457.6,433.7 L459.6,434.2 L461.5,434.7 L463.5,435.2 L465.4,435.7 L467.3,436.2 L469.3,436.7 L471.2,437.2 L473.1,437.7 L475.1,438.2 L477.0,438.7 L478.9,439.3 L480.9,439.8 L482.8,440.3 L484.7,440.8 L486.7,441.4 L488.6,441.9 L490.5,442.4 L492.5,442.9 L494.4,443.5 L496.3,444.0 L498.3,444.5 L500.2,445.1 L502.1,445.6 L504.0,446.1 L506.0,446.7 L507.9,447.2 L509.8,447.8 L511.8,448.3 L513.7,448.9 L515.6,449.4 L517.5,450.0 L519.5,450.5 L521.4,451.1 L523.3,451.6 L525.2,452.2 L527.2,452.7 L529.1,453.3 L531.0,453.9 L532.9,454.4 L534.9,455.0 L536.8,455.6 L538.7,456.1 L540.6,456.7 L542.5,457.3 L544.5,457.8 L546.4,458.4 L548.3,459.0 L550.2,459.6 L552.2,460.1 L554.1,460.7 L556.0,461.3 L557.9,461.9 L559.8,462.5 L561.7,463.0 L563.7,463.6 L565.6,464.2 L567.5,464.8 L569.4,465.4 L571.3,466.0 L573.3,466.6 L575.2,467.2 L577.1,467.8 L579.0,468.4 L580.9,469.0 L582.8,469.6 L584.7,470.2 L586.7,470.8 L588.6,471.4 L590.5,472.0 L592.4,472.6 L594.3,473.2 L596.2,473.8 L598.1,474.4 L600.1,475.0 L602.0,475.6 L603.9,476.2 L605.8,476.8 L607.7,477.5 L609.6,478.1 L611.5,478.7 L613.4,479.3 L615.3,479.9 L617.3,480.6 L619.2,481.2 L621.1,481.8 L623.0,482.4 L624.9,483.0 L626.8,483.7 L628.7,484.3 L630.6,484.9 L632.5,485.5 L634.4,486.2 L636.3,486.8 L638.2,487.4 L640.1,488.1 L642.1,488.7 L644.0,489.3 L645.9,490.0 L647.8,490.6 L649.7,491.2 L651.6,491.9 L653.5,492.5 L655.4,493.1 L657.3,493.8 L659.2,494.4 L661.1,495.1 L663.0,495.7 L664.9,496.3 L666.8,497.0 L668.7,497.6 L670.6,498.3 L672.5,498.9 L674.4,499.5 L676.3,500.2 L678.2,500.8 L680.1,501.5 L682.0,502.1 L683.9,502.8 L685.8,503.4 L687.7,504.1 L689.6,504.7 L691.5,505.3 L693.4,506.0 L695.3,506.6 L697.2,507.3 L699.1,507.9 L701.0,508.6 L702.9,509.2 L704.8,509.9 L706.7,510.5 L708.6,511.2 L710.5,511.8 L712.4,512.5 L714.3,513.1 L716.2,513.8 L718.1,514.4 L720.0,515.1 L721.9,515.7 L723.8,516.4 L725.7,517.0 L727.6,517.7 L729.5,518.3 L731.4,519.0 L733.3,519.6 L735.2,520.3 L737.1,521.0 L739.0,521.6 L740.9,522.3 L742.8,522.9 L744.7,523.6 L746.6,524.2 L748.5,524.9 L750.4,525.5 L752.3,526.2 L754.1,526.8 L756.0,527.5 L757.9,528.1 L759.8,528.8 L761.7,529.4 L763.6,530.1 L765.5,530.7 L767.4,531.4 L769.3,532.0 L771.2,532.7 L773.1,533.3 L775.0,534.0 L776.9,534.6 L778.8,535.3 L780.7,535.9 L782.6,536.6 L784.4,537.2 L786.3,537.9 L788.2,538.5 L790.1,539.2 L792.0,539.8 L793.9,540.4 L795.8,541.1 L797.7,541.7 L799.6,542.4 L801.5,543.0 L803.4,543.7 L805.3,544.3 L807.1,544.9 L809.0,545.6 L810.9,546.2 L812.8,546.9 L814.7,547.5 L816.6,548.2 L818.5,548.8 L820.4,549.4 L822.3,550.1 L824.2,550.7 L826.1,551.4 L827.9,552.0 L829.8,552.6 L831.7,553.3 L833.6,553.9 L835.5,554.6 L837.4,555.2 L839.3,555.8 L841.2,556.5 L843.1,557.1 L845.0,557.8 L846.8,558.4 L848.7,559.0 L850.6,559.7 L852.5,560.3 L854.4,561.0 L856.3,561.6 L858.2,562.3 L860.1,562.9 L862.0,563.5 L863.9,564.2 L865.7,564.8 L867.6,565.5 L869.5,566.1 L871.4,566.8 L873.3,567.4 L875.2,568.1 L877.1,568.7 L879.0,569.4 L880.9,570.0 L882.7,570.7 L884.6,571.3 L886.5,572.0 L888.4,572.6 L890.3,573.3 L892.2,573.9 L894.1,574.6 L896.0,575.2 L897.9,575.9 L899.7,576.6 L901.6,577.2 L903.5,577.9 L905.4,578.5 L907.3,579.2 L909.2,579.9 L911.1,580.5 L913.0,581.2 L914.9,581.9 L916.7,582.5 L918.6,583.2 L920.5,583.9 L922.4,584.6 L924.3,585.2 L926.2,585.9 L928.1,586.6 L930.0,587.3 L931.9,587.9 L933.7,588.6 L935.6,589.3 L937.5,590.0 L939.4,590.7 L941.3,591.4 L943.2,592.1 L945.1,592.8 L947.0,593.4 L948.9,594.1 L950.7,594.8 L952.6,595.5 L954.5,596.2 L956.4,596.9 L958.3,597.6 L960.2,598.4 L962.1,599.1 L964.0,599.8 L965.9,600.5 L967.8,601.2 L969.6,601.9 L971.5,602.6 L973.4,603.3 L975.3,604.0 L977.2,604.8 L979.1,605.5 L981.0,606.2 L982.9,606.9 L984.8,607.6 L986.7,608.3 L988.6,609.1 L990.4,609.8 L992.3,610.5 L994.2,611.2 L996.1,612.0 L998.0,612.7 L999.9,613.4 L1001.8,614.1 L1003.7,614.9 L1005.6,615.6 L1007.5,616.3 L1009.4,617.0 L1011.2,617.8 L1013.1,618.5 L1015.0,619.2 L1016.9,619.9 L1018.8,620.7 L1020.7,621.4 L1022.6,622.1 L1024.5,622.8 L1026.4,623.6 L1028.3,624.3 L1030.2,625.0 L1032.1,625.7 L1034.0,626.5 L1035.8,627.2 L1037.7,627.9 L1039.6,628.6 L1041.5,629.3 L1043.4,630.1 L1045.3,630.8 L1047.2,631.5 L1049.1,632.2 L1051.0,632.9 L1052.9,633.6 L1054.8,634.3 L1056.7,635.1 L1058.6,635.8 L1060.5,636.5 L1062.4,637.2 L1064.3,637.9 L1066.2,638.6 L1068.1,639.3 L1069.9,640.0 L1071.8,640.6 L1073.7,641.3 L1075.6,642.0 L1077.5,642.7 L1079.4,643.4 L1081.3,644.1 L1083.2,644.7 L1085.1,645.4 L1087.0,646.1 L1088.9,646.7 L1090.8,647.4 L1092.7,648.0 L1094.6,648.7 L1096.5,649.4 L1098.4,650.0 L1100.3,650.6 L1102.2,651.3 L1104.1,651.9 L1106.0,652.5 L1107.9,653.2 L1109.8,653.8 L1111.7,654.4 L1113.6,655.0 L1115.5,655.7 L1117.4,656.3 L1119.3,656.9 L1121.2,657.5 L1123.1,658.1 L1125.0,658.7 L1126.9,659.3 L1128.8,659.9 L1130.7,660.5 L1132.6,661.1 L1134.5,661.7 L1136.4,662.3 L1138.3,662.8 L1140.2,663.4 L1142.1,664.0 L1144.0,664.6 L1145.9,665.1 L1147.8,665.7 L1149.7,666.3 L1151.6,666.9 L1153.5,667.4 L1155.4,668.0 L1157.4,668.6 L1159.3,669.1 L1161.2,669.7 L1163.1,670.2 L1165.0,670.8 L1166.9,671.3 L1168.8,671.9 L1170.7,672.4 L1172.6,673.0 L1174.5,673.5 L1176.4,674.1 L1178.3,674.6 L1180.2,675.2 L1182.1,675.7 L1184.0,676.3 L1186.0,676.8 L1187.9,677.3 L1189.8,677.9 L1191.7,678.4 L1193.6,678.9 L1195.5,679.5 L1197.4,680.0 L1199.3,680.5 L1201.2,681.1 L1203.1,681.6 L1205.1,682.1 L1207.0,682.7 L1208.9,683.2 L1210.8,683.7 L1212.7,684.3 L1214.6,684.8 L1216.5,685.3 L1218.4,685.9 L1220.4,686.4 L1222.3,686.9 L1224.2,687.4 L1226.1,688.0 L1228.0,688.5 L1229.9,689.0 L1231.9,689.6 L1233.8,690.1 L1235.7,690.6 L1237.6,691.2 L1239.5,691.7 L1241.4,692.2 L1243.4,692.8 L1245.3,693.3 L1247.2,693.8 L1249.1,694.3 L1251.0,694.9 L1252.9,695.4 L1254.9,696.0 L1256.8,696.5 L1258.7,697.0 L1260.6,697.6 L1262.5,698.1 L1264.5,698.6 L1266.4,699.2 L1268.3,699.7 L1270.2,700.3 L1272.2,700.8 L1274.1,701.4 L1276.0,701.9 L1277.9,702.5 L1279.8,703.0 L1281.8,703.6 L1283.7,704.1 L1285.6,704.7 L1287.5,705.2 L1289.5,705.8 L1291.4,706.4 L1293.3,706.9 L1295.3,707.5 L1297.2,708.1 L1299.1,708.6 L1301.0,709.2 L1303.0,709.8 L1304.9,710.3 L1306.8,710.9 L1308.8,711.5 L1310.7,712.1 L1312.6,712.7 L1314.5,713.3 L1316.5,713.8 L1318.4,714.4 L1320.3,715.0 L1322.3,715.6 L1324.2,716.2 L1326.1,716.8 L1328.1,717.4 L1330.0,718.1 L1331.9,718.7 L1333.9,719.3 L1335.8,719.9 L1337.7,720.5 L1339.7,721.1 L1341.6,721.8 L1343.5,722.4 L1345.5,723.0 L1347.4,723.7 L1349.4,724.3 L1351.3,725.0 L1353.2,725.6 L1355.2,726.3 L1357.1,726.9 L1359.1,727.6 L1361.0,728.2"/><path d="M199.5,518.3 L201.5,518.6 L203.5,518.8 L205.5,519.1 L207.5,519.4 L209.5,519.7 L211.5,519.9 L213.5,520.2 L215.5,520.5 L217.5,520.8 L219.5,521.0 L221.5,521.3 L223.4,521.6 L225.4,521.8 L227.4,522.1 L229.4,522.4 L231.4,522.7 L233.4,522.9 L235.4,523.2 L237.4,523.5 L239.4,523.8 L241.4,524.0 L243.3,524.3 L245.3,524.6 L247.3,524.9 L249.3,525.1 L251.3,525.4 L253.3,525.7 L255.3,526.0 L257.3,526.2 L259.3,526.5 L261.3,526.8 L263.2,527.1 L265.2,527.3 L267.2,527.6 L269.2,527.9 L271.2,528.2 L273.2,528.5 L275.2,528.7 L277.2,529.0 L279.1,529.3 L281.1,529.6 L283.1,529.8 L285.1,530.1 L287.1,530.4 L289.1,530.7 L291.1,530.9 L293.1,531.2 L295.0,531.5 L297.0,531.8 L299.0,532.1 L301.0,532.3 L303.0,532.6 L305.0,532.9 L307.0,533.2 L309.0,533.5 L310.9,533.7 L312.9,534.0 L314.9,534.3 L316.9,534.6 L318.9,534.9 L320.9,535.2 L322.9,535.4 L324.8,535.7 L326.8,536.0 L328.8,536.3 L330.8,536.6 L332.8,536.8 L334.8,537.1 L336.8,537.4 L338.7,537.7 L340.7,538.0 L342.7,538.3 L344.7,538.6 L346.7,538.8 L348.7,539.1 L350.7,539.4 L352.6,539.7 L354.6,540.0 L356.6,540.3 L358.6,540.6 L360.6,540.8 L362.6,541.1 L364.5,541.4 L366.5,541.7 L368.5,542.0 L370.5,542.3 L372.5,542.6 L374.5,542.9 L376.4,543.2 L378.4,543.4 L380.4,543.7 L382.4,544.0 L384.4,544.3 L386.4,544.6 L388.3,544.9 L390.3,545.2 L392.3,545.5 L394.3,545.8 L396.3,546.1 L398.2,546.4 L400.2,546.7 L402.2,547.0 L404.2,547.3 L406.2,547.5 L408.1,547.8 L410.1,548.1 L412.1,548.4 L414.1,548.7 L416.1,549.0 L418.1,549.3 L420.0,549.6 L422.0,549.9 L424.0,550.2 L426.0,550.5 L428.0,550.8 L429.9,551.1 L431.9,551.4 L433.9,551.7 L435.9,552.0 L437.9,552.3 L439.8,552.6 L441.8,552.9 L443.8,553.2 L445.8,553.5 L447.7,553.9 L449.7,554.2 L451.7,554.5 L453.7,554.8 L455.7,555.1 L457.6,555.4 L459.6,555.7 L461.6,556.0 L463.6,556.3 L465.5,556.6 L467.5,556.9 L469.5,557.2 L471.5,557.6 L473.5,557.9 L475.4,558.2 L477.4,558.5 L479.4,558.8 L481.4,559.1 L483.3,559.4 L485.3,559.7 L487.3,560.1 L489.3,560.4 L491.2,560.7 L493.2,561.0 L495.2,561.3 L497.2,561.6 L499.1,562.0 L501.1,562.3 L503.1,562.6 L505.1,562.9 L507.0,563.2 L509.0,563.6 L511.0,563.9 L513.0,564.2 L514.9,564.5 L516.9,564.8 L518.9,565.2 L520.9,565.5 L522.8,565.8 L524.8,566.1 L526.8,566.5 L528.8,566.8 L530.7,567.1 L532.7,567.5 L534.7,567.8 L536.7,568.1 L538.6,568.4 L540.6,568.8 L542.6,569.1 L544.5,569.4 L546.5,569.8 L548.5,570.1 L550.5,570.4 L552.4,570.8 L554.4,571.1 L556.4,571.5 L558.3,571.8 L560.3,572.1 L562.3,572.5 L564.3,572.8 L566.2,573.1 L568.2,573.5 L570.2,573.8 L572.1,574.2 L574.1,574.5 L576.1,574.9 L578.1,575.2 L580.0,575.5 L582.0,575.9 L584.0,576.2 L585.9,576.6 L587.9,576.9 L589.9,577.3 L591.8,577.6 L593.8,578.0 L595.8,578.3 L597.7,578.7 L599.7,579.0 L601.7,579.4 L603.6,579.7 L605.6,580.1 L607.6,580.4 L609.6,580.8 L611.5,581.1 L613.5,581.5 L615.5,581.8 L617.4,582.2 L619.4,582.6 L621.4,582.9 L623.3,583.3 L625.3,583.6 L627.3,584.0 L629.2,584.4 L631.2,584.7 L633.2,585.1 L635.1,585.4 L637.1,585.8 L639.0,586.2 L641.0,586.5 L643.0,586.9 L644.9,587.3 L646.9,587.6 L648.9,588.0 L650.8,588.4 L652.8,588.7 L654.8,589.1 L656.7,589.5 L658.7,589.8 L660.7,590.2 L662.6,590.6 L664.6,591.0 L666.6,591.3 L668.5,591.7 L670.5,592.1 L672.4,592.5 L674.4,592.9 L676.4,593.2 L678.3,593.6 L680.3,594.0 L682.3,594.4 L684.2,594.8 L686.2,595.2 L688.1,595.6 L690.1,596.0 L692.1,596.4 L694.0,596.8 L696.0,597.2 L697.9,597.6 L699.9,598.0 L701.9,598.4 L703.8,598.8 L705.8,599.3 L707.7,599.7 L709.7,600.1 L711.7,600.5 L713.6,601.0 L715.6,601.4 L717.5,601.8 L719.5,602.3 L721.5,602.7 L723.4,603.2 L725.4,603.6 L727.3,604.1 L729.3,604.6 L731.3,605.0 L733.2,605.5 L735.2,606.0 L737.1,606.4 L739.1,606.9 L741.0,607.4 L743.0,607.9 L745.0,608.4 L746.9,608.9 L748.9,609.4 L750.8,609.9 L752.8,610.4 L754.7,610.9 L756.7,611.5 L758.7,612.0 L760.6,612.5 L762.6,613.1 L764.5,613.6 L766.5,614.2 L768.4,614.7 L770.4,615.3 L772.3,615.8 L774.3,616.4 L776.3,616.9 L778.2,617.5 L780.2,618.0 L782.1,618.6 L784.1,619.2 L786.0,619.7 L788.0,620.3 L789.9,620.8 L791.9,621.4 L793.8,622.0 L795.8,622.5 L797.7,623.1 L799.7,623.6 L801.6,624.1 L803.6,624.7 L805.6,625.2 L807.5,625.8 L809.5,626.3 L811.4,626.8 L813.4,627.4 L815.3,627.9 L817.3,628.4 L819.2,628.9 L821.2,629.4 L823.1,630.0 L825.1,630.5 L827.0,631.0 L829.0,631.5 L830.9,632.0 L832.9,632.5 L834.8,633.0 L836.8,633.5 L838.7,634.0 L840.7,634.5 L842.6,635.0 L844.6,635.5 L846.5,636.0 L848.5,636.4 L850.4,636.9 L852.3,637.4 L854.3,637.9 L856.2,638.4 L858.2,638.8 L860.1,639.3 L862.1,639.8 L864.0,640.3 L866.0,640.7 L867.9,641.2 L869.9,641.7 L871.8,642.1 L873.8,642.6 L875.7,643.1 L877.7,643.5 L879.6,644.0 L881.5,644.4 L883.5,644.9 L885.4,645.4 L887.4,645.8 L889.3,646.3 L891.3,646.7 L893.2,647.2 L895.2,647.6 L897.1,648.1 L899.0,648.5 L901.0,649.0 L902.9,649.4 L904.9,649.9 L906.8,650.3 L908.8,650.8 L910.7,651.2 L912.6,651.7 L914.6,652.1 L916.5,652.6 L918.5,653.0 L920.4,653.4 L922.4,653.9 L924.3,654.3 L926.2,654.8 L928.2,655.2 L930.1,655.7 L932.1,656.1 L934.0,656.5 L935.9,657.0 L937.9,657.4 L939.8,657.9 L941.8,658.3 L943.7,658.8 L945.6,659.2 L947.6,659.6 L949.5,660.1 L951.4,660.5 L953.4,661.0 L955.3,661.4 L957.3,661.9 L959.2,662.3 L961.1,662.8 L963.1,663.2 L965.0,663.7 L966.9,664.1 L968.9,664.6 L970.8,665.0 L972.8,665.5 L974.7,665.9 L976.6,666.4 L978.6,666.8 L980.5,667.3 L982.4,667.7 L984.4,668.2 L986.3,668.6 L988.2,669.1 L990.2,669.6 L992.1,670.0 L994.0,670.5 L996.0,670.9 L997.9,671.4 L999.8,671.9 L1001.8,672.3 L1003.7,672.8 L1005.6,673.3 L1007.6,673.8 L1009.5,674.2 L1011.4,674.7 L1013.4,675.2 L1015.3,675.7 L1017.2,676.1 L1019.2,676.6 L1021.1,677.1 L1023.0,677.6 L1025.0,678.1 L1026.9,678.6 L1028.8,679.1 L1030.8,679.6 L1032.7,680.1 L1034.6,680.6 L1036.6,681.1 L1038.5,681.6 L1040.4,682.1 L1042.3,682.6 L1044.3,683.1 L1046.2,683.6 L1048.1,684.1 L1050.1,684.6 L1052.0,685.2 L1053.9,685.7 L1055.8,686.2 L1057.8,686.7 L1059.7,687.3 L1061.6,687.8 L1063.5,688.3 L1065.5,688.9 L1067.4,689.4 L1069.3,690.0 L1071.3,690.5 L1073.2,691.1 L1075.1,691.6 L1077.0,692.2 L1079.0,692.8 L1080.9,693.3 L1082.8,693.9 L1084.7,694.5 L1086.7,695.0 L1088.6,695.6 L1090.5,696.2 L1092.4,696.8 L1094.4,697.4 L1096.3,697.9 L1098.2,698.5 L1100.1,699.1 L1102.0,699.7 L1104.0,700.3 L1105.9,700.9 L1107.8,701.5 L1109.7,702.1 L1111.7,702.7 L1113.6,703.3 L1115.5,703.9 L1117.4,704.5 L1119.3,705.2 L1121.3,705.8 L1123.2,706.4 L1125.1,707.0 L1127.0,707.6 L1128.9,708.2 L1130.9,708.9 L1132.8,709.5 L1134.7,710.1 L1136.6,710.7 L1138.5,711.3 L1140.5,712.0 L1142.4,712.6 L1144.3,713.2 L1146.2,713.8 L1148.1,714.4 L1150.1,715.1 L1152.0,715.7 L1153.9,716.3 L1155.8,716.9 L1157.7,717.6 L1159.6,718.2 L1161.6,718.8 L1163.5,719.4 L1165.4,720.1 L1167.3,720.7 L1169.2,721.3 L1171.1,721.9 L1173.0,722.6 L1175.0,723.2 L1176.9,723.8 L1178.8,724.4 L1180.7,725.1 L1182.6,725.7 L1184.5,726.3 L1186.4,726.9 L1188.4,727.6 L1190.3,728.2 L1192.2,728.8 L1194.1,729.4 L1196.0,730.1 L1197.9,730.7 L1199.8,731.3 L1201.7,731.9 L1203.7,732.5 L1205.6,733.2 L1207.5,733.8 L1209.4,734.4 L1211.3,735.0 L1213.2,735.6 L1215.1,736.2 L1217.0,736.9 L1218.9,737.5 L1220.8,738.1 L1222.8,738.7 L1224.7,739.3 L1226.6,739.9 L1228.5,740.5 L1230.4,741.1 L1232.3,741.7 L1234.2,742.3 L1236.1,742.9 L1238.0,743.5 L1239.9,744.1 L1241.8,744.7 L1243.7,745.3 L1245.6,745.9 L1247.6,746.5 L1249.5,747.1 L1251.4,747.7 L1253.3,748.3 L1255.2,748.9 L1257.1,749.5 L1259.0,750.1 L1260.9,750.7 L1262.8,751.3 L1264.7,751.8 L1266.6,752.4 L1268.5,753.0 L1270.4,753.6 L1272.3,754.1 L1274.2,754.7"/><path d="M187.4,647.5 L189.4,647.6 L191.4,647.8 L193.4,647.9 L195.4,648.1 L197.4,648.2 L199.4,648.3 L201.3,648.5 L203.3,648.6 L205.3,648.7 L207.3,648.9 L209.3,649.0 L211.3,649.1 L213.3,649.3 L215.3,649.4 L217.3,649.5 L219.3,649.6 L221.2,649.8 L223.2,649.9 L225.2,650.0 L227.2,650.2 L229.2,650.3 L231.2,650.4 L233.2,650.5 L235.2,650.6 L237.2,650.8 L239.2,650.9 L241.2,651.0 L243.2,651.1 L245.2,651.2 L247.2,651.4 L249.2,651.5 L251.1,651.6 L253.1,651.7 L255.1,651.8 L257.1,652.0 L259.1,652.1 L261.1,652.2 L263.1,652.3 L265.1,652.4 L267.1,652.5 L269.1,652.6 L271.1,652.8 L273.1,652.9 L275.1,653.0 L277.1,653.1 L279.1,653.2 L281.1,653.3 L283.1,653.4 L285.1,653.5 L287.1,653.6 L289.1,653.7 L291.1,653.9 L293.1,654.0 L295.1,654.1 L297.1,654.2 L299.1,654.3 L301.1,654.4 L303.1,654.5 L305.1,654.6 L307.1,654.7 L309.1,654.8 L311.1,654.9 L313.1,655.0 L315.1,655.1 L317.1,655.3 L319.1,655.4 L321.1,655.5 L323.1,655.6 L325.1,655.7 L327.1,655.8 L329.1,655.9 L331.1,656.0 L333.1,656.1 L335.1,656.2 L337.2,656.3 L339.2,656.4 L341.2,656.5 L343.2,656.6 L345.2,656.7 L347.2,656.8 L349.2,656.9 L351.2,657.0 L353.2,657.1 L355.2,657.3 L357.2,657.4 L359.2,657.5 L361.2,657.6 L363.2,657.7 L365.2,657.8 L367.2,657.9 L369.2,658.0 L371.2,658.1 L373.2,658.2 L375.2,658.3 L377.3,658.4 L379.3,658.5 L381.3,658.6 L383.3,658.7 L385.3,658.9 L387.3,659.0 L389.3,659.1 L391.3,659.2 L393.3,659.3 L395.3,659.4 L397.3,659.5 L399.3,659.6 L401.3,659.7 L403.3,659.8 L405.3,660.0 L407.4,660.1 L409.4,660.2 L411.4,660.3 L413.4,660.4 L415.4,660.5 L417.4,660.6 L419.4,660.8 L421.4,660.9 L423.4,661.0 L425.4,661.1 L427.4,661.2 L429.4,661.3 L431.4,661.5 L433.4,661.6 L435.5,661.7 L437.5,661.8 L439.5,661.9 L441.5,662.1 L443.5,662.2 L445.5,662.3 L447.5,662.4 L449.5,662.6 L451.5,662.7 L453.5,662.8 L455.5,662.9 L457.5,663.1 L459.5,663.2 L461.6,663.3 L463.6,663.4 L465.6,663.6 L467.6,663.7 L469.6,663.8 L471.6,664.0 L473.6,664.1 L475.6,664.2 L477.6,664.4 L479.6,664.5 L481.6,664.6 L483.6,664.8 L485.6,664.9 L487.6,665.1 L489.6,665.2 L491.7,665.3 L493.7,665.5 L495.7,665.6 L497.7,665.8 L499.7,665.9 L501.7,666.1 L503.7,666.2 L505.7,666.4 L507.7,666.5 L509.7,666.7 L511.7,666.8 L513.7,667.0 L515.7,667.1 L517.7,667.3 L519.7,667.4 L521.7,667.6 L523.7,667.7 L525.7,667.9 L527.7,668.1 L529.8,668.2 L531.8,668.4 L533.8,668.6 L535.8,668.7 L537.8,668.9 L539.8,669.1 L541.8,669.2 L543.8,669.4 L545.8,669.6 L547.8,669.7 L549.8,669.9 L551.8,670.1 L553.8,670.3 L555.8,670.4 L557.8,670.6 L559.8,670.8 L561.8,671.0 L563.8,671.2 L565.8,671.4 L567.8,671.5 L569.8,671.7 L571.8,671.9 L573.8,672.1 L575.8,672.3 L577.8,672.5 L579.8,672.7 L581.8,672.9 L583.8,673.1 L585.8,673.3 L587.8,673.5 L589.8,673.7 L591.8,673.9 L593.8,674.1 L595.8,674.3 L597.8,674.5 L599.8,674.7 L601.8,675.0 L603.8,675.2 L605.8,675.4 L607.8,675.6 L609.8,675.8 L611.8,676.0 L613.8,676.3 L615.8,676.5 L617.8,676.7 L619.8,676.9 L621.8,677.2 L623.8,677.4 L625.8,677.6 L627.7,677.9 L629.7,678.1 L631.7,678.4 L633.7,678.6 L635.7,678.8 L637.7,679.1 L639.7,679.3 L641.7,679.6 L643.7,679.8 L645.7,680.1 L647.7,680.3 L649.7,680.6 L651.7,680.9 L653.7,681.1 L655.6,681.4 L657.6,681.6 L659.6,681.9 L661.6,682.2 L663.6,682.4 L665.6,682.7 L667.6,683.0 L669.6,683.3 L671.6,683.5 L673.5,683.8 L675.5,684.1 L677.5,684.4 L679.5,684.7 L681.5,685.0 L683.5,685.2 L685.5,685.5 L687.4,685.8 L689.4,686.1 L691.4,686.4 L693.4,686.7 L695.4,687.0 L697.4,687.3 L699.4,687.6 L701.3,687.9 L703.3,688.2 L705.3,688.5 L707.3,688.9 L709.3,689.2 L711.2,689.5 L713.2,689.8 L715.2,690.1 L717.2,690.4 L719.2,690.8 L721.1,691.1 L723.1,691.4 L725.1,691.7 L727.1,692.1 L729.0,692.4 L731.0,692.7 L733.0,693.0 L735.0,693.4 L737.0,693.7 L738.9,694.1 L740.9,694.4 L742.9,694.7 L744.9,695.1 L746.8,695.4 L748.8,695.8 L750.8,696.1 L752.7,696.5 L754.7,696.8 L756.7,697.2 L758.7,697.5 L760.6,697.9 L762.6,698.2 L764.6,698.6 L766.5,699.0 L768.5,699.3 L770.5,699.7 L772.4,700.0 L774.4,700.4 L776.4,700.8 L778.3,701.2 L780.3,701.5 L782.3,701.9 L784.2,702.3 L786.2,702.7 L788.2,703.0 L790.1,703.4 L792.1,703.8 L794.0,704.2 L796.0,704.6 L798.0,704.9 L799.9,705.3 L801.9,705.7 L803.8,706.1 L805.8,706.5 L807.8,706.9 L809.7,707.3 L811.7,707.7 L813.6,708.1 L815.6,708.5 L817.6,708.9 L819.5,709.3 L821.5,709.7 L823.4,710.1 L825.4,710.5 L827.3,710.9 L829.3,711.3 L831.2,711.7 L833.2,712.2 L835.1,712.6 L837.1,713.0 L839.0,713.4 L841.0,713.9 L842.9,714.3 L844.9,714.7 L846.8,715.2 L848.8,715.6 L850.7,716.0 L852.7,716.5 L854.6,716.9 L856.5,717.4 L858.5,717.8 L860.4,718.3 L862.4,718.7 L864.3,719.2 L866.3,719.6 L868.2,720.1 L870.1,720.5 L872.1,721.0 L874.0,721.5 L876.0,722.0 L877.9,722.4 L879.8,722.9 L881.8,723.4 L883.7,723.9 L885.6,724.4 L887.6,724.9 L889.5,725.3 L891.4,725.8 L893.4,726.3 L895.3,726.8 L897.2,727.4 L899.2,727.9 L901.1,728.4 L903.0,728.9 L905.0,729.4 L906.9,729.9 L908.8,730.5 L910.7,731.0 L912.7,731.5 L914.6,732.1 L916.5,732.6 L918.4,733.2 L920.4,733.7 L922.3,734.3 L924.2,734.8 L926.1,735.4 L928.0,735.9 L930.0,736.5 L931.9,737.1 L933.8,737.7 L935.7,738.2 L937.6,738.8 L939.6,739.4 L941.5,740.0 L943.4,740.6 L945.3,741.2 L947.2,741.8 L949.1,742.4 L951.0,743.0 L952.9,743.6 L954.9,744.3 L956.8,744.9 L958.7,745.5 L960.6,746.1 L962.5,746.8 L964.4,747.4 L966.3,748.1 L968.2,748.7 L970.1,749.4 L972.0,750.1 L973.9,750.7 L975.8,751.4 L977.7,752.1 L979.6,752.8 L981.5,753.4 L983.4,754.1 L985.3,754.8 L987.2,755.5 L989.1,756.2 L991.0,756.9 L992.9,757.7 L994.8,758.4 L996.7,759.1 L998.6,759.8 L1000.5,760.6 L1002.4,761.3 L1004.3,762.1 L1006.1,762.8 L1008.0,763.6 L1009.9,764.4 L1011.8,765.1 L1013.7,765.9 L1015.6,766.7 L1017.5,767.5 L1019.4,768.3 L1021.2,769.1 L1023.1,769.9 L1025.0,770.7 L1026.9,771.5 L1028.8,772.3 L1030.6,773.2 L1032.5,774.0 L1034.4,774.8 L1036.3,775.7 L1038.1,776.5 L1040.0,777.4"/></g><rect x="919.3" y="120.4" width="624.5" height="138.1" fill="#aa3a48"/><rect x="925.7" y="126.8" width="611.5" height="123.1" fill="#fff"/><g font-family="Liberation Sans"><text transform="translate(79.42,72.00) scale(1.0835,1)" font-size="32" fill="#1a1a1a" stroke="#1a1a1a" stroke-width="0.35">(bar)</text><text transform="translate(228.43,72.80) scale(0.9869,1)" font-size="34.7" fill="#1a1a1a" stroke="#1a1a1a" stroke-width="0.35">33 m3/h</text><text transform="translate(302.57,118.40) scale(0.9979,1)" font-size="34.7" fill="#1a1a1a" stroke="#1a1a1a" stroke-width="0.35">69 m3/h</text><text transform="translate(499.42,200.60) scale(0.9904,1)" font-size="34.7" fill="#1a1a1a" stroke="#1a1a1a" stroke-width="0.35">135 m3/h</text><text transform="translate(612.61,244.60) scale(0.9961,1)" font-size="34.7" fill="#1a1a1a" stroke="#1a1a1a" stroke-width="0.35">171 m3/h</text><text transform="translate(715.05,290.20) scale(1.0092,1)" font-size="34.7" fill="#1a1a1a" stroke="#1a1a1a" stroke-width="0.35">203 m3/h</text><text transform="translate(869.25,384.20) scale(1.0063,1)" font-size="34.7" fill="#1a1a1a" stroke="#1a1a1a" stroke-width="0.35">235 m3/h</text><text transform="translate(383.65,461.00) scale(0.9372,1)" font-size="34.7" fill="#1a1a1a" stroke="#1a1a1a" stroke-width="0.35">4.<tspan fill="#6a3c47" stroke="#6a3c47">1</tspan> bar</text><text transform="translate(516.84,613.00) scale(0.9587,1)" font-size="34.7" fill="#1a1a1a" stroke="#1a1a1a" stroke-width="0.35">2.8 bar</text><text transform="translate(652.08,750.50) scale(0.9794,1)" font-size="35.6" fill="#1a1a1a" stroke="#1a1a1a" stroke-width="0.35">1.4 bar</text><text transform="translate(1293.85,86.30) scale(0.9700,1)" font-size="53.5" fill="#1a1a1a" stroke="#1a1a1a" stroke-width="0.35">DP 30 (3”)</text><text transform="translate(933.28,171.20) scale(1.0331,1)" font-size="45" fill="#767676" stroke="#767676" stroke-width="0.35">Performance based on water</text><text transform="translate(933.64,218.00) scale(1.0322,1)" font-size="45" fill="#767676" stroke="#767676" stroke-width="0.35">at ambient temperature<tspan fill="#4a4a4a" stroke="#4a4a4a">.</tspan></text><text transform="translate(661.11,952.50) scale(1.0200,1)" font-size="36.5" fill="#7b7b7b" stroke="#7b7b7b" stroke-width="0.35">Volumetric Capacity LPM</text><text transform="translate(138.91,128.33) scale(1.2282,1)" font-size="34" fill="#1a1a1a" stroke="#1a1a1a" stroke-width="0.35">7</text><text transform="translate(138.96,228.13) scale(1.2018,1)" font-size="34" fill="#1a1a1a" stroke="#1a1a1a" stroke-width="0.35">6</text><text transform="translate(139.40,320.06) scale(1.1765,1)" font-size="34" fill="#1a1a1a" stroke="#1a1a1a" stroke-width="0.35">5</text><text transform="translate(140.25,415.04) scale(1.1066,1)" font-size="34" fill="#1a1a1a" stroke="#1a1a1a" stroke-width="0.35">4</text><text transform="translate(139.38,513.53) scale(1.1890,1)" font-size="34" fill="#1a1a1a" stroke="#1a1a1a" stroke-width="0.35">3</text><text transform="translate(138.91,603.40) scale(1.2282,1)" font-size="34" fill="#1a1a1a" stroke="#1a1a1a" stroke-width="0.35">2</text><text transform="translate(140.44,696.63) scale(0.9263,1)" font-size="34" fill="#1a1a1a" stroke="#1a1a1a" stroke-width="0.35">1</text><text transform="translate(190.16,847.80) scale(1.0700,1)" font-size="33.5" fill="#1a1a1a" stroke="#1a1a1a" stroke-width="0.35">0</text><text transform="translate(320.84,847.80) scale(1.0000,1)" font-size="33.5" fill="#1a1a1a" stroke="#1a1a1a" stroke-width="0.35">100</text><text transform="translate(471.66,847.80) scale(1.0000,1)" font-size="33.5" fill="#1a1a1a" stroke="#1a1a1a" stroke-width="0.35">200</text><text transform="translate(616.03,847.80) scale(1.0000,1)" font-size="33.5" fill="#1a1a1a" stroke="#1a1a1a" stroke-width="0.35">300</text><text transform="translate(772.36,847.80) scale(1.0000,1)" font-size="33.5" fill="#1a1a1a" stroke="#1a1a1a" stroke-width="0.35">400</text><text transform="translate(926.63,847.80) scale(1.0000,1)" font-size="33.5" fill="#1a1a1a" stroke="#1a1a1a" stroke-width="0.35">500</text><text transform="translate(1063.86,847.80) scale(1.0000,1)" font-size="33.5" fill="#1a1a1a" stroke="#1a1a1a" stroke-width="0.35">600</text><text transform="translate(1223.86,847.80) scale(1.0000,1)" font-size="33.5" fill="#1a1a1a" stroke="#1a1a1a" stroke-width="0.35">700</text><text transform="translate(1365.54,847.80) scale(1.0000,1)" font-size="33.5" fill="#1a1a1a" stroke="#1a1a1a" stroke-width="0.35">800</text><text transform="translate(1516.94,847.80) scale(1.0000,1)" font-size="33.5" fill="#1a1a1a" stroke="#1a1a1a" stroke-width="0.35">900</text></g><g transform="translate(67.8,622.23) rotate(-90) scale(1.0021,1)"><text font-family="Liberation Sans" font-size="36.5" fill="#7b7b7b" stroke="#7b7b7b" stroke-width="0.35">Total discharge head</text></g></svg></body></html>
